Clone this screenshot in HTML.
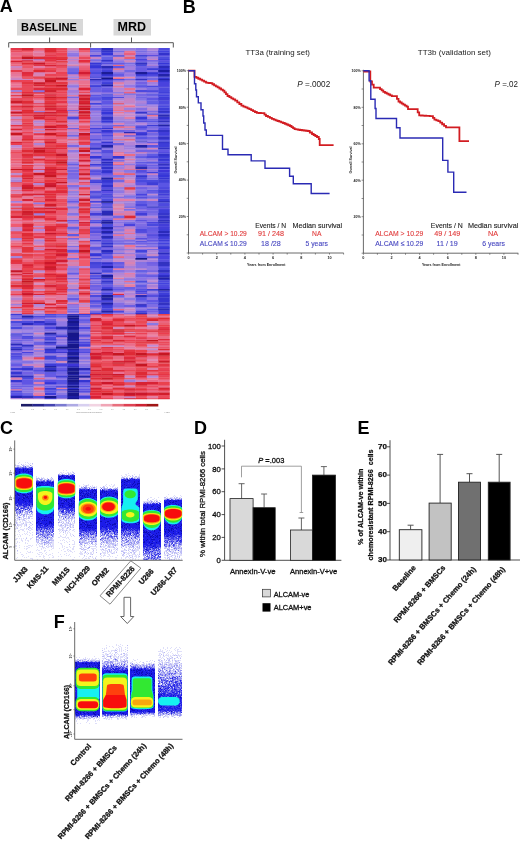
<!DOCTYPE html>
<html><head><meta charset="utf-8"><style>
html,body{margin:0;padding:0;background:#fff;width:520px;height:843px;overflow:hidden}
svg{display:block;font-family:"Liberation Sans", sans-serif;will-change:transform}
</style></head><body>
<svg width="520" height="843" viewBox="0 0 520 843">
<defs><filter id="gb" x="0" y="0" width="100%" height="100%"><feGaussianBlur stdDeviation="0.32"/></filter></defs>
<g filter="url(#gb)"><rect width="520" height="843" fill="#fff"/>
<text x="-0.3" y="12.3" font-size="18" font-weight="bold" fill="#000" text-anchor="start" >A</text>
<text x="182.7" y="12.6" font-size="18" font-weight="bold" fill="#000" text-anchor="start" >B</text>
<text x="0" y="434.2" font-size="18" font-weight="bold" fill="#000" text-anchor="start" >C</text>
<text x="194.1" y="434" font-size="18" font-weight="bold" fill="#000" text-anchor="start" >D</text>
<text x="357.5" y="434.3" font-size="18" font-weight="bold" fill="#000" text-anchor="start" >E</text>
<text x="53.7" y="628" font-size="18" font-weight="bold" fill="#000" text-anchor="start" >F</text>
<rect x="17" y="19" width="66" height="16.5" fill="#d8d8d8" stroke="none" stroke-width="1" />
<text x="21" y="31" font-size="11" font-weight="bold" fill="#000" text-anchor="start" textLength="56" lengthAdjust="spacingAndGlyphs" >BASELINE</text>
<rect x="113.5" y="19" width="37.5" height="16.5" fill="#d8d8d8" stroke="none" stroke-width="1" />
<text x="117.5" y="31.3" font-size="12.5" font-weight="bold" fill="#000" text-anchor="start" textLength="28.5" lengthAdjust="spacingAndGlyphs" >MRD</text>
<path d="M8.7 47.5V42.7H90.6V47.5M49.6 42.7V37.5M90.6 42.7H173.3V47.5M131.5 42.7V37.5" fill="none" stroke="#555" stroke-width="1"/>
<defs><filter id="hb" x="-2%" y="-1%" width="104%" height="102%"><feGaussianBlur stdDeviation="0.35"/></filter></defs><g filter="url(#hb)">
<path fill="#e43648" d="M10.6 48h11.7v2.8h-11.7zM10.6 262h11.7v2.3h-11.7zM21.9 114.5h11.7v2.3h-11.7zM21.9 122.5h11.7v2.3h-11.7zM21.9 135h11.7v1.8h-11.7zM21.9 136.5h11.7v2.8h-11.7zM21.9 156h11.7v2.8h-11.7zM21.9 170h11.7v2.3h-11.7zM21.9 173h11.7v2.3h-11.7zM21.9 183h11.7v2.3h-11.7zM21.9 242.5h11.7v2.3h-11.7zM33.3 64.5h11.7v1.8h-11.7zM33.3 133h11.7v2.3h-11.7zM33.3 236h11.7v2.3h-11.7zM44.6 70h11.7v2.3h-11.7zM44.6 94.5h11.7v2.3h-11.7zM44.6 149.5h11.7v2.8h-11.7zM44.6 245.5h11.7v1.8h-11.7zM56 86h11.7v1.8h-11.7zM56 100.5h11.7v2.8h-11.7zM56 107.5h11.7v2.8h-11.7zM56 177.5h11.7v2.3h-11.7zM56 284.5h11.7v2.8h-11.7zM56 302.5h11.7v1.8h-11.7zM78.7 48h11.7v2.8h-11.7zM78.7 182h11.7v1.3h-11.7zM78.7 215.5h11.7v2.8h-11.7zM78.7 223.5h11.7v2.8h-11.7zM78.7 256h11.7v2.3h-11.7zM90 314h11.7v1.8h-11.7zM90 325h11.7v1.8h-11.7zM90 337h11.7v2.3h-11.7zM90 375.5h11.7v2.3h-11.7zM101.3 375.5h11.7v2.3h-11.7zM101.3 389h11.7v1.8h-11.7zM135.4 314h11.7v1.8h-11.7zM135.4 340h11.7v1.8h-11.7zM135.4 370h11.7v1.8h-11.7zM146.7 374h11.7v1.8h-11.7zM158.1 326.5h11.7v2.8h-11.7zM158.1 352h11.7v1.3h-11.7z"/>
<path fill="#ea4e60" d="M10.6 50.5h11.7v2.3h-11.7zM10.6 114.5h11.7v2.3h-11.7zM10.6 132h11.7v1.3h-11.7zM10.6 193.5h11.7v2.3h-11.7zM10.6 213h11.7v2.8h-11.7zM10.6 231h11.7v2.3h-11.7zM10.6 233h11.7v1.3h-11.7zM21.9 98h11.7v2.8h-11.7zM21.9 104.5h11.7v1.3h-11.7zM21.9 126h11.7v2.3h-11.7zM21.9 195.5h11.7v1.3h-11.7zM21.9 256h11.7v2.3h-11.7zM21.9 295h11.7v2.8h-11.7zM33.3 68h11.7v2.3h-11.7zM33.3 77.5h11.7v1.8h-11.7zM33.3 94.5h11.7v2.3h-11.7zM33.3 264h11.7v2.3h-11.7zM33.3 275h11.7v2.8h-11.7zM33.3 300h11.7v2.8h-11.7zM44.6 52.5h11.7v2.8h-11.7zM44.6 156h11.7v2.8h-11.7zM44.6 213h11.7v2.8h-11.7zM44.6 236h11.7v2.3h-11.7zM44.6 270h11.7v2.8h-11.7zM56 66h11.7v2.3h-11.7zM56 76.5h11.7v1.3h-11.7zM56 93.5h11.7v1.3h-11.7zM56 94.5h11.7v2.3h-11.7zM56 116.5h11.7v2.8h-11.7zM56 119h11.7v1.8h-11.7zM56 152h11.7v1.8h-11.7zM56 179.5h11.7v2.8h-11.7zM56 198.5h11.7v2.8h-11.7zM56 202.5h11.7v1.8h-11.7zM56 305h11.7v2.3h-11.7zM56 308.5h11.7v2.3h-11.7zM78.7 76.5h11.7v1.3h-11.7zM78.7 268h11.7v2.3h-11.7zM90 326.5h11.7v2.8h-11.7zM90 332.5h11.7v2.3h-11.7zM90 335.5h11.7v1.8h-11.7zM90 352h11.7v1.3h-11.7zM90 395h11.7v1.3h-11.7zM101.3 329h11.7v1.8h-11.7zM101.3 350h11.7v2.3h-11.7zM101.3 360.5h11.7v2.3h-11.7zM112.7 314h11.7v1.8h-11.7zM112.7 321h11.7v2.3h-11.7zM112.7 348.5h11.7v1.8h-11.7zM124 244.5h11.7v1.3h-11.7zM124 323h11.7v2.3h-11.7zM124 332.5h11.7v2.3h-11.7zM124 341.5h11.7v2.3h-11.7zM124 363.5h11.7v2.8h-11.7zM124 374h11.7v1.8h-11.7zM124 384h11.7v1.8h-11.7zM124 390.5h11.7v2.3h-11.7zM135.4 352h11.7v1.3h-11.7zM146.7 331.5h11.7v1.3h-11.7zM146.7 384h11.7v1.8h-11.7zM158.1 319h11.7v2.3h-11.7zM158.1 343.5h11.7v1.8h-11.7zM158.1 366h11.7v1.8h-11.7z"/>
<path fill="#ea6684" d="M10.6 52.5h11.7v2.8h-11.7zM10.6 247h11.7v2.3h-11.7zM10.6 277.5h11.7v1.8h-11.7zM21.9 202.5h11.7v1.8h-11.7zM21.9 220h11.7v1.8h-11.7zM33.3 61h11.7v1.8h-11.7zM33.3 119h11.7v1.8h-11.7zM33.3 175h11.7v2.8h-11.7zM33.3 191h11.7v2.8h-11.7zM33.3 292.5h11.7v1.8h-11.7zM33.3 377.5h11.7v2.3h-11.7zM44.6 66h11.7v2.3h-11.7zM44.6 130h11.7v2.3h-11.7zM56 122.5h11.7v2.3h-11.7zM56 128h11.7v1.3h-11.7zM56 183h11.7v2.3h-11.7zM56 195.5h11.7v1.3h-11.7zM78.7 163.5h11.7v1.8h-11.7zM78.7 166.5h11.7v2.8h-11.7zM78.7 183h11.7v2.3h-11.7zM78.7 226h11.7v1.3h-11.7zM78.7 236h11.7v2.3h-11.7zM78.7 280.5h11.7v2.3h-11.7zM112.7 93.5h11.7v1.3h-11.7zM112.7 256h11.7v2.3h-11.7zM112.7 308.5h11.7v2.3h-11.7zM112.7 355.5h11.7v1.8h-11.7zM112.7 398h11.7v1.3h-11.7zM124 339h11.7v1.3h-11.7z"/>
<path fill="#ea6c8a" d="M10.6 55h11.7v1.8h-11.7zM10.6 76.5h11.7v1.3h-11.7zM10.6 113.5h11.7v1.3h-11.7zM10.6 165h11.7v1.8h-11.7zM10.6 189.5h11.7v1.8h-11.7zM21.9 191h11.7v2.8h-11.7zM33.3 98h11.7v2.8h-11.7zM33.3 110h11.7v1.3h-11.7zM33.3 135h11.7v1.8h-11.7zM33.3 172h11.7v1.3h-11.7zM33.3 204h11.7v2.8h-11.7zM33.3 218h11.7v2.3h-11.7zM33.3 223.5h11.7v2.8h-11.7zM33.3 227h11.7v2.3h-11.7zM33.3 287h11.7v2.3h-11.7zM33.3 395h11.7v1.3h-11.7zM44.6 111h11.7v1.3h-11.7zM44.6 283.5h11.7v1.3h-11.7zM44.6 297.5h11.7v2.8h-11.7zM56 262h11.7v2.3h-11.7zM78.7 55h11.7v1.8h-11.7zM78.7 90h11.7v2.3h-11.7zM78.7 124.5h11.7v1.8h-11.7zM78.7 128h11.7v1.3h-11.7zM78.7 234h11.7v2.3h-11.7zM78.7 242.5h11.7v2.3h-11.7zM78.7 283.5h11.7v1.3h-11.7zM78.7 295h11.7v2.8h-11.7zM90 331.5h11.7v1.3h-11.7zM90 346.5h11.7v2.3h-11.7zM112.7 77.5h11.7v1.8h-11.7zM112.7 110h11.7v1.3h-11.7zM112.7 163.5h11.7v1.8h-11.7zM112.7 352h11.7v1.3h-11.7zM124 110h11.7v1.3h-11.7zM124 169h11.7v1.3h-11.7zM124 280.5h11.7v2.3h-11.7zM124 343.5h11.7v1.8h-11.7zM135.4 339h11.7v1.3h-11.7zM135.4 362.5h11.7v1.3h-11.7zM146.7 80h11.7v2.3h-11.7zM146.7 334.5h11.7v1.3h-11.7zM146.7 339h11.7v1.3h-11.7zM146.7 379.5h11.7v2.8h-11.7zM146.7 390.5h11.7v2.3h-11.7zM158.1 385.5h11.7v2.3h-11.7z"/>
<path fill="#ea5466" d="M10.6 56.5h11.7v2.8h-11.7zM10.6 107.5h11.7v2.8h-11.7zM10.6 128h11.7v1.3h-11.7zM10.6 196.5h11.7v2.3h-11.7zM10.6 252.5h11.7v1.8h-11.7zM21.9 55h11.7v1.8h-11.7zM21.9 61h11.7v1.8h-11.7zM21.9 66h11.7v2.3h-11.7zM21.9 77.5h11.7v1.8h-11.7zM21.9 152h11.7v1.8h-11.7zM21.9 297.5h11.7v2.8h-11.7zM21.9 304h11.7v1.3h-11.7zM21.9 307h11.7v1.8h-11.7zM33.3 189.5h11.7v1.8h-11.7zM33.3 245.5h11.7v1.8h-11.7zM33.3 274h11.7v1.3h-11.7zM44.6 61h11.7v1.8h-11.7zM44.6 76.5h11.7v1.3h-11.7zM44.6 92h11.7v1.8h-11.7zM44.6 189.5h11.7v1.8h-11.7zM44.6 223.5h11.7v2.8h-11.7zM44.6 241h11.7v1.8h-11.7zM44.6 287h11.7v2.3h-11.7zM44.6 302.5h11.7v1.8h-11.7zM56 90h11.7v2.3h-11.7zM56 204h11.7v2.8h-11.7zM78.7 126h11.7v2.3h-11.7zM78.7 158.5h11.7v1.8h-11.7zM78.7 290.5h11.7v2.3h-11.7zM90 367.5h11.7v2.8h-11.7zM101.3 315.5h11.7v2.3h-11.7zM101.3 355.5h11.7v1.8h-11.7zM112.7 103h11.7v1.8h-11.7zM112.7 335.5h11.7v1.8h-11.7zM112.7 395h11.7v1.3h-11.7zM124 319h11.7v2.3h-11.7zM124 366h11.7v1.8h-11.7zM135.4 319h11.7v2.3h-11.7zM135.4 323h11.7v2.3h-11.7zM135.4 396h11.7v2.3h-11.7zM146.7 395h11.7v1.3h-11.7zM146.7 398h11.7v1.3h-11.7z"/>
<path fill="#ea7296" d="M10.6 59h11.7v1.3h-11.7zM10.6 84.5h11.7v1.8h-11.7zM10.6 202.5h11.7v1.8h-11.7zM10.6 275h11.7v2.8h-11.7zM10.6 310.5h11.7v2.3h-11.7zM21.9 274h11.7v1.3h-11.7zM33.3 93.5h11.7v1.3h-11.7zM33.3 136.5h11.7v2.8h-11.7zM33.3 244.5h11.7v1.3h-11.7zM33.3 252.5h11.7v1.8h-11.7zM33.3 389h11.7v1.8h-11.7zM44.6 305h11.7v2.3h-11.7zM56 60h11.7v1.3h-11.7zM56 270h11.7v2.8h-11.7zM67.3 233h11.7v1.3h-11.7zM78.7 62.5h11.7v2.3h-11.7zM78.7 161.5h11.7v2.3h-11.7zM78.7 175h11.7v2.8h-11.7zM112.7 371.5h11.7v2.8h-11.7zM112.7 385.5h11.7v2.3h-11.7zM124 105.5h11.7v2.3h-11.7zM124 245.5h11.7v1.8h-11.7zM146.7 357h11.7v2.8h-11.7z"/>
<path fill="#f05a6c" d="M10.6 60h11.7v1.3h-11.7zM10.6 158.5h11.7v1.8h-11.7zM10.6 175h11.7v2.8h-11.7zM10.6 236h11.7v2.3h-11.7zM21.9 50.5h11.7v2.3h-11.7zM21.9 64.5h11.7v1.8h-11.7zM21.9 231h11.7v2.3h-11.7zM33.3 113.5h11.7v1.3h-11.7zM33.3 266h11.7v2.3h-11.7zM33.3 284.5h11.7v2.8h-11.7zM44.6 132h11.7v1.3h-11.7zM44.6 209h11.7v1.8h-11.7zM44.6 312.5h11.7v1.8h-11.7zM56 247h11.7v2.3h-11.7zM56 272.5h11.7v1.8h-11.7zM67.3 139h11.7v1.8h-11.7zM78.7 50.5h11.7v2.3h-11.7zM78.7 104.5h11.7v1.3h-11.7zM78.7 259.5h11.7v2.8h-11.7zM78.7 262h11.7v2.3h-11.7zM78.7 264h11.7v2.3h-11.7zM78.7 275h11.7v2.8h-11.7zM90 329h11.7v1.8h-11.7zM90 360.5h11.7v2.3h-11.7zM101.3 319h11.7v2.3h-11.7zM101.3 366h11.7v1.8h-11.7zM101.3 385.5h11.7v2.3h-11.7zM101.3 395h11.7v1.3h-11.7zM112.7 339h11.7v1.3h-11.7zM112.7 346.5h11.7v2.3h-11.7zM124 377.5h11.7v2.3h-11.7zM135.4 360.5h11.7v2.3h-11.7zM146.7 329h11.7v1.8h-11.7zM146.7 362.5h11.7v1.3h-11.7zM146.7 363.5h11.7v2.8h-11.7zM158.1 395h11.7v1.3h-11.7z"/>
<path fill="#d82436" d="M10.6 61h11.7v1.8h-11.7zM10.6 141.5h11.7v1.8h-11.7zM10.6 195.5h11.7v1.3h-11.7zM10.6 215.5h11.7v2.8h-11.7zM21.9 60h11.7v1.3h-11.7zM21.9 177.5h11.7v2.3h-11.7zM21.9 193.5h11.7v2.3h-11.7zM21.9 198.5h11.7v2.8h-11.7zM21.9 226h11.7v1.3h-11.7zM21.9 229h11.7v2.3h-11.7zM21.9 264h11.7v2.3h-11.7zM21.9 272.5h11.7v1.8h-11.7zM21.9 284.5h11.7v2.8h-11.7zM33.3 84.5h11.7v1.8h-11.7zM33.3 193.5h11.7v2.3h-11.7zM33.3 294h11.7v1.3h-11.7zM44.6 64.5h11.7v1.8h-11.7zM44.6 93.5h11.7v1.3h-11.7zM44.6 104.5h11.7v1.3h-11.7zM44.6 107.5h11.7v2.8h-11.7zM44.6 114.5h11.7v2.3h-11.7zM44.6 119h11.7v1.8h-11.7zM44.6 173h11.7v2.3h-11.7zM44.6 198.5h11.7v2.8h-11.7zM44.6 210.5h11.7v2.8h-11.7zM44.6 229h11.7v2.3h-11.7zM44.6 284.5h11.7v2.8h-11.7zM44.6 304h11.7v1.3h-11.7zM56 110h11.7v1.3h-11.7zM56 250h11.7v2.8h-11.7zM56 275h11.7v2.8h-11.7zM56 289h11.7v1.8h-11.7zM78.7 153.5h11.7v2.8h-11.7zM78.7 165h11.7v1.8h-11.7zM78.7 221.5h11.7v2.3h-11.7zM90 317.5h11.7v1.8h-11.7zM90 340h11.7v1.8h-11.7zM90 355.5h11.7v1.8h-11.7zM90 362.5h11.7v1.3h-11.7zM90 370h11.7v1.8h-11.7zM90 396h11.7v2.3h-11.7zM101.3 323h11.7v2.3h-11.7zM112.7 331.5h11.7v1.3h-11.7zM112.7 360.5h11.7v2.3h-11.7zM124 389h11.7v1.8h-11.7zM124 398h11.7v1.3h-11.7zM146.7 330.5h11.7v1.3h-11.7zM146.7 382h11.7v2.3h-11.7z"/>
<path fill="#ea6078" d="M10.6 62.5h11.7v2.3h-11.7zM10.6 103h11.7v1.8h-11.7zM10.6 119h11.7v1.8h-11.7zM10.6 149.5h11.7v2.8h-11.7zM10.6 153.5h11.7v2.8h-11.7zM10.6 156h11.7v2.8h-11.7zM10.6 161.5h11.7v2.3h-11.7zM10.6 166.5h11.7v2.8h-11.7zM10.6 220h11.7v1.8h-11.7zM10.6 234h11.7v2.3h-11.7zM10.6 280.5h11.7v2.3h-11.7zM10.6 287h11.7v2.3h-11.7zM21.9 133h11.7v2.3h-11.7zM21.9 221.5h11.7v2.3h-11.7zM21.9 258h11.7v1.8h-11.7zM33.3 179.5h11.7v2.8h-11.7zM33.3 256h11.7v2.3h-11.7zM44.6 163.5h11.7v1.8h-11.7zM44.6 187h11.7v2.8h-11.7zM44.6 289h11.7v1.8h-11.7zM56 62.5h11.7v2.3h-11.7zM56 68h11.7v2.3h-11.7zM56 175h11.7v2.8h-11.7zM56 206.5h11.7v1.3h-11.7zM56 218h11.7v2.3h-11.7zM56 239.5h11.7v1.8h-11.7zM56 241h11.7v1.8h-11.7zM56 292.5h11.7v1.8h-11.7zM56 310.5h11.7v2.3h-11.7zM56 312.5h11.7v1.8h-11.7zM78.7 66h11.7v2.3h-11.7zM78.7 213h11.7v2.8h-11.7zM78.7 227h11.7v2.3h-11.7zM78.7 270h11.7v2.8h-11.7zM78.7 272.5h11.7v1.8h-11.7zM78.7 312.5h11.7v1.8h-11.7zM90 323h11.7v2.3h-11.7zM90 334.5h11.7v1.3h-11.7zM90 339h11.7v1.3h-11.7zM90 379.5h11.7v2.8h-11.7zM90 385.5h11.7v2.3h-11.7zM101.3 339h11.7v1.3h-11.7zM112.7 337h11.7v2.3h-11.7zM112.7 341.5h11.7v2.3h-11.7zM112.7 359.5h11.7v1.3h-11.7zM112.7 390.5h11.7v2.3h-11.7zM124 348.5h11.7v1.8h-11.7zM124 367.5h11.7v2.8h-11.7zM124 371.5h11.7v2.8h-11.7zM135.4 357h11.7v2.8h-11.7z"/>
<path fill="#ea667e" d="M10.6 64.5h11.7v1.8h-11.7zM10.6 160h11.7v1.8h-11.7zM10.6 185h11.7v2.3h-11.7zM10.6 242.5h11.7v2.3h-11.7zM10.6 290.5h11.7v2.3h-11.7zM10.6 292.5h11.7v1.8h-11.7zM21.9 52.5h11.7v2.8h-11.7zM21.9 70h11.7v2.3h-11.7zM21.9 130h11.7v2.3h-11.7zM21.9 182h11.7v1.3h-11.7zM21.9 259.5h11.7v2.8h-11.7zM33.3 165h11.7v1.8h-11.7zM33.3 185h11.7v2.3h-11.7zM33.3 198.5h11.7v2.8h-11.7zM33.3 221.5h11.7v2.3h-11.7zM33.3 272.5h11.7v1.8h-11.7zM44.6 221.5h11.7v2.3h-11.7zM44.6 308.5h11.7v2.3h-11.7zM56 70h11.7v2.3h-11.7zM56 215.5h11.7v2.8h-11.7zM78.7 84.5h11.7v1.8h-11.7zM78.7 130h11.7v2.3h-11.7zM78.7 297.5h11.7v2.8h-11.7zM101.3 379.5h11.7v2.8h-11.7zM112.7 64.5h11.7v1.8h-11.7zM112.7 177.5h11.7v2.3h-11.7zM112.7 357h11.7v2.8h-11.7zM112.7 366h11.7v1.8h-11.7zM112.7 367.5h11.7v2.8h-11.7zM124 315.5h11.7v2.3h-11.7zM124 326.5h11.7v2.8h-11.7zM146.7 355.5h11.7v1.8h-11.7zM146.7 371.5h11.7v2.8h-11.7zM158.1 321h11.7v2.3h-11.7zM158.1 345h11.7v1.8h-11.7zM158.1 390.5h11.7v2.3h-11.7z"/>
<path fill="#cc84c0" d="M10.6 66h11.7v2.3h-11.7zM10.6 77.5h11.7v1.8h-11.7zM10.6 120.5h11.7v2.3h-11.7zM10.6 187h11.7v2.8h-11.7zM10.6 209h11.7v1.8h-11.7zM10.6 279h11.7v1.8h-11.7zM21.9 79h11.7v1.3h-11.7zM33.3 122.5h11.7v2.3h-11.7zM33.3 195.5h11.7v1.3h-11.7zM33.3 312.5h11.7v1.8h-11.7zM33.3 339h11.7v1.3h-11.7zM67.3 77.5h11.7v1.8h-11.7zM67.3 82h11.7v2.8h-11.7zM67.3 107.5h11.7v2.8h-11.7zM67.3 189.5h11.7v1.8h-11.7zM67.3 195.5h11.7v1.3h-11.7zM67.3 223.5h11.7v2.8h-11.7zM112.7 100.5h11.7v2.8h-11.7zM112.7 135h11.7v1.8h-11.7zM112.7 195.5h11.7v1.3h-11.7zM124 129h11.7v1.3h-11.7zM124 165h11.7v1.8h-11.7zM124 166.5h11.7v2.8h-11.7zM124 207.5h11.7v1.8h-11.7zM124 231h11.7v2.3h-11.7zM124 254h11.7v2.3h-11.7zM124 259.5h11.7v2.8h-11.7zM124 274h11.7v1.3h-11.7zM124 331.5h11.7v1.3h-11.7zM124 385.5h11.7v2.3h-11.7zM124 396h11.7v2.3h-11.7zM135.4 379.5h11.7v2.8h-11.7zM146.7 59h11.7v1.3h-11.7zM146.7 173h11.7v2.3h-11.7z"/>
<path fill="#de7ea8" d="M10.6 68h11.7v2.3h-11.7zM10.6 147.5h11.7v2.3h-11.7zM10.6 249h11.7v1.3h-11.7zM10.6 283.5h11.7v1.3h-11.7zM10.6 300h11.7v2.8h-11.7zM33.3 50.5h11.7v2.3h-11.7zM33.3 156h11.7v2.8h-11.7zM67.3 80h11.7v2.3h-11.7zM67.3 94.5h11.7v2.3h-11.7zM67.3 283.5h11.7v1.3h-11.7zM78.7 132h11.7v1.3h-11.7zM112.7 105.5h11.7v2.3h-11.7zM112.7 107.5h11.7v2.8h-11.7zM112.7 334.5h11.7v1.3h-11.7zM124 113.5h11.7v1.3h-11.7zM124 116.5h11.7v2.8h-11.7zM124 126h11.7v2.3h-11.7zM124 210.5h11.7v2.8h-11.7zM124 346.5h11.7v2.3h-11.7zM146.7 367.5h11.7v2.8h-11.7z"/>
<path fill="#e43c4e" d="M10.6 70h11.7v2.3h-11.7zM10.6 94.5h11.7v2.3h-11.7zM21.9 103h11.7v1.8h-11.7zM21.9 141.5h11.7v1.8h-11.7zM21.9 270h11.7v2.8h-11.7zM33.3 103h11.7v1.8h-11.7zM44.6 55h11.7v1.8h-11.7zM44.6 82h11.7v2.8h-11.7zM44.6 145h11.7v2.8h-11.7zM44.6 234h11.7v2.3h-11.7zM44.6 258h11.7v1.8h-11.7zM56 64.5h11.7v1.8h-11.7zM56 105.5h11.7v2.3h-11.7zM56 132h11.7v1.3h-11.7zM56 294h11.7v1.3h-11.7zM78.7 96.5h11.7v1.8h-11.7zM90 348.5h11.7v1.8h-11.7zM101.3 357h11.7v2.8h-11.7zM124 387.5h11.7v1.8h-11.7zM135.4 337h11.7v2.3h-11.7zM158.1 355.5h11.7v1.8h-11.7zM158.1 370h11.7v1.8h-11.7z"/>
<path fill="#ea7290" d="M10.6 72h11.7v2.3h-11.7zM10.6 82h11.7v2.8h-11.7zM10.6 126h11.7v2.3h-11.7zM10.6 135h11.7v1.8h-11.7zM10.6 198.5h11.7v2.8h-11.7zM10.6 241h11.7v1.8h-11.7zM10.6 264h11.7v2.3h-11.7zM21.9 252.5h11.7v1.8h-11.7zM33.3 141.5h11.7v1.8h-11.7zM44.6 72h11.7v2.3h-11.7zM44.6 128h11.7v1.3h-11.7zM56 130h11.7v2.3h-11.7zM56 141.5h11.7v1.8h-11.7zM67.3 252.5h11.7v1.8h-11.7zM78.7 64.5h11.7v1.8h-11.7zM78.7 80h11.7v2.3h-11.7zM78.7 82h11.7v2.8h-11.7zM78.7 86h11.7v1.8h-11.7zM78.7 119h11.7v1.8h-11.7zM78.7 189.5h11.7v1.8h-11.7zM78.7 196.5h11.7v2.3h-11.7zM78.7 220h11.7v1.8h-11.7zM78.7 308.5h11.7v2.3h-11.7zM101.3 317.5h11.7v1.8h-11.7zM112.7 86h11.7v1.8h-11.7zM112.7 152h11.7v1.8h-11.7zM112.7 173h11.7v2.3h-11.7zM112.7 315.5h11.7v2.3h-11.7zM124 50.5h11.7v2.3h-11.7zM124 87.5h11.7v2.8h-11.7zM124 111h11.7v1.3h-11.7zM124 233h11.7v1.3h-11.7zM124 321h11.7v2.3h-11.7zM124 345h11.7v1.8h-11.7zM135.4 346.5h11.7v2.3h-11.7zM146.7 114.5h11.7v2.3h-11.7zM146.7 332.5h11.7v2.3h-11.7zM146.7 346.5h11.7v2.3h-11.7zM146.7 350h11.7v2.3h-11.7zM158.1 315.5h11.7v2.3h-11.7zM158.1 379.5h11.7v2.8h-11.7z"/>
<path fill="#e4789c" d="M10.6 74h11.7v2.8h-11.7zM10.6 139h11.7v1.8h-11.7zM10.6 163.5h11.7v1.8h-11.7zM21.9 196.5h11.7v2.3h-11.7zM21.9 201h11.7v1.8h-11.7zM33.3 52.5h11.7v2.8h-11.7zM33.3 79h11.7v1.3h-11.7zM33.3 104.5h11.7v1.3h-11.7zM33.3 128h11.7v1.3h-11.7zM33.3 130h11.7v2.3h-11.7zM33.3 145h11.7v2.8h-11.7zM33.3 238h11.7v1.8h-11.7zM44.6 295h11.7v2.8h-11.7zM56 295h11.7v2.8h-11.7zM56 297.5h11.7v2.8h-11.7zM67.3 259.5h11.7v2.8h-11.7zM78.7 110h11.7v1.3h-11.7zM78.7 122.5h11.7v2.3h-11.7zM90 315.5h11.7v2.3h-11.7zM112.7 161.5h11.7v2.3h-11.7zM112.7 213h11.7v2.8h-11.7zM112.7 218h11.7v2.3h-11.7zM112.7 234h11.7v2.3h-11.7zM112.7 283.5h11.7v1.3h-11.7zM124 182h11.7v1.3h-11.7zM124 238h11.7v1.8h-11.7zM124 283.5h11.7v1.3h-11.7zM124 334.5h11.7v1.3h-11.7zM135.4 169h11.7v1.3h-11.7zM135.4 348.5h11.7v1.8h-11.7z"/>
<path fill="#c684c6" d="M10.6 79h11.7v1.3h-11.7zM21.9 363.5h11.7v2.8h-11.7zM33.3 124.5h11.7v1.8h-11.7zM33.3 206.5h11.7v1.3h-11.7zM33.3 241h11.7v1.8h-11.7zM33.3 242.5h11.7v2.3h-11.7zM33.3 283.5h11.7v1.3h-11.7zM33.3 295h11.7v2.8h-11.7zM33.3 363.5h11.7v2.8h-11.7zM67.3 74h11.7v2.8h-11.7zM67.3 104.5h11.7v1.3h-11.7zM67.3 105.5h11.7v2.3h-11.7zM67.3 114.5h11.7v2.3h-11.7zM67.3 254h11.7v2.3h-11.7zM67.3 287h11.7v2.3h-11.7zM78.7 346.5h11.7v2.3h-11.7zM90 56.5h11.7v2.8h-11.7zM90 283.5h11.7v1.3h-11.7zM112.7 114.5h11.7v2.3h-11.7zM112.7 141.5h11.7v1.8h-11.7zM112.7 210.5h11.7v2.8h-11.7zM124 90h11.7v2.3h-11.7zM124 98h11.7v2.8h-11.7zM124 100.5h11.7v2.8h-11.7zM124 161.5h11.7v2.3h-11.7zM124 191h11.7v2.8h-11.7zM124 264h11.7v2.3h-11.7zM124 268h11.7v2.3h-11.7zM124 375.5h11.7v2.3h-11.7zM146.7 198.5h11.7v2.8h-11.7z"/>
<path fill="#ea4254" d="M10.6 80h11.7v2.3h-11.7zM10.6 111h11.7v1.3h-11.7zM10.6 182h11.7v1.3h-11.7zM10.6 258h11.7v1.8h-11.7zM21.9 80h11.7v2.3h-11.7zM21.9 84.5h11.7v1.8h-11.7zM21.9 132h11.7v1.3h-11.7zM33.3 96.5h11.7v1.8h-11.7zM33.3 105.5h11.7v2.3h-11.7zM33.3 139h11.7v1.8h-11.7zM33.3 182h11.7v1.3h-11.7zM33.3 250h11.7v2.8h-11.7zM33.3 259.5h11.7v2.8h-11.7zM33.3 308.5h11.7v2.3h-11.7zM44.6 74h11.7v2.8h-11.7zM44.6 86h11.7v1.8h-11.7zM44.6 120.5h11.7v2.3h-11.7zM44.6 182h11.7v1.3h-11.7zM44.6 215.5h11.7v2.8h-11.7zM44.6 231h11.7v2.3h-11.7zM44.6 250h11.7v2.8h-11.7zM44.6 272.5h11.7v1.8h-11.7zM56 48h11.7v2.8h-11.7zM56 52.5h11.7v2.8h-11.7zM56 72h11.7v2.3h-11.7zM56 92h11.7v1.8h-11.7zM56 129h11.7v1.3h-11.7zM56 133h11.7v2.3h-11.7zM56 143h11.7v2.3h-11.7zM56 166.5h11.7v2.8h-11.7zM56 242.5h11.7v2.3h-11.7zM56 268h11.7v2.3h-11.7zM78.7 70h11.7v2.3h-11.7zM78.7 113.5h11.7v1.3h-11.7zM78.7 139h11.7v1.8h-11.7zM78.7 143h11.7v2.3h-11.7zM78.7 231h11.7v2.3h-11.7zM78.7 247h11.7v2.3h-11.7zM78.7 249h11.7v1.3h-11.7zM78.7 252.5h11.7v1.8h-11.7zM101.3 348.5h11.7v1.8h-11.7zM112.7 317.5h11.7v1.8h-11.7zM112.7 389h11.7v1.8h-11.7zM124 340h11.7v1.8h-11.7zM124 355.5h11.7v1.8h-11.7zM135.4 332.5h11.7v2.3h-11.7zM135.4 387.5h11.7v1.8h-11.7zM158.1 367.5h11.7v2.8h-11.7zM158.1 375.5h11.7v2.3h-11.7zM158.1 384h11.7v1.8h-11.7z"/>
<path fill="#e47ea2" d="M10.6 86h11.7v1.8h-11.7zM10.6 96.5h11.7v1.8h-11.7zM10.6 130h11.7v2.3h-11.7zM10.6 389h11.7v1.8h-11.7zM21.9 163.5h11.7v1.8h-11.7zM33.3 55h11.7v1.8h-11.7zM33.3 140.5h11.7v1.3h-11.7zM44.6 300h11.7v2.8h-11.7zM56 387.5h11.7v1.8h-11.7zM67.3 236h11.7v2.3h-11.7zM78.7 52.5h11.7v2.8h-11.7zM78.7 289h11.7v1.8h-11.7zM78.7 310.5h11.7v2.3h-11.7zM101.3 334.5h11.7v1.3h-11.7zM112.7 76.5h11.7v1.3h-11.7zM112.7 82h11.7v2.8h-11.7zM112.7 133h11.7v2.3h-11.7zM112.7 207.5h11.7v1.8h-11.7zM112.7 277.5h11.7v1.8h-11.7zM112.7 396h11.7v2.3h-11.7zM124 158.5h11.7v1.8h-11.7zM124 179.5h11.7v2.8h-11.7zM124 218h11.7v2.3h-11.7zM124 284.5h11.7v2.8h-11.7zM124 314h11.7v1.8h-11.7zM146.7 314h11.7v1.8h-11.7zM146.7 396h11.7v2.3h-11.7zM158.1 350h11.7v2.3h-11.7z"/>
<path fill="#ea485a" d="M10.6 87.5h11.7v2.8h-11.7zM10.6 98h11.7v2.8h-11.7zM10.6 152h11.7v1.8h-11.7zM10.6 254h11.7v2.3h-11.7zM21.9 86h11.7v1.8h-11.7zM21.9 87.5h11.7v2.8h-11.7zM21.9 107.5h11.7v2.8h-11.7zM21.9 128h11.7v1.3h-11.7zM21.9 140.5h11.7v1.3h-11.7zM21.9 147.5h11.7v2.3h-11.7zM21.9 172h11.7v1.3h-11.7zM21.9 262h11.7v2.3h-11.7zM21.9 310.5h11.7v2.3h-11.7zM33.3 201h11.7v1.8h-11.7zM33.3 209h11.7v1.8h-11.7zM33.3 254h11.7v2.3h-11.7zM33.3 280.5h11.7v2.3h-11.7zM33.3 290.5h11.7v2.3h-11.7zM33.3 357h11.7v2.8h-11.7zM44.6 62.5h11.7v2.3h-11.7zM44.6 158.5h11.7v1.8h-11.7zM44.6 165h11.7v1.8h-11.7zM44.6 202.5h11.7v1.8h-11.7zM44.6 242.5h11.7v2.3h-11.7zM44.6 254h11.7v2.3h-11.7zM56 50.5h11.7v2.3h-11.7zM56 55h11.7v1.8h-11.7zM56 74h11.7v2.8h-11.7zM56 98h11.7v2.8h-11.7zM56 201h11.7v1.8h-11.7zM56 227h11.7v2.3h-11.7zM56 231h11.7v2.3h-11.7zM56 234h11.7v2.3h-11.7zM56 256h11.7v2.3h-11.7zM78.7 56.5h11.7v2.8h-11.7zM78.7 74h11.7v2.8h-11.7zM78.7 92h11.7v1.8h-11.7zM78.7 156h11.7v2.8h-11.7zM78.7 284.5h11.7v2.8h-11.7zM90 359.5h11.7v1.3h-11.7zM101.3 363.5h11.7v2.8h-11.7zM112.7 323h11.7v2.3h-11.7zM124 317.5h11.7v1.8h-11.7zM124 370h11.7v1.8h-11.7zM124 382h11.7v2.3h-11.7zM135.4 343.5h11.7v1.8h-11.7zM135.4 366h11.7v1.8h-11.7zM135.4 385.5h11.7v2.3h-11.7zM158.1 341.5h11.7v2.3h-11.7zM158.1 377.5h11.7v2.3h-11.7zM158.1 396h11.7v2.3h-11.7z"/>
<path fill="#a27ed8" d="M10.6 90h11.7v2.3h-11.7zM56 355.5h11.7v1.8h-11.7zM101.3 272.5h11.7v1.8h-11.7zM124 304h11.7v1.3h-11.7zM146.7 152h11.7v1.8h-11.7z"/>
<path fill="#ea5a72" d="M10.6 92h11.7v1.8h-11.7zM10.6 204h11.7v2.8h-11.7zM33.3 48h11.7v2.8h-11.7zM33.3 161.5h11.7v2.3h-11.7zM33.3 177.5h11.7v2.3h-11.7zM33.3 234h11.7v2.3h-11.7zM44.6 247h11.7v2.3h-11.7zM56 136.5h11.7v2.8h-11.7zM56 140.5h11.7v1.3h-11.7zM56 172h11.7v1.3h-11.7zM56 229h11.7v2.3h-11.7zM78.7 68h11.7v2.3h-11.7zM78.7 140.5h11.7v1.3h-11.7zM78.7 170h11.7v2.3h-11.7zM78.7 277.5h11.7v1.8h-11.7zM90 350h11.7v2.3h-11.7zM112.7 350h11.7v2.3h-11.7zM112.7 379.5h11.7v2.8h-11.7zM135.4 331.5h11.7v1.3h-11.7zM135.4 334.5h11.7v1.3h-11.7zM135.4 390.5h11.7v2.3h-11.7zM146.7 337h11.7v2.3h-11.7zM158.1 362.5h11.7v1.3h-11.7z"/>
<path fill="#d284ba" d="M10.6 93.5h11.7v1.3h-11.7zM10.6 239.5h11.7v1.8h-11.7zM10.6 295h11.7v2.8h-11.7zM10.6 305h11.7v2.3h-11.7zM21.9 59h11.7v1.3h-11.7zM21.9 359.5h11.7v1.3h-11.7zM33.3 72h11.7v2.3h-11.7zM33.3 163.5h11.7v1.8h-11.7zM33.3 332.5h11.7v2.3h-11.7zM33.3 359.5h11.7v1.3h-11.7zM44.6 206.5h11.7v1.3h-11.7zM56 221.5h11.7v2.3h-11.7zM67.3 56.5h11.7v2.8h-11.7zM67.3 122.5h11.7v2.3h-11.7zM67.3 215.5h11.7v2.8h-11.7zM78.7 179.5h11.7v2.8h-11.7zM78.7 359.5h11.7v1.3h-11.7zM112.7 183h11.7v2.3h-11.7zM124 61h11.7v1.8h-11.7zM124 189.5h11.7v1.8h-11.7zM124 247h11.7v2.3h-11.7zM124 275h11.7v2.8h-11.7zM124 308.5h11.7v2.3h-11.7zM146.7 147.5h11.7v2.3h-11.7zM146.7 315.5h11.7v2.3h-11.7z"/>
<path fill="#cc1e2a" d="M10.6 100.5h11.7v2.8h-11.7zM10.6 274h11.7v1.3h-11.7zM21.9 187h11.7v2.8h-11.7zM21.9 210.5h11.7v2.8h-11.7zM33.3 82h11.7v2.8h-11.7zM44.6 96.5h11.7v1.8h-11.7zM44.6 129h11.7v1.3h-11.7zM44.6 266h11.7v2.3h-11.7zM56 169h11.7v1.3h-11.7zM78.7 98h11.7v2.8h-11.7zM78.7 103h11.7v1.8h-11.7zM78.7 173h11.7v2.3h-11.7zM78.7 198.5h11.7v2.8h-11.7zM101.3 377.5h11.7v2.3h-11.7zM158.1 360.5h11.7v2.3h-11.7z"/>
<path fill="#e47896" d="M10.6 104.5h11.7v1.3h-11.7zM112.7 68h11.7v2.3h-11.7z"/>
<path fill="#e43042" d="M10.6 105.5h11.7v2.3h-11.7zM10.6 124.5h11.7v1.8h-11.7zM21.9 74h11.7v2.8h-11.7zM21.9 227h11.7v2.3h-11.7zM21.9 266h11.7v2.3h-11.7zM33.3 153.5h11.7v2.8h-11.7zM33.3 169h11.7v1.3h-11.7zM44.6 60h11.7v1.3h-11.7zM44.6 195.5h11.7v1.3h-11.7zM44.6 196.5h11.7v2.3h-11.7zM44.6 238h11.7v1.8h-11.7zM56 163.5h11.7v1.8h-11.7zM56 279h11.7v1.8h-11.7zM56 290.5h11.7v2.3h-11.7zM101.3 325h11.7v1.8h-11.7zM101.3 331.5h11.7v1.3h-11.7zM101.3 346.5h11.7v2.3h-11.7zM135.4 355.5h11.7v1.8h-11.7zM146.7 370h11.7v1.8h-11.7zM158.1 374h11.7v1.8h-11.7zM158.1 389h11.7v1.8h-11.7zM158.1 398h11.7v1.3h-11.7z"/>
<path fill="#d87eae" d="M10.6 110h11.7v1.3h-11.7zM10.6 250h11.7v2.8h-11.7zM21.9 357h11.7v2.8h-11.7zM33.3 247h11.7v2.3h-11.7zM56 236h11.7v2.3h-11.7zM67.3 264h11.7v2.3h-11.7zM112.7 169h11.7v1.3h-11.7zM124 213h11.7v2.8h-11.7z"/>
<path fill="#c6182a" d="M10.6 112h11.7v1.8h-11.7zM10.6 270h11.7v2.8h-11.7zM44.6 185h11.7v2.3h-11.7zM44.6 233h11.7v1.3h-11.7zM56 153.5h11.7v2.8h-11.7zM124 392.5h11.7v2.8h-11.7z"/>
<path fill="#c68acc" d="M10.6 116.5h11.7v2.8h-11.7zM10.6 122.5h11.7v2.3h-11.7zM10.6 319h11.7v2.3h-11.7zM67.3 126h11.7v2.3h-11.7zM67.3 130h11.7v2.3h-11.7zM78.7 305h11.7v2.3h-11.7zM112.7 259.5h11.7v2.8h-11.7zM112.7 345h11.7v1.8h-11.7zM124 55h11.7v1.8h-11.7zM124 250h11.7v2.8h-11.7zM124 295h11.7v2.8h-11.7z"/>
<path fill="#d82430" d="M10.6 129h11.7v1.3h-11.7zM21.9 48h11.7v2.8h-11.7zM21.9 93.5h11.7v1.3h-11.7zM21.9 105.5h11.7v2.3h-11.7zM21.9 223.5h11.7v2.8h-11.7zM33.3 112h11.7v1.8h-11.7zM33.3 116.5h11.7v2.8h-11.7zM33.3 152h11.7v1.8h-11.7zM44.6 77.5h11.7v1.8h-11.7zM44.6 79h11.7v1.3h-11.7zM44.6 105.5h11.7v2.3h-11.7zM44.6 274h11.7v1.3h-11.7zM56 124.5h11.7v1.8h-11.7zM56 160h11.7v1.8h-11.7zM56 220h11.7v1.8h-11.7zM56 244.5h11.7v1.3h-11.7zM56 249h11.7v1.3h-11.7zM56 307h11.7v1.8h-11.7zM78.7 100.5h11.7v2.8h-11.7zM78.7 111h11.7v1.3h-11.7zM78.7 114.5h11.7v2.3h-11.7zM78.7 193.5h11.7v2.3h-11.7zM78.7 292.5h11.7v1.8h-11.7zM101.3 337h11.7v2.3h-11.7zM112.7 329h11.7v1.8h-11.7zM112.7 340h11.7v1.8h-11.7zM112.7 384h11.7v1.8h-11.7zM124 395h11.7v1.3h-11.7zM135.4 382h11.7v2.3h-11.7zM135.4 384h11.7v1.8h-11.7zM146.7 319h11.7v2.3h-11.7zM146.7 392.5h11.7v2.8h-11.7zM158.1 331.5h11.7v1.3h-11.7zM158.1 387.5h11.7v1.8h-11.7z"/>
<path fill="#c61824" d="M10.6 133h11.7v2.3h-11.7zM10.6 169h11.7v1.3h-11.7zM21.9 56.5h11.7v2.8h-11.7zM21.9 94.5h11.7v2.3h-11.7zM21.9 280.5h11.7v2.3h-11.7zM21.9 294h11.7v1.3h-11.7zM33.3 149.5h11.7v2.8h-11.7zM33.3 173h11.7v2.3h-11.7zM33.3 302.5h11.7v1.8h-11.7zM44.6 80h11.7v2.3h-11.7zM44.6 133h11.7v2.3h-11.7zM44.6 175h11.7v2.8h-11.7zM56 84.5h11.7v1.8h-11.7zM56 161.5h11.7v2.3h-11.7zM56 182h11.7v1.3h-11.7zM78.7 107.5h11.7v2.8h-11.7zM78.7 133h11.7v2.3h-11.7zM78.7 149.5h11.7v2.8h-11.7zM78.7 250h11.7v2.8h-11.7zM101.3 392.5h11.7v2.8h-11.7zM112.7 330.5h11.7v1.3h-11.7zM112.7 353h11.7v2.8h-11.7zM124 325h11.7v1.8h-11.7zM135.4 353h11.7v2.8h-11.7zM135.4 363.5h11.7v2.8h-11.7zM146.7 340h11.7v1.8h-11.7zM158.1 353h11.7v2.8h-11.7z"/>
<path fill="#e47ea8" d="M10.6 136.5h11.7v2.8h-11.7zM10.6 221.5h11.7v2.3h-11.7zM10.6 268h11.7v2.3h-11.7zM33.3 60h11.7v1.3h-11.7zM33.3 66h11.7v2.3h-11.7zM33.3 307h11.7v1.8h-11.7zM56 304h11.7v1.3h-11.7zM67.3 129h11.7v1.3h-11.7zM67.3 256h11.7v2.3h-11.7zM90 345h11.7v1.8h-11.7zM112.7 153.5h11.7v2.8h-11.7zM112.7 268h11.7v2.3h-11.7zM124 104.5h11.7v1.3h-11.7zM124 198.5h11.7v2.8h-11.7zM124 229h11.7v2.3h-11.7zM124 272.5h11.7v1.8h-11.7zM146.7 335.5h11.7v1.8h-11.7zM146.7 343.5h11.7v1.8h-11.7z"/>
<path fill="#ea6c84" d="M10.6 140.5h11.7v1.3h-11.7zM10.6 272.5h11.7v1.8h-11.7zM21.9 68h11.7v2.3h-11.7zM21.9 245.5h11.7v1.8h-11.7zM33.3 107.5h11.7v2.8h-11.7zM56 80h11.7v2.3h-11.7zM56 139h11.7v1.8h-11.7zM56 196.5h11.7v2.3h-11.7zM78.7 59h11.7v1.3h-11.7zM78.7 191h11.7v2.8h-11.7zM78.7 201h11.7v1.8h-11.7zM101.3 387.5h11.7v1.8h-11.7zM112.7 126h11.7v2.3h-11.7zM112.7 139h11.7v1.8h-11.7zM124 153.5h11.7v2.8h-11.7zM146.7 387.5h11.7v1.8h-11.7zM158.1 335.5h11.7v1.8h-11.7zM158.1 337h11.7v2.3h-11.7z"/>
<path fill="#ea3c4e" d="M10.6 143h11.7v2.3h-11.7zM10.6 245.5h11.7v1.8h-11.7zM10.6 294h11.7v1.3h-11.7zM10.6 307h11.7v1.8h-11.7zM21.9 76.5h11.7v1.3h-11.7zM21.9 113.5h11.7v1.3h-11.7zM21.9 166.5h11.7v2.8h-11.7zM21.9 204h11.7v2.8h-11.7zM21.9 218h11.7v2.3h-11.7zM44.6 116.5h11.7v2.8h-11.7zM44.6 135h11.7v1.8h-11.7zM44.6 201h11.7v1.8h-11.7zM44.6 277.5h11.7v1.8h-11.7zM56 104.5h11.7v1.3h-11.7zM56 185h11.7v2.3h-11.7zM78.7 120.5h11.7v2.3h-11.7zM78.7 129h11.7v1.3h-11.7zM78.7 187h11.7v2.8h-11.7zM135.4 317.5h11.7v1.8h-11.7zM135.4 329h11.7v1.8h-11.7zM158.1 332.5h11.7v2.3h-11.7z"/>
<path fill="#c08ad2" d="M10.6 145h11.7v2.8h-11.7zM21.9 398h11.7v1.3h-11.7zM33.3 170h11.7v2.3h-11.7zM33.3 398h11.7v1.3h-11.7zM67.3 87.5h11.7v2.8h-11.7zM67.3 103h11.7v1.8h-11.7zM67.3 153.5h11.7v2.8h-11.7zM67.3 160h11.7v1.8h-11.7zM67.3 239.5h11.7v1.8h-11.7zM67.3 312.5h11.7v1.8h-11.7zM78.7 266h11.7v2.3h-11.7zM90 294h11.7v1.3h-11.7zM101.3 345h11.7v1.8h-11.7zM112.7 111h11.7v1.3h-11.7zM112.7 129h11.7v1.3h-11.7zM112.7 182h11.7v1.3h-11.7zM124 114.5h11.7v2.3h-11.7zM124 149.5h11.7v2.8h-11.7zM124 160h11.7v1.8h-11.7zM124 183h11.7v2.3h-11.7zM124 234h11.7v2.3h-11.7zM124 307h11.7v1.8h-11.7zM135.4 247h11.7v2.3h-11.7zM146.7 247h11.7v2.3h-11.7zM146.7 280.5h11.7v2.3h-11.7zM146.7 287h11.7v2.3h-11.7zM146.7 345h11.7v1.8h-11.7z"/>
<path fill="#ea6072" d="M10.6 170h11.7v2.3h-11.7zM10.6 172h11.7v1.3h-11.7zM10.6 183h11.7v2.3h-11.7zM10.6 226h11.7v1.3h-11.7zM21.9 116.5h11.7v2.8h-11.7zM33.3 86h11.7v1.8h-11.7zM33.3 126h11.7v2.3h-11.7zM33.3 258h11.7v1.8h-11.7zM44.6 220h11.7v1.8h-11.7zM44.6 280.5h11.7v2.3h-11.7zM56 170h11.7v2.3h-11.7zM78.7 172h11.7v1.3h-11.7zM90 343.5h11.7v1.8h-11.7zM101.3 343.5h11.7v1.8h-11.7zM101.3 359.5h11.7v1.3h-11.7zM124 56.5h11.7v2.8h-11.7zM124 139h11.7v1.8h-11.7zM124 173h11.7v2.3h-11.7zM158.1 323h11.7v2.3h-11.7z"/>
<path fill="#c08acc" d="M10.6 173h11.7v2.3h-11.7zM10.6 312.5h11.7v1.8h-11.7zM33.3 345h11.7v1.8h-11.7zM67.3 136.5h11.7v2.8h-11.7zM67.3 156h11.7v2.8h-11.7zM67.3 204h11.7v2.8h-11.7zM67.3 241h11.7v1.8h-11.7zM78.7 79h11.7v1.3h-11.7zM78.7 238h11.7v1.8h-11.7zM90 177.5h11.7v2.3h-11.7zM90 308.5h11.7v2.3h-11.7zM112.7 128h11.7v1.3h-11.7zM112.7 275h11.7v2.8h-11.7zM124 80h11.7v2.3h-11.7zM124 136.5h11.7v2.8h-11.7zM124 140.5h11.7v1.3h-11.7zM124 177.5h11.7v2.3h-11.7zM146.7 348.5h11.7v1.8h-11.7z"/>
<path fill="#ba8ad2" d="M10.6 177.5h11.7v2.3h-11.7zM10.6 229h11.7v2.3h-11.7zM21.9 331.5h11.7v1.3h-11.7zM33.3 132h11.7v1.3h-11.7zM33.3 226h11.7v1.3h-11.7zM33.3 249h11.7v1.3h-11.7zM33.3 270h11.7v2.8h-11.7zM33.3 305h11.7v2.3h-11.7zM33.3 310.5h11.7v2.3h-11.7zM33.3 352h11.7v1.3h-11.7zM33.3 385.5h11.7v2.3h-11.7zM67.3 61h11.7v1.8h-11.7zM67.3 62.5h11.7v2.3h-11.7zM67.3 113.5h11.7v1.3h-11.7zM67.3 140.5h11.7v1.3h-11.7zM67.3 143h11.7v2.3h-11.7zM67.3 209h11.7v1.8h-11.7zM67.3 210.5h11.7v2.8h-11.7zM67.3 218h11.7v2.3h-11.7zM67.3 231h11.7v2.3h-11.7zM67.3 242.5h11.7v2.3h-11.7zM78.7 145h11.7v2.8h-11.7zM78.7 302.5h11.7v1.8h-11.7zM78.7 362.5h11.7v1.3h-11.7zM90 202.5h11.7v1.8h-11.7zM90 290.5h11.7v2.3h-11.7zM112.7 84.5h11.7v1.8h-11.7zM112.7 90h11.7v2.3h-11.7zM112.7 136.5h11.7v2.8h-11.7zM112.7 145h11.7v2.8h-11.7zM112.7 147.5h11.7v2.3h-11.7zM112.7 149.5h11.7v2.8h-11.7zM112.7 202.5h11.7v1.8h-11.7zM112.7 231h11.7v2.3h-11.7zM112.7 244.5h11.7v1.3h-11.7zM112.7 280.5h11.7v2.3h-11.7zM112.7 297.5h11.7v2.8h-11.7zM124 77.5h11.7v1.8h-11.7zM124 82h11.7v2.8h-11.7zM124 103h11.7v1.8h-11.7zM124 226h11.7v1.3h-11.7zM124 236h11.7v2.3h-11.7zM124 258h11.7v1.8h-11.7zM124 290.5h11.7v2.3h-11.7zM124 300h11.7v2.8h-11.7zM135.4 105.5h11.7v2.3h-11.7zM135.4 268h11.7v2.3h-11.7zM146.7 107.5h11.7v2.8h-11.7zM146.7 169h11.7v1.3h-11.7zM146.7 193.5h11.7v2.3h-11.7zM146.7 258h11.7v1.8h-11.7zM146.7 283.5h11.7v1.3h-11.7z"/>
<path fill="#a884d8" d="M10.6 179.5h11.7v2.8h-11.7zM10.6 206.5h11.7v1.3h-11.7zM10.6 256h11.7v2.3h-11.7zM21.9 325h11.7v1.8h-11.7zM33.3 59h11.7v1.3h-11.7zM33.3 239.5h11.7v1.8h-11.7zM33.3 304h11.7v1.3h-11.7zM33.3 329h11.7v1.8h-11.7zM33.3 331.5h11.7v1.3h-11.7zM33.3 340h11.7v1.8h-11.7zM33.3 353h11.7v2.8h-11.7zM33.3 362.5h11.7v1.3h-11.7zM56 330.5h11.7v1.3h-11.7zM56 390.5h11.7v2.3h-11.7zM56 398h11.7v1.3h-11.7zM67.3 132h11.7v1.3h-11.7zM78.7 323h11.7v2.3h-11.7zM78.7 337h11.7v2.3h-11.7zM78.7 392.5h11.7v2.8h-11.7zM90 198.5h11.7v2.8h-11.7zM90 207.5h11.7v1.8h-11.7zM90 218h11.7v2.3h-11.7zM90 274h11.7v1.3h-11.7zM112.7 59h11.7v1.3h-11.7zM112.7 104.5h11.7v1.3h-11.7zM112.7 116.5h11.7v2.8h-11.7zM112.7 119h11.7v1.8h-11.7zM112.7 132h11.7v1.3h-11.7zM112.7 201h11.7v1.8h-11.7zM112.7 250h11.7v2.8h-11.7zM112.7 279h11.7v1.8h-11.7zM112.7 300h11.7v2.8h-11.7zM124 119h11.7v1.8h-11.7zM124 128h11.7v1.3h-11.7zM124 201h11.7v1.8h-11.7zM124 302.5h11.7v1.8h-11.7zM135.4 92h11.7v1.8h-11.7zM135.4 198.5h11.7v2.8h-11.7zM135.4 215.5h11.7v2.8h-11.7zM146.7 105.5h11.7v2.3h-11.7zM146.7 110h11.7v1.3h-11.7zM146.7 112h11.7v1.8h-11.7zM146.7 160h11.7v1.8h-11.7zM146.7 252.5h11.7v1.8h-11.7zM146.7 307h11.7v1.8h-11.7z"/>
<path fill="#d884b4" d="M10.6 191h11.7v2.8h-11.7zM10.6 302.5h11.7v1.8h-11.7zM33.3 74h11.7v2.8h-11.7zM33.3 100.5h11.7v2.8h-11.7zM33.3 348.5h11.7v1.8h-11.7zM33.3 366h11.7v1.8h-11.7zM33.3 374h11.7v1.8h-11.7zM67.3 48h11.7v2.8h-11.7zM67.3 111h11.7v1.3h-11.7zM67.3 141.5h11.7v1.8h-11.7zM67.3 183h11.7v2.3h-11.7zM78.7 206.5h11.7v1.3h-11.7zM78.7 239.5h11.7v1.8h-11.7zM78.7 304h11.7v1.3h-11.7zM112.7 56.5h11.7v2.8h-11.7zM112.7 185h11.7v2.3h-11.7zM112.7 209h11.7v1.8h-11.7zM112.7 326.5h11.7v2.8h-11.7zM124 262h11.7v2.3h-11.7zM135.4 152h11.7v1.8h-11.7zM135.4 294h11.7v1.3h-11.7zM146.7 321h11.7v2.3h-11.7zM146.7 326.5h11.7v2.8h-11.7z"/>
<path fill="#a27ede" d="M10.6 201h11.7v1.8h-11.7zM10.6 339h11.7v1.3h-11.7zM21.9 350h11.7v2.3h-11.7zM33.3 111h11.7v1.3h-11.7zM33.3 346.5h11.7v2.3h-11.7zM33.3 355.5h11.7v1.8h-11.7zM33.3 375.5h11.7v2.3h-11.7zM56 317.5h11.7v1.8h-11.7zM67.3 90h11.7v2.3h-11.7zM67.3 100.5h11.7v2.8h-11.7zM67.3 112h11.7v1.8h-11.7zM67.3 169h11.7v1.3h-11.7zM67.3 187h11.7v2.8h-11.7zM67.3 196.5h11.7v2.3h-11.7zM67.3 266h11.7v2.3h-11.7zM90 104.5h11.7v1.3h-11.7zM90 133h11.7v2.3h-11.7zM90 149.5h11.7v2.8h-11.7zM90 153.5h11.7v2.8h-11.7zM90 185h11.7v2.3h-11.7zM90 189.5h11.7v1.8h-11.7zM90 244.5h11.7v1.3h-11.7zM90 279h11.7v1.8h-11.7zM112.7 60h11.7v1.3h-11.7zM112.7 80h11.7v2.3h-11.7zM112.7 166.5h11.7v2.8h-11.7zM112.7 223.5h11.7v2.8h-11.7zM112.7 227h11.7v2.3h-11.7zM112.7 236h11.7v2.3h-11.7zM112.7 312.5h11.7v1.8h-11.7zM124 66h11.7v2.3h-11.7zM124 68h11.7v2.3h-11.7zM124 72h11.7v2.3h-11.7zM124 147.5h11.7v2.3h-11.7zM124 152h11.7v1.8h-11.7zM124 252.5h11.7v1.8h-11.7zM124 270h11.7v2.8h-11.7zM135.4 103h11.7v1.8h-11.7zM135.4 113.5h11.7v1.3h-11.7zM135.4 234h11.7v2.3h-11.7zM146.7 82h11.7v2.8h-11.7zM146.7 116.5h11.7v2.8h-11.7zM146.7 132h11.7v1.3h-11.7zM146.7 259.5h11.7v2.8h-11.7z"/>
<path fill="#ea4854" d="M10.6 207.5h11.7v1.8h-11.7zM21.9 90h11.7v2.3h-11.7zM21.9 119h11.7v1.8h-11.7zM21.9 120.5h11.7v2.3h-11.7zM44.6 68h11.7v2.3h-11.7zM44.6 110h11.7v1.3h-11.7zM44.6 143h11.7v2.3h-11.7zM44.6 177.5h11.7v2.3h-11.7zM44.6 294h11.7v1.3h-11.7zM78.7 241h11.7v1.8h-11.7zM90 341.5h11.7v2.3h-11.7zM135.4 321h11.7v2.3h-11.7zM135.4 345h11.7v1.8h-11.7zM135.4 367.5h11.7v2.8h-11.7z"/>
<path fill="#e43c48" d="M10.6 210.5h11.7v2.8h-11.7zM21.9 96.5h11.7v1.8h-11.7zM21.9 124.5h11.7v1.8h-11.7zM21.9 158.5h11.7v1.8h-11.7zM21.9 160h11.7v1.8h-11.7zM21.9 236h11.7v2.3h-11.7zM21.9 254h11.7v2.3h-11.7zM44.6 59h11.7v1.3h-11.7zM44.6 310.5h11.7v2.3h-11.7zM56 61h11.7v1.8h-11.7zM56 156h11.7v2.8h-11.7zM56 264h11.7v2.3h-11.7zM78.7 136.5h11.7v2.8h-11.7zM78.7 207.5h11.7v1.8h-11.7zM78.7 229h11.7v2.3h-11.7zM78.7 233h11.7v1.3h-11.7zM78.7 279h11.7v1.8h-11.7zM78.7 294h11.7v1.3h-11.7zM78.7 300h11.7v2.8h-11.7zM90 371.5h11.7v2.8h-11.7zM90 398h11.7v1.3h-11.7zM101.3 371.5h11.7v2.8h-11.7zM101.3 398h11.7v1.3h-11.7zM112.7 377.5h11.7v2.3h-11.7zM124 187h11.7v2.8h-11.7zM135.4 341.5h11.7v2.3h-11.7zM135.4 395h11.7v1.3h-11.7zM146.7 317.5h11.7v1.8h-11.7zM146.7 341.5h11.7v2.3h-11.7zM146.7 366h11.7v1.8h-11.7zM158.1 334.5h11.7v1.3h-11.7z"/>
<path fill="#ea7896" d="M10.6 218h11.7v2.3h-11.7zM10.6 266h11.7v2.3h-11.7zM33.3 80h11.7v2.3h-11.7zM67.3 282.5h11.7v1.3h-11.7zM78.7 274h11.7v1.3h-11.7zM78.7 307h11.7v1.8h-11.7zM112.7 112h11.7v1.8h-11.7zM124 76.5h11.7v1.3h-11.7zM135.4 326.5h11.7v2.8h-11.7zM146.7 360.5h11.7v2.3h-11.7zM146.7 377.5h11.7v2.3h-11.7z"/>
<path fill="#f05a72" d="M10.6 223.5h11.7v2.8h-11.7zM21.9 289h11.7v1.8h-11.7zM33.3 387.5h11.7v1.8h-11.7zM78.7 77.5h11.7v1.8h-11.7zM90 321h11.7v2.3h-11.7zM101.3 384h11.7v1.8h-11.7zM101.3 396h11.7v2.3h-11.7zM124 337h11.7v2.3h-11.7zM135.4 335.5h11.7v1.8h-11.7zM135.4 377.5h11.7v2.3h-11.7z"/>
<path fill="#cc84c6" d="M10.6 227h11.7v2.3h-11.7zM112.7 113.5h11.7v1.3h-11.7zM146.7 143h11.7v2.3h-11.7z"/>
<path fill="#9c7ede" d="M10.6 238h11.7v1.8h-11.7zM10.6 304h11.7v1.3h-11.7zM10.6 330.5h11.7v1.3h-11.7zM33.3 213h11.7v2.8h-11.7zM33.3 319h11.7v2.3h-11.7zM33.3 326.5h11.7v2.8h-11.7zM33.3 334.5h11.7v1.3h-11.7zM33.3 360.5h11.7v2.3h-11.7zM44.6 317.5h11.7v1.8h-11.7zM67.3 84.5h11.7v1.8h-11.7zM67.3 93.5h11.7v1.3h-11.7zM67.3 172h11.7v1.3h-11.7zM67.3 179.5h11.7v2.8h-11.7zM67.3 193.5h11.7v2.3h-11.7zM67.3 207.5h11.7v1.8h-11.7zM67.3 229h11.7v2.3h-11.7zM67.3 249h11.7v1.3h-11.7zM67.3 270h11.7v2.8h-11.7zM67.3 294h11.7v1.3h-11.7zM67.3 300h11.7v2.8h-11.7zM78.7 332.5h11.7v2.3h-11.7zM90 92h11.7v1.8h-11.7zM90 100.5h11.7v2.8h-11.7zM90 113.5h11.7v1.3h-11.7zM90 119h11.7v1.8h-11.7zM90 122.5h11.7v2.3h-11.7zM90 175h11.7v2.8h-11.7zM90 233h11.7v1.3h-11.7zM90 304h11.7v1.3h-11.7zM101.3 129h11.7v1.3h-11.7zM112.7 187h11.7v2.8h-11.7zM112.7 247h11.7v2.3h-11.7zM112.7 282.5h11.7v1.3h-11.7zM124 59h11.7v1.3h-11.7zM124 107.5h11.7v2.8h-11.7zM124 120.5h11.7v2.3h-11.7zM124 122.5h11.7v2.3h-11.7zM124 145h11.7v2.8h-11.7zM124 172h11.7v1.3h-11.7zM124 202.5h11.7v1.8h-11.7zM124 204h11.7v2.8h-11.7zM124 277.5h11.7v1.8h-11.7zM124 379.5h11.7v2.8h-11.7zM135.4 87.5h11.7v2.8h-11.7zM135.4 110h11.7v1.3h-11.7zM135.4 147.5h11.7v2.3h-11.7zM135.4 185h11.7v2.3h-11.7zM135.4 239.5h11.7v1.8h-11.7zM146.7 76.5h11.7v1.3h-11.7zM146.7 185h11.7v2.3h-11.7zM146.7 290.5h11.7v2.3h-11.7z"/>
<path fill="#ea5a6c" d="M10.6 244.5h11.7v1.3h-11.7zM33.3 160h11.7v1.8h-11.7zM56 103h11.7v1.8h-11.7zM101.3 340h11.7v1.8h-11.7z"/>
<path fill="#e4303c" d="M10.6 259.5h11.7v2.8h-11.7zM10.6 282.5h11.7v1.3h-11.7zM21.9 111h11.7v1.3h-11.7zM21.9 165h11.7v1.8h-11.7zM21.9 207.5h11.7v1.8h-11.7zM21.9 209h11.7v1.8h-11.7zM21.9 247h11.7v2.3h-11.7zM21.9 249h11.7v1.3h-11.7zM21.9 250h11.7v2.8h-11.7zM21.9 277.5h11.7v1.8h-11.7zM33.3 92h11.7v1.8h-11.7zM33.3 233h11.7v1.3h-11.7zM44.6 98h11.7v2.8h-11.7zM44.6 153.5h11.7v2.8h-11.7zM44.6 161.5h11.7v2.3h-11.7zM44.6 179.5h11.7v2.8h-11.7zM44.6 256h11.7v2.3h-11.7zM44.6 259.5h11.7v2.8h-11.7zM44.6 275h11.7v2.8h-11.7zM44.6 279h11.7v1.8h-11.7zM44.6 290.5h11.7v2.3h-11.7zM56 56.5h11.7v2.8h-11.7zM56 145h11.7v2.8h-11.7zM56 189.5h11.7v1.8h-11.7zM56 209h11.7v1.8h-11.7zM56 274h11.7v1.3h-11.7zM78.7 61h11.7v1.8h-11.7zM78.7 210.5h11.7v2.8h-11.7zM78.7 282.5h11.7v1.3h-11.7zM90 363.5h11.7v2.8h-11.7zM90 389h11.7v1.8h-11.7zM101.3 362.5h11.7v1.3h-11.7zM101.3 390.5h11.7v2.3h-11.7zM112.7 325h11.7v1.8h-11.7zM112.7 382h11.7v2.3h-11.7zM112.7 392.5h11.7v2.8h-11.7zM124 359.5h11.7v1.3h-11.7zM135.4 330.5h11.7v1.3h-11.7zM135.4 359.5h11.7v1.3h-11.7zM135.4 389h11.7v1.8h-11.7zM135.4 398h11.7v1.3h-11.7z"/>
<path fill="#de2a36" d="M10.6 284.5h11.7v2.8h-11.7zM21.9 62.5h11.7v2.3h-11.7zM21.9 100.5h11.7v2.8h-11.7zM21.9 110h11.7v1.3h-11.7zM21.9 112h11.7v1.8h-11.7zM21.9 139h11.7v1.8h-11.7zM21.9 149.5h11.7v2.8h-11.7zM21.9 153.5h11.7v2.8h-11.7zM21.9 161.5h11.7v2.3h-11.7zM21.9 175h11.7v2.8h-11.7zM21.9 206.5h11.7v1.3h-11.7zM21.9 233h11.7v1.3h-11.7zM21.9 234h11.7v2.3h-11.7zM21.9 238h11.7v1.8h-11.7zM21.9 283.5h11.7v1.3h-11.7zM21.9 287h11.7v2.3h-11.7zM33.3 56.5h11.7v2.8h-11.7zM33.3 70h11.7v2.3h-11.7zM33.3 76.5h11.7v1.3h-11.7zM33.3 158.5h11.7v1.8h-11.7zM33.3 187h11.7v2.8h-11.7zM33.3 207.5h11.7v1.8h-11.7zM33.3 210.5h11.7v2.8h-11.7zM33.3 215.5h11.7v2.8h-11.7zM44.6 48h11.7v2.8h-11.7zM44.6 50.5h11.7v2.3h-11.7zM44.6 84.5h11.7v1.8h-11.7zM44.6 87.5h11.7v2.8h-11.7zM44.6 103h11.7v1.8h-11.7zM44.6 113.5h11.7v1.3h-11.7zM44.6 140.5h11.7v1.3h-11.7zM44.6 147.5h11.7v2.3h-11.7zM44.6 152h11.7v1.8h-11.7zM44.6 166.5h11.7v2.8h-11.7zM44.6 193.5h11.7v2.3h-11.7zM44.6 227h11.7v2.3h-11.7zM44.6 239.5h11.7v1.8h-11.7zM44.6 244.5h11.7v1.3h-11.7zM44.6 292.5h11.7v1.8h-11.7zM44.6 307h11.7v1.8h-11.7zM56 59h11.7v1.3h-11.7zM56 79h11.7v1.3h-11.7zM56 87.5h11.7v2.8h-11.7zM56 96.5h11.7v1.8h-11.7zM56 112h11.7v1.8h-11.7zM56 114.5h11.7v2.3h-11.7zM56 120.5h11.7v2.3h-11.7zM56 135h11.7v1.8h-11.7zM56 245.5h11.7v1.8h-11.7zM56 252.5h11.7v1.8h-11.7zM56 283.5h11.7v1.3h-11.7zM56 300h11.7v2.8h-11.7zM78.7 177.5h11.7v2.3h-11.7zM78.7 202.5h11.7v1.8h-11.7zM78.7 209h11.7v1.8h-11.7zM78.7 244.5h11.7v1.3h-11.7zM78.7 245.5h11.7v1.8h-11.7zM78.7 287h11.7v2.3h-11.7zM90 366h11.7v1.8h-11.7zM90 377.5h11.7v2.3h-11.7zM90 384h11.7v1.8h-11.7zM90 390.5h11.7v2.3h-11.7zM101.3 326.5h11.7v2.8h-11.7zM101.3 330.5h11.7v1.3h-11.7zM101.3 367.5h11.7v2.8h-11.7zM101.3 370h11.7v1.8h-11.7zM112.7 319h11.7v2.3h-11.7zM112.7 375.5h11.7v2.3h-11.7zM112.7 387.5h11.7v1.8h-11.7zM124 215.5h11.7v2.8h-11.7zM124 330.5h11.7v1.3h-11.7zM124 352h11.7v1.3h-11.7zM124 353h11.7v2.8h-11.7zM135.4 371.5h11.7v2.8h-11.7zM135.4 374h11.7v1.8h-11.7zM146.7 353h11.7v2.8h-11.7zM158.1 317.5h11.7v1.8h-11.7zM158.1 330.5h11.7v1.3h-11.7zM158.1 348.5h11.7v1.8h-11.7z"/>
<path fill="#b484d2" d="M10.6 289h11.7v1.8h-11.7zM10.6 297.5h11.7v2.8h-11.7zM33.3 183h11.7v2.3h-11.7zM33.3 277.5h11.7v1.8h-11.7zM67.3 133h11.7v2.3h-11.7zM67.3 158.5h11.7v1.8h-11.7zM67.3 182h11.7v1.3h-11.7zM67.3 280.5h11.7v2.3h-11.7zM90 209h11.7v1.8h-11.7zM112.7 158.5h11.7v1.8h-11.7zM112.7 258h11.7v1.8h-11.7zM112.7 272.5h11.7v1.8h-11.7zM124 156h11.7v2.8h-11.7zM124 227h11.7v2.3h-11.7z"/>
<path fill="#b48ad2" d="M10.6 308.5h11.7v2.3h-11.7zM33.3 390.5h11.7v2.3h-11.7zM67.3 284.5h11.7v2.8h-11.7zM90 166.5h11.7v2.8h-11.7z"/>
<path fill="#3c3cd8" d="M10.6 314h11.7v1.8h-11.7zM10.6 346.5h11.7v2.3h-11.7zM10.6 367.5h11.7v2.8h-11.7zM44.6 350h11.7v2.3h-11.7zM44.6 363.5h11.7v2.8h-11.7zM44.6 387.5h11.7v1.8h-11.7zM44.6 392.5h11.7v2.8h-11.7zM78.7 314h11.7v1.8h-11.7zM78.7 345h11.7v1.8h-11.7zM90 64.5h11.7v1.8h-11.7zM90 86h11.7v1.8h-11.7zM90 163.5h11.7v1.8h-11.7zM90 182h11.7v1.3h-11.7zM90 239.5h11.7v1.8h-11.7zM101.3 70h11.7v2.3h-11.7zM101.3 82h11.7v2.8h-11.7zM101.3 119h11.7v1.8h-11.7zM101.3 182h11.7v1.3h-11.7zM101.3 233h11.7v1.3h-11.7zM101.3 238h11.7v1.8h-11.7zM101.3 252.5h11.7v1.8h-11.7zM101.3 287h11.7v2.3h-11.7zM101.3 305h11.7v2.3h-11.7zM101.3 307h11.7v1.8h-11.7zM135.4 74h11.7v2.8h-11.7zM135.4 305h11.7v2.3h-11.7zM146.7 68h11.7v2.3h-11.7zM146.7 124.5h11.7v1.8h-11.7zM146.7 183h11.7v2.3h-11.7zM146.7 289h11.7v1.8h-11.7zM158.1 59h11.7v1.3h-11.7zM158.1 80h11.7v2.3h-11.7zM158.1 92h11.7v1.8h-11.7zM158.1 96.5h11.7v1.8h-11.7zM158.1 107.5h11.7v2.8h-11.7zM158.1 112h11.7v1.8h-11.7zM158.1 133h11.7v2.3h-11.7zM158.1 143h11.7v2.3h-11.7zM158.1 145h11.7v2.8h-11.7zM158.1 156h11.7v2.8h-11.7zM158.1 160h11.7v1.8h-11.7zM158.1 173h11.7v2.3h-11.7zM158.1 198.5h11.7v2.8h-11.7zM158.1 209h11.7v1.8h-11.7zM158.1 210.5h11.7v2.8h-11.7zM158.1 229h11.7v2.3h-11.7zM158.1 236h11.7v2.3h-11.7zM158.1 239.5h11.7v1.8h-11.7zM158.1 292.5h11.7v1.8h-11.7zM158.1 294h11.7v1.3h-11.7zM158.1 310.5h11.7v2.3h-11.7zM158.1 312.5h11.7v1.8h-11.7z"/>
<path fill="#786ce4" d="M10.6 315.5h11.7v2.3h-11.7zM21.9 370h11.7v1.8h-11.7zM21.9 374h11.7v1.8h-11.7zM44.6 346.5h11.7v2.3h-11.7zM90 124.5h11.7v1.8h-11.7zM90 129h11.7v1.3h-11.7zM90 160h11.7v1.8h-11.7zM112.7 50.5h11.7v2.3h-11.7zM112.7 72h11.7v2.3h-11.7zM112.7 241h11.7v1.8h-11.7zM112.7 305h11.7v2.3h-11.7zM124 62.5h11.7v2.3h-11.7zM124 221.5h11.7v2.3h-11.7zM135.4 50.5h11.7v2.3h-11.7zM135.4 191h11.7v2.8h-11.7zM146.7 126h11.7v2.3h-11.7zM146.7 204h11.7v2.8h-11.7z"/>
<path fill="#605ae4" d="M10.6 317.5h11.7v1.8h-11.7zM21.9 395h11.7v1.3h-11.7zM44.6 371.5h11.7v2.8h-11.7zM56 362.5h11.7v1.3h-11.7zM56 395h11.7v1.3h-11.7zM67.3 72h11.7v2.3h-11.7zM67.3 234h11.7v2.3h-11.7zM78.7 319h11.7v2.3h-11.7zM90 48h11.7v2.8h-11.7zM90 80h11.7v2.3h-11.7zM90 96.5h11.7v1.8h-11.7zM90 305h11.7v2.3h-11.7zM101.3 59h11.7v1.3h-11.7zM101.3 114.5h11.7v2.3h-11.7zM101.3 204h11.7v2.8h-11.7zM101.3 234h11.7v2.3h-11.7zM101.3 274h11.7v1.3h-11.7zM112.7 266h11.7v2.3h-11.7zM135.4 76.5h11.7v1.3h-11.7zM135.4 119h11.7v1.8h-11.7zM135.4 156h11.7v2.8h-11.7zM135.4 161.5h11.7v2.3h-11.7zM135.4 201h11.7v1.8h-11.7zM135.4 202.5h11.7v1.8h-11.7zM135.4 256h11.7v2.3h-11.7zM135.4 284.5h11.7v2.8h-11.7zM146.7 103h11.7v1.8h-11.7zM146.7 153.5h11.7v2.8h-11.7zM146.7 165h11.7v1.8h-11.7zM146.7 195.5h11.7v1.3h-11.7zM146.7 227h11.7v2.3h-11.7zM146.7 256h11.7v2.3h-11.7zM146.7 308.5h11.7v2.3h-11.7zM158.1 126h11.7v2.3h-11.7z"/>
<path fill="#4848de" d="M10.6 321h11.7v2.3h-11.7zM10.6 326.5h11.7v2.8h-11.7zM10.6 359.5h11.7v1.3h-11.7zM21.9 335.5h11.7v1.8h-11.7zM44.6 314h11.7v1.8h-11.7zM78.7 352h11.7v1.3h-11.7zM90 72h11.7v2.3h-11.7zM90 84.5h11.7v1.8h-11.7zM90 139h11.7v1.8h-11.7zM90 206.5h11.7v1.3h-11.7zM90 221.5h11.7v2.3h-11.7zM90 252.5h11.7v1.8h-11.7zM101.3 98h11.7v2.8h-11.7zM101.3 183h11.7v2.3h-11.7zM101.3 223.5h11.7v2.8h-11.7zM101.3 226h11.7v1.3h-11.7zM101.3 270h11.7v2.8h-11.7zM135.4 64.5h11.7v1.8h-11.7zM135.4 179.5h11.7v2.8h-11.7zM135.4 289h11.7v1.8h-11.7zM146.7 179.5h11.7v2.8h-11.7zM146.7 223.5h11.7v2.8h-11.7zM158.1 64.5h11.7v1.8h-11.7zM158.1 90h11.7v2.3h-11.7zM158.1 105.5h11.7v2.3h-11.7zM158.1 139h11.7v1.8h-11.7zM158.1 268h11.7v2.3h-11.7z"/>
<path fill="#7266e4" d="M10.6 323h11.7v2.3h-11.7zM10.6 325h11.7v1.8h-11.7zM10.6 332.5h11.7v2.3h-11.7zM21.9 340h11.7v1.8h-11.7zM21.9 343.5h11.7v1.8h-11.7zM21.9 384h11.7v1.8h-11.7zM21.9 392.5h11.7v2.8h-11.7zM33.3 384h11.7v1.8h-11.7zM44.6 335.5h11.7v1.8h-11.7zM44.6 385.5h11.7v2.3h-11.7zM56 329h11.7v1.8h-11.7zM56 331.5h11.7v1.3h-11.7zM56 371.5h11.7v2.8h-11.7zM67.3 68h11.7v2.3h-11.7zM67.3 70h11.7v2.3h-11.7zM67.3 135h11.7v1.8h-11.7zM67.3 170h11.7v2.3h-11.7zM78.7 321h11.7v2.3h-11.7zM78.7 370h11.7v1.8h-11.7zM90 50.5h11.7v2.3h-11.7zM90 60h11.7v1.3h-11.7zM90 130h11.7v2.3h-11.7zM90 172h11.7v1.3h-11.7zM90 193.5h11.7v2.3h-11.7zM90 241h11.7v1.8h-11.7zM101.3 104.5h11.7v1.3h-11.7zM101.3 124.5h11.7v1.8h-11.7zM101.3 136.5h11.7v2.8h-11.7zM101.3 153.5h11.7v2.8h-11.7zM101.3 209h11.7v1.8h-11.7zM101.3 258h11.7v1.8h-11.7zM101.3 290.5h11.7v2.3h-11.7zM112.7 124.5h11.7v1.8h-11.7zM112.7 179.5h11.7v2.8h-11.7zM112.7 242.5h11.7v2.3h-11.7zM124 70h11.7v2.3h-11.7zM124 242.5h11.7v2.3h-11.7zM135.4 56.5h11.7v2.8h-11.7zM135.4 61h11.7v1.8h-11.7zM135.4 96.5h11.7v1.8h-11.7zM135.4 227h11.7v2.3h-11.7zM135.4 300h11.7v2.8h-11.7zM146.7 77.5h11.7v1.8h-11.7zM146.7 79h11.7v1.3h-11.7zM146.7 119h11.7v1.8h-11.7zM146.7 133h11.7v2.3h-11.7zM146.7 196.5h11.7v2.3h-11.7zM146.7 201h11.7v1.8h-11.7zM146.7 202.5h11.7v1.8h-11.7zM146.7 210.5h11.7v2.8h-11.7z"/>
<path fill="#967ede" d="M10.6 329h11.7v1.8h-11.7zM33.3 325h11.7v1.8h-11.7zM33.3 335.5h11.7v1.8h-11.7zM44.6 353h11.7v2.8h-11.7zM67.3 66h11.7v2.3h-11.7zM67.3 191h11.7v2.8h-11.7zM78.7 331.5h11.7v1.3h-11.7zM78.7 340h11.7v1.8h-11.7zM78.7 355.5h11.7v1.8h-11.7zM90 52.5h11.7v2.8h-11.7zM90 61h11.7v1.8h-11.7zM90 116.5h11.7v2.8h-11.7zM90 161.5h11.7v2.3h-11.7zM90 215.5h11.7v2.8h-11.7zM90 245.5h11.7v1.8h-11.7zM90 250h11.7v2.8h-11.7zM90 256h11.7v2.3h-11.7zM112.7 48h11.7v2.8h-11.7zM112.7 189.5h11.7v1.8h-11.7zM112.7 284.5h11.7v2.8h-11.7zM124 48h11.7v2.8h-11.7zM124 124.5h11.7v1.8h-11.7zM124 249h11.7v1.3h-11.7zM124 282.5h11.7v1.3h-11.7zM135.4 158.5h11.7v1.8h-11.7z"/>
<path fill="#a87ed8" d="M10.6 331.5h11.7v1.3h-11.7zM67.3 92h11.7v1.8h-11.7zM67.3 165h11.7v1.8h-11.7zM67.3 202.5h11.7v1.8h-11.7zM67.3 226h11.7v1.3h-11.7zM90 111h11.7v1.3h-11.7zM90 187h11.7v2.8h-11.7zM124 266h11.7v2.3h-11.7zM146.7 64.5h11.7v1.8h-11.7zM146.7 284.5h11.7v2.8h-11.7z"/>
<path fill="#3030cc" d="M10.6 334.5h11.7v1.3h-11.7zM33.3 321h11.7v2.3h-11.7zM56 352h11.7v1.3h-11.7zM67.3 387.5h11.7v1.8h-11.7zM101.3 50.5h11.7v2.3h-11.7zM101.3 93.5h11.7v1.3h-11.7zM101.3 166.5h11.7v2.8h-11.7zM101.3 170h11.7v2.3h-11.7zM101.3 185h11.7v2.3h-11.7zM101.3 262h11.7v2.3h-11.7zM158.1 52.5h11.7v2.8h-11.7zM158.1 116.5h11.7v2.8h-11.7zM158.1 153.5h11.7v2.8h-11.7zM158.1 166.5h11.7v2.8h-11.7zM158.1 279h11.7v1.8h-11.7zM158.1 295h11.7v2.8h-11.7zM158.1 307h11.7v1.8h-11.7z"/>
<path fill="#6c60e4" d="M10.6 335.5h11.7v1.8h-11.7zM10.6 340h11.7v1.8h-11.7zM10.6 345h11.7v1.8h-11.7zM10.6 374h11.7v1.8h-11.7zM10.6 385.5h11.7v2.3h-11.7zM21.9 332.5h11.7v2.3h-11.7zM21.9 346.5h11.7v2.3h-11.7zM21.9 385.5h11.7v2.3h-11.7zM33.3 341.5h11.7v2.3h-11.7zM33.3 343.5h11.7v1.8h-11.7zM44.6 319h11.7v2.3h-11.7zM56 366h11.7v1.8h-11.7zM56 389h11.7v1.8h-11.7zM67.3 128h11.7v1.3h-11.7zM78.7 382h11.7v2.3h-11.7zM90 82h11.7v2.8h-11.7zM90 87.5h11.7v2.8h-11.7zM90 90h11.7v2.3h-11.7zM90 107.5h11.7v2.8h-11.7zM90 140.5h11.7v1.3h-11.7zM90 145h11.7v2.8h-11.7zM90 152h11.7v1.8h-11.7zM90 284.5h11.7v2.8h-11.7zM90 289h11.7v1.8h-11.7zM90 302.5h11.7v1.8h-11.7zM101.3 86h11.7v1.8h-11.7zM101.3 126h11.7v2.3h-11.7zM101.3 133h11.7v2.3h-11.7zM101.3 156h11.7v2.8h-11.7zM101.3 249h11.7v1.3h-11.7zM101.3 254h11.7v2.3h-11.7zM112.7 143h11.7v2.3h-11.7zM124 287h11.7v2.3h-11.7zM124 305h11.7v2.3h-11.7zM135.4 66h11.7v2.3h-11.7zM135.4 77.5h11.7v1.8h-11.7zM135.4 128h11.7v1.3h-11.7zM135.4 129h11.7v1.3h-11.7zM135.4 135h11.7v1.8h-11.7zM135.4 163.5h11.7v1.8h-11.7zM135.4 207.5h11.7v1.8h-11.7zM135.4 254h11.7v2.3h-11.7zM135.4 274h11.7v1.3h-11.7zM135.4 275h11.7v2.8h-11.7zM146.7 94.5h11.7v2.3h-11.7zM146.7 136.5h11.7v2.8h-11.7zM146.7 207.5h11.7v1.8h-11.7zM146.7 231h11.7v2.3h-11.7zM146.7 242.5h11.7v2.3h-11.7zM146.7 294h11.7v1.3h-11.7z"/>
<path fill="#7866e4" d="M10.6 337h11.7v2.3h-11.7zM10.6 341.5h11.7v2.3h-11.7zM10.6 350h11.7v2.3h-11.7zM10.6 384h11.7v1.8h-11.7zM10.6 387.5h11.7v1.8h-11.7zM33.3 317.5h11.7v1.8h-11.7zM33.3 337h11.7v2.3h-11.7zM33.3 371.5h11.7v2.8h-11.7zM33.3 379.5h11.7v2.8h-11.7zM44.6 325h11.7v1.8h-11.7zM67.3 96.5h11.7v1.8h-11.7zM67.3 110h11.7v1.3h-11.7zM67.3 145h11.7v2.8h-11.7zM67.3 173h11.7v2.3h-11.7zM67.3 238h11.7v1.8h-11.7zM67.3 304h11.7v1.3h-11.7zM67.3 310.5h11.7v2.3h-11.7zM78.7 395h11.7v1.3h-11.7zM78.7 398h11.7v1.3h-11.7zM90 120.5h11.7v2.3h-11.7zM90 234h11.7v2.3h-11.7zM90 268h11.7v2.3h-11.7zM90 287h11.7v2.3h-11.7zM90 292.5h11.7v1.8h-11.7zM90 310.5h11.7v2.3h-11.7zM101.3 175h11.7v2.8h-11.7zM101.3 218h11.7v2.3h-11.7zM101.3 247h11.7v2.3h-11.7zM112.7 215.5h11.7v2.8h-11.7zM112.7 226h11.7v1.3h-11.7zM112.7 264h11.7v2.3h-11.7zM112.7 287h11.7v2.3h-11.7zM124 79h11.7v1.3h-11.7zM124 130h11.7v2.3h-11.7zM124 289h11.7v1.8h-11.7zM135.4 93.5h11.7v1.3h-11.7zM135.4 94.5h11.7v2.3h-11.7zM135.4 111h11.7v1.3h-11.7zM135.4 226h11.7v1.3h-11.7zM135.4 245.5h11.7v1.8h-11.7zM135.4 283.5h11.7v1.3h-11.7zM135.4 287h11.7v2.3h-11.7zM135.4 307h11.7v1.8h-11.7zM146.7 60h11.7v1.3h-11.7zM146.7 166.5h11.7v2.8h-11.7zM146.7 238h11.7v1.8h-11.7zM146.7 244.5h11.7v1.3h-11.7zM146.7 249h11.7v1.3h-11.7zM146.7 264h11.7v2.3h-11.7zM146.7 270h11.7v2.8h-11.7z"/>
<path fill="#2a2aba" d="M10.6 343.5h11.7v1.8h-11.7zM10.6 348.5h11.7v1.8h-11.7zM10.6 375.5h11.7v2.3h-11.7zM67.3 355.5h11.7v1.8h-11.7zM67.3 359.5h11.7v1.3h-11.7zM78.7 367.5h11.7v2.8h-11.7zM101.3 161.5h11.7v2.3h-11.7zM101.3 210.5h11.7v2.8h-11.7zM101.3 220h11.7v1.8h-11.7zM135.4 295h11.7v2.8h-11.7zM135.4 304h11.7v1.3h-11.7zM158.1 66h11.7v2.3h-11.7zM158.1 231h11.7v2.3h-11.7zM158.1 308.5h11.7v2.3h-11.7z"/>
<path fill="#9078e4" d="M10.6 352h11.7v1.3h-11.7zM10.6 360.5h11.7v2.3h-11.7zM21.9 314h11.7v1.8h-11.7zM21.9 319h11.7v2.3h-11.7zM21.9 330.5h11.7v1.3h-11.7zM21.9 387.5h11.7v1.8h-11.7zM33.3 202.5h11.7v1.8h-11.7zM33.3 350h11.7v2.3h-11.7zM44.6 345h11.7v1.8h-11.7zM56 321h11.7v2.3h-11.7zM56 323h11.7v2.3h-11.7zM56 325h11.7v1.8h-11.7zM56 332.5h11.7v2.3h-11.7zM56 340h11.7v1.8h-11.7zM56 353h11.7v2.8h-11.7zM67.3 52.5h11.7v2.8h-11.7zM67.3 76.5h11.7v1.3h-11.7zM67.3 79h11.7v1.3h-11.7zM67.3 86h11.7v1.8h-11.7zM67.3 149.5h11.7v2.8h-11.7zM67.3 198.5h11.7v2.8h-11.7zM67.3 305h11.7v2.3h-11.7zM78.7 363.5h11.7v2.8h-11.7zM78.7 374h11.7v1.8h-11.7zM90 112h11.7v1.8h-11.7zM90 126h11.7v2.3h-11.7zM90 141.5h11.7v1.8h-11.7zM90 158.5h11.7v1.8h-11.7zM101.3 215.5h11.7v2.8h-11.7zM101.3 259.5h11.7v2.8h-11.7zM112.7 61h11.7v1.8h-11.7zM112.7 92h11.7v1.8h-11.7zM112.7 140.5h11.7v1.3h-11.7zM112.7 191h11.7v2.8h-11.7zM112.7 233h11.7v1.3h-11.7zM124 64.5h11.7v1.8h-11.7zM124 163.5h11.7v1.8h-11.7zM124 220h11.7v1.8h-11.7zM124 241h11.7v1.8h-11.7zM124 279h11.7v1.8h-11.7zM135.4 80h11.7v2.3h-11.7zM135.4 130h11.7v2.3h-11.7zM135.4 252.5h11.7v1.8h-11.7zM135.4 272.5h11.7v1.8h-11.7zM135.4 279h11.7v1.8h-11.7zM146.7 50.5h11.7v2.3h-11.7zM146.7 62.5h11.7v2.3h-11.7zM146.7 84.5h11.7v1.8h-11.7zM146.7 129h11.7v1.3h-11.7zM146.7 163.5h11.7v1.8h-11.7zM146.7 175h11.7v2.8h-11.7zM146.7 266h11.7v2.3h-11.7zM146.7 268h11.7v2.3h-11.7z"/>
<path fill="#544ede" d="M10.6 353h11.7v2.8h-11.7zM21.9 317.5h11.7v1.8h-11.7zM21.9 337h11.7v2.3h-11.7zM44.6 315.5h11.7v2.3h-11.7zM44.6 321h11.7v2.3h-11.7zM44.6 343.5h11.7v1.8h-11.7zM44.6 362.5h11.7v1.3h-11.7zM56 345h11.7v1.8h-11.7zM56 385.5h11.7v2.3h-11.7zM78.7 390.5h11.7v2.3h-11.7zM90 170h11.7v2.3h-11.7zM90 191h11.7v2.8h-11.7zM90 227h11.7v2.3h-11.7zM90 231h11.7v2.3h-11.7zM101.3 62.5h11.7v2.3h-11.7zM101.3 68h11.7v2.3h-11.7zM101.3 107.5h11.7v2.8h-11.7zM101.3 149.5h11.7v2.8h-11.7zM101.3 152h11.7v1.8h-11.7zM101.3 187h11.7v2.8h-11.7zM101.3 239.5h11.7v1.8h-11.7zM101.3 241h11.7v1.8h-11.7zM112.7 55h11.7v1.8h-11.7zM112.7 79h11.7v1.3h-11.7zM112.7 96.5h11.7v1.8h-11.7zM135.4 120.5h11.7v2.3h-11.7zM135.4 170h11.7v2.3h-11.7zM135.4 196.5h11.7v2.3h-11.7zM135.4 231h11.7v2.3h-11.7zM146.7 234h11.7v2.3h-11.7zM146.7 295h11.7v2.8h-11.7zM158.1 55h11.7v1.8h-11.7zM158.1 61h11.7v1.8h-11.7zM158.1 86h11.7v1.8h-11.7zM158.1 129h11.7v1.3h-11.7zM158.1 196.5h11.7v2.3h-11.7zM158.1 226h11.7v1.3h-11.7zM158.1 244.5h11.7v1.3h-11.7zM158.1 250h11.7v2.8h-11.7zM158.1 254h11.7v2.3h-11.7zM158.1 259.5h11.7v2.8h-11.7z"/>
<path fill="#4e48de" d="M10.6 355.5h11.7v1.8h-11.7zM10.6 390.5h11.7v2.3h-11.7zM21.9 321h11.7v2.3h-11.7zM21.9 377.5h11.7v2.3h-11.7zM33.3 315.5h11.7v2.3h-11.7zM33.3 370h11.7v1.8h-11.7zM33.3 396h11.7v2.3h-11.7zM44.6 337h11.7v2.3h-11.7zM44.6 389h11.7v1.8h-11.7zM56 370h11.7v1.8h-11.7zM67.3 116.5h11.7v2.8h-11.7zM78.7 326.5h11.7v2.8h-11.7zM78.7 341.5h11.7v2.3h-11.7zM90 132h11.7v1.3h-11.7zM90 179.5h11.7v2.8h-11.7zM90 196.5h11.7v2.3h-11.7zM90 258h11.7v1.8h-11.7zM90 264h11.7v2.3h-11.7zM90 266h11.7v2.3h-11.7zM90 277.5h11.7v1.8h-11.7zM90 282.5h11.7v1.3h-11.7zM90 295h11.7v2.8h-11.7zM90 300h11.7v2.8h-11.7zM101.3 135h11.7v1.8h-11.7zM101.3 193.5h11.7v2.3h-11.7zM101.3 202.5h11.7v1.8h-11.7zM101.3 283.5h11.7v1.3h-11.7zM101.3 300h11.7v2.8h-11.7zM101.3 308.5h11.7v2.3h-11.7zM112.7 310.5h11.7v2.3h-11.7zM135.4 90h11.7v2.3h-11.7zM135.4 126h11.7v2.3h-11.7zM135.4 177.5h11.7v2.3h-11.7zM135.4 204h11.7v2.8h-11.7zM135.4 220h11.7v1.8h-11.7zM135.4 229h11.7v2.3h-11.7zM146.7 74h11.7v2.8h-11.7zM146.7 86h11.7v1.8h-11.7zM146.7 90h11.7v2.3h-11.7zM146.7 93.5h11.7v1.3h-11.7zM146.7 113.5h11.7v1.3h-11.7zM146.7 130h11.7v2.3h-11.7zM146.7 156h11.7v2.8h-11.7zM158.1 48h11.7v2.8h-11.7zM158.1 76.5h11.7v1.3h-11.7zM158.1 87.5h11.7v2.8h-11.7zM158.1 100.5h11.7v2.8h-11.7zM158.1 103h11.7v1.8h-11.7zM158.1 110h11.7v1.3h-11.7zM158.1 128h11.7v1.3h-11.7zM158.1 135h11.7v1.8h-11.7zM158.1 140.5h11.7v1.3h-11.7zM158.1 152h11.7v1.8h-11.7zM158.1 165h11.7v1.8h-11.7zM158.1 182h11.7v1.3h-11.7zM158.1 187h11.7v2.8h-11.7zM158.1 195.5h11.7v1.3h-11.7zM158.1 204h11.7v2.8h-11.7zM158.1 218h11.7v2.3h-11.7zM158.1 233h11.7v1.3h-11.7zM158.1 280.5h11.7v2.3h-11.7zM158.1 284.5h11.7v2.8h-11.7z"/>
<path fill="#5a54e4" d="M10.6 357h11.7v2.8h-11.7zM10.6 362.5h11.7v1.3h-11.7zM10.6 392.5h11.7v2.8h-11.7zM44.6 390.5h11.7v2.3h-11.7zM56 357h11.7v2.8h-11.7zM56 379.5h11.7v2.8h-11.7zM56 382h11.7v2.3h-11.7zM67.3 250h11.7v2.8h-11.7zM78.7 315.5h11.7v2.3h-11.7zM78.7 348.5h11.7v1.8h-11.7zM78.7 371.5h11.7v2.8h-11.7zM78.7 385.5h11.7v2.3h-11.7zM90 70h11.7v2.3h-11.7zM90 94.5h11.7v2.3h-11.7zM90 98h11.7v2.8h-11.7zM90 220h11.7v1.8h-11.7zM90 247h11.7v2.3h-11.7zM90 275h11.7v2.8h-11.7zM101.3 61h11.7v1.8h-11.7zM101.3 80h11.7v2.3h-11.7zM101.3 103h11.7v1.8h-11.7zM101.3 169h11.7v1.3h-11.7zM101.3 196.5h11.7v2.3h-11.7zM101.3 256h11.7v2.3h-11.7zM101.3 294h11.7v1.3h-11.7zM101.3 312.5h11.7v1.8h-11.7zM135.4 136.5h11.7v2.8h-11.7zM135.4 182h11.7v1.3h-11.7zM135.4 241h11.7v1.8h-11.7zM135.4 297.5h11.7v2.8h-11.7zM146.7 120.5h11.7v2.3h-11.7zM146.7 145h11.7v2.8h-11.7zM146.7 161.5h11.7v2.3h-11.7zM146.7 189.5h11.7v1.8h-11.7zM158.1 113.5h11.7v1.3h-11.7zM158.1 183h11.7v2.3h-11.7zM158.1 185h11.7v2.3h-11.7zM158.1 241h11.7v1.8h-11.7zM158.1 266h11.7v2.3h-11.7z"/>
<path fill="#665ae4" d="M10.6 363.5h11.7v2.8h-11.7zM21.9 366h11.7v1.8h-11.7zM44.6 374h11.7v1.8h-11.7zM44.6 375.5h11.7v2.3h-11.7zM56 314h11.7v1.8h-11.7zM56 367.5h11.7v2.8h-11.7zM67.3 201h11.7v1.8h-11.7zM67.3 220h11.7v1.8h-11.7zM67.3 272.5h11.7v1.8h-11.7zM67.3 297.5h11.7v2.8h-11.7zM78.7 335.5h11.7v1.8h-11.7zM78.7 339h11.7v1.3h-11.7zM78.7 350h11.7v2.3h-11.7zM90 68h11.7v2.3h-11.7zM90 74h11.7v2.8h-11.7zM90 229h11.7v2.3h-11.7zM90 249h11.7v1.3h-11.7zM101.3 87.5h11.7v2.8h-11.7zM101.3 139h11.7v1.8h-11.7zM101.3 173h11.7v2.3h-11.7zM101.3 244.5h11.7v1.3h-11.7zM101.3 284.5h11.7v2.8h-11.7zM112.7 62.5h11.7v2.3h-11.7zM112.7 74h11.7v2.8h-11.7zM112.7 262h11.7v2.3h-11.7zM124 135h11.7v1.8h-11.7zM135.4 68h11.7v2.3h-11.7zM135.4 70h11.7v2.3h-11.7zM135.4 195.5h11.7v1.3h-11.7zM135.4 210.5h11.7v2.8h-11.7zM146.7 141.5h11.7v1.8h-11.7zM146.7 191h11.7v2.8h-11.7zM146.7 229h11.7v2.3h-11.7zM146.7 236h11.7v2.3h-11.7zM146.7 275h11.7v2.8h-11.7zM146.7 282.5h11.7v1.3h-11.7zM158.1 169h11.7v1.3h-11.7z"/>
<path fill="#846ce4" d="M10.6 366h11.7v1.8h-11.7zM33.3 330.5h11.7v1.3h-11.7zM90 93.5h11.7v1.3h-11.7zM90 238h11.7v1.8h-11.7zM90 297.5h11.7v2.8h-11.7zM112.7 196.5h11.7v2.3h-11.7zM112.7 302.5h11.7v1.8h-11.7zM112.7 304h11.7v1.3h-11.7zM135.4 107.5h11.7v2.8h-11.7zM135.4 221.5h11.7v2.3h-11.7z"/>
<path fill="#8a72e4" d="M10.6 370h11.7v1.8h-11.7zM10.6 382h11.7v2.3h-11.7zM21.9 334.5h11.7v1.3h-11.7zM33.3 90h11.7v2.3h-11.7zM44.6 395h11.7v1.3h-11.7zM67.3 55h11.7v1.8h-11.7zM67.3 119h11.7v1.8h-11.7zM67.3 221.5h11.7v2.3h-11.7zM78.7 317.5h11.7v1.8h-11.7zM78.7 325h11.7v1.8h-11.7zM78.7 353h11.7v2.8h-11.7zM90 105.5h11.7v2.3h-11.7zM90 204h11.7v2.8h-11.7zM90 236h11.7v2.3h-11.7zM90 242.5h11.7v2.3h-11.7zM101.3 92h11.7v1.8h-11.7zM101.3 140.5h11.7v1.3h-11.7zM112.7 221.5h11.7v2.3h-11.7zM112.7 270h11.7v2.8h-11.7zM112.7 290.5h11.7v2.3h-11.7zM124 196.5h11.7v2.3h-11.7zM135.4 52.5h11.7v2.8h-11.7zM135.4 153.5h11.7v2.8h-11.7zM135.4 209h11.7v1.8h-11.7zM135.4 218h11.7v2.3h-11.7zM135.4 264h11.7v2.3h-11.7zM135.4 266h11.7v2.3h-11.7zM135.4 277.5h11.7v1.8h-11.7zM135.4 308.5h11.7v2.3h-11.7zM146.7 140.5h11.7v1.3h-11.7zM146.7 158.5h11.7v1.8h-11.7zM146.7 170h11.7v2.3h-11.7zM146.7 218h11.7v2.3h-11.7zM146.7 292.5h11.7v1.8h-11.7zM146.7 297.5h11.7v2.8h-11.7zM146.7 312.5h11.7v1.8h-11.7z"/>
<path fill="#3636d2" d="M10.6 371.5h11.7v2.8h-11.7zM10.6 379.5h11.7v2.8h-11.7zM21.9 367.5h11.7v2.8h-11.7zM78.7 379.5h11.7v2.8h-11.7zM101.3 74h11.7v2.8h-11.7zM101.3 79h11.7v1.3h-11.7zM101.3 128h11.7v1.3h-11.7zM101.3 130h11.7v2.3h-11.7zM101.3 141.5h11.7v1.8h-11.7zM101.3 163.5h11.7v1.8h-11.7zM101.3 172h11.7v1.3h-11.7zM101.3 179.5h11.7v2.8h-11.7zM101.3 195.5h11.7v1.3h-11.7zM101.3 242.5h11.7v2.3h-11.7zM112.7 156h11.7v2.8h-11.7zM135.4 133h11.7v2.3h-11.7zM135.4 175h11.7v2.8h-11.7zM146.7 72h11.7v2.3h-11.7zM158.1 68h11.7v2.3h-11.7zM158.1 77.5h11.7v1.8h-11.7zM158.1 158.5h11.7v1.8h-11.7zM158.1 177.5h11.7v2.3h-11.7zM158.1 300h11.7v2.8h-11.7z"/>
<path fill="#de7eae" d="M10.6 377.5h11.7v2.3h-11.7zM33.3 166.5h11.7v2.8h-11.7zM33.3 231h11.7v2.3h-11.7zM33.3 282.5h11.7v1.3h-11.7zM33.3 297.5h11.7v2.8h-11.7zM33.3 382h11.7v2.3h-11.7zM33.3 392.5h11.7v2.8h-11.7zM67.3 60h11.7v1.3h-11.7zM67.3 302.5h11.7v1.8h-11.7zM78.7 93.5h11.7v1.3h-11.7zM78.7 152h11.7v1.8h-11.7zM112.7 122.5h11.7v2.3h-11.7zM112.7 198.5h11.7v2.8h-11.7zM112.7 292.5h11.7v1.8h-11.7zM124 133h11.7v2.3h-11.7zM146.7 325h11.7v1.8h-11.7zM146.7 352h11.7v1.3h-11.7zM146.7 359.5h11.7v1.3h-11.7z"/>
<path fill="#4842de" d="M10.6 395h11.7v1.3h-11.7zM21.9 352h11.7v1.3h-11.7zM33.3 323h11.7v2.3h-11.7zM44.6 326.5h11.7v2.8h-11.7zM44.6 398h11.7v1.3h-11.7zM56 348.5h11.7v1.8h-11.7zM56 363.5h11.7v2.8h-11.7zM78.7 343.5h11.7v1.8h-11.7zM90 55h11.7v1.8h-11.7zM90 201h11.7v1.8h-11.7zM101.3 76.5h11.7v1.3h-11.7zM101.3 132h11.7v1.3h-11.7zM101.3 160h11.7v1.8h-11.7zM101.3 229h11.7v2.3h-11.7zM101.3 264h11.7v2.3h-11.7zM101.3 292.5h11.7v1.8h-11.7zM124 223.5h11.7v2.8h-11.7zM135.4 59h11.7v1.3h-11.7zM135.4 132h11.7v1.3h-11.7zM135.4 193.5h11.7v2.3h-11.7zM135.4 290.5h11.7v2.3h-11.7zM135.4 310.5h11.7v2.3h-11.7zM146.7 55h11.7v1.8h-11.7zM146.7 221.5h11.7v2.3h-11.7zM158.1 72h11.7v2.3h-11.7zM158.1 82h11.7v2.8h-11.7zM158.1 84.5h11.7v1.8h-11.7zM158.1 93.5h11.7v1.3h-11.7zM158.1 104.5h11.7v1.3h-11.7zM158.1 119h11.7v1.8h-11.7zM158.1 132h11.7v1.3h-11.7zM158.1 161.5h11.7v2.3h-11.7zM158.1 256h11.7v2.3h-11.7zM158.1 258h11.7v1.8h-11.7zM158.1 272.5h11.7v1.8h-11.7zM158.1 287h11.7v2.3h-11.7z"/>
<path fill="#2424ae" d="M10.6 396h11.7v2.3h-11.7zM21.9 315.5h11.7v2.3h-11.7zM67.3 319h11.7v2.3h-11.7zM67.3 374h11.7v1.8h-11.7zM101.3 266h11.7v2.3h-11.7zM101.3 289h11.7v1.8h-11.7zM135.4 140.5h11.7v1.3h-11.7zM158.1 79h11.7v1.3h-11.7z"/>
<path fill="#ae84d8" d="M10.6 398h11.7v1.3h-11.7zM21.9 355.5h11.7v1.8h-11.7zM33.3 120.5h11.7v2.3h-11.7zM33.3 143h11.7v2.3h-11.7zM44.6 331.5h11.7v1.3h-11.7zM56 319h11.7v2.3h-11.7zM56 337h11.7v2.3h-11.7zM67.3 50.5h11.7v2.3h-11.7zM67.3 124.5h11.7v1.8h-11.7zM67.3 152h11.7v1.8h-11.7zM67.3 290.5h11.7v2.3h-11.7zM78.7 185h11.7v2.3h-11.7zM78.7 377.5h11.7v2.3h-11.7zM112.7 52.5h11.7v2.8h-11.7zM112.7 70h11.7v2.3h-11.7zM112.7 98h11.7v2.8h-11.7zM112.7 170h11.7v2.3h-11.7zM112.7 193.5h11.7v2.3h-11.7zM112.7 245.5h11.7v1.8h-11.7zM124 94.5h11.7v2.3h-11.7zM124 96.5h11.7v1.8h-11.7zM124 175h11.7v2.8h-11.7zM124 185h11.7v2.3h-11.7zM124 292.5h11.7v1.8h-11.7zM124 310.5h11.7v2.3h-11.7zM135.4 100.5h11.7v2.8h-11.7zM135.4 143h11.7v2.3h-11.7zM135.4 244.5h11.7v1.3h-11.7zM135.4 259.5h11.7v2.8h-11.7zM146.7 48h11.7v2.8h-11.7zM146.7 56.5h11.7v2.8h-11.7zM146.7 215.5h11.7v2.8h-11.7zM146.7 250h11.7v2.8h-11.7zM146.7 279h11.7v1.8h-11.7z"/>
<path fill="#de2a3c" d="M21.9 72h11.7v2.3h-11.7zM21.9 215.5h11.7v2.8h-11.7zM33.3 87.5h11.7v2.8h-11.7zM44.6 170h11.7v2.3h-11.7zM44.6 226h11.7v1.3h-11.7zM56 191h11.7v2.8h-11.7zM56 226h11.7v1.3h-11.7zM56 233h11.7v1.3h-11.7zM56 277.5h11.7v1.8h-11.7zM78.7 135h11.7v1.8h-11.7zM101.3 335.5h11.7v1.8h-11.7zM101.3 353h11.7v2.8h-11.7zM112.7 294h11.7v1.3h-11.7zM112.7 370h11.7v1.8h-11.7zM124 335.5h11.7v1.8h-11.7zM124 357h11.7v2.8h-11.7zM124 362.5h11.7v1.3h-11.7zM135.4 375.5h11.7v2.3h-11.7zM158.1 329h11.7v1.8h-11.7zM158.1 339h11.7v1.3h-11.7z"/>
<path fill="#e43642" d="M21.9 82h11.7v2.8h-11.7zM21.9 239.5h11.7v1.8h-11.7zM21.9 275h11.7v2.8h-11.7zM21.9 312.5h11.7v1.8h-11.7zM33.3 262h11.7v2.3h-11.7zM44.6 100.5h11.7v2.8h-11.7zM44.6 252.5h11.7v1.8h-11.7zM44.6 282.5h11.7v1.3h-11.7zM56 82h11.7v2.8h-11.7zM56 113.5h11.7v1.3h-11.7zM56 173h11.7v2.3h-11.7zM56 187h11.7v2.8h-11.7zM56 223.5h11.7v2.8h-11.7zM56 280.5h11.7v2.3h-11.7zM56 287h11.7v2.3h-11.7zM78.7 141.5h11.7v1.8h-11.7zM78.7 147.5h11.7v2.3h-11.7zM78.7 169h11.7v1.3h-11.7zM78.7 204h11.7v2.8h-11.7zM90 382h11.7v2.3h-11.7zM101.3 332.5h11.7v2.3h-11.7zM101.3 341.5h11.7v2.3h-11.7zM112.7 363.5h11.7v2.8h-11.7zM124 350h11.7v2.3h-11.7zM158.1 363.5h11.7v2.8h-11.7z"/>
<path fill="#e42a3c" d="M21.9 92h11.7v1.8h-11.7zM21.9 189.5h11.7v1.8h-11.7zM21.9 290.5h11.7v2.3h-11.7zM21.9 305h11.7v2.3h-11.7zM44.6 56.5h11.7v2.8h-11.7zM44.6 139h11.7v1.8h-11.7zM44.6 160h11.7v1.8h-11.7zM44.6 191h11.7v2.8h-11.7zM44.6 218h11.7v2.3h-11.7zM44.6 264h11.7v2.3h-11.7zM56 111h11.7v1.3h-11.7zM56 126h11.7v2.3h-11.7zM56 147.5h11.7v2.3h-11.7zM56 207.5h11.7v1.8h-11.7zM78.7 60h11.7v1.3h-11.7zM78.7 116.5h11.7v2.8h-11.7zM90 392.5h11.7v2.8h-11.7zM101.3 314h11.7v1.8h-11.7zM101.3 321h11.7v2.3h-11.7zM112.7 332.5h11.7v2.3h-11.7zM135.4 325h11.7v1.8h-11.7zM158.1 359.5h11.7v1.3h-11.7z"/>
<path fill="#ea546c" d="M21.9 129h11.7v1.3h-11.7zM21.9 143h11.7v2.3h-11.7zM33.3 196.5h11.7v2.3h-11.7zM44.6 122.5h11.7v2.3h-11.7zM56 149.5h11.7v2.8h-11.7zM56 210.5h11.7v2.8h-11.7zM56 213h11.7v2.8h-11.7zM56 258h11.7v1.8h-11.7zM56 266h11.7v2.3h-11.7zM78.7 218h11.7v2.3h-11.7zM78.7 254h11.7v2.3h-11.7zM78.7 258h11.7v1.8h-11.7zM112.7 343.5h11.7v1.8h-11.7zM158.1 340h11.7v1.8h-11.7zM158.1 346.5h11.7v2.3h-11.7z"/>
<path fill="#ea4e66" d="M21.9 145h11.7v2.8h-11.7zM21.9 241h11.7v1.8h-11.7zM56 193.5h11.7v2.3h-11.7zM56 238h11.7v1.8h-11.7zM56 282.5h11.7v1.3h-11.7zM146.7 385.5h11.7v2.3h-11.7zM146.7 389h11.7v1.8h-11.7z"/>
<path fill="#d21e2a" d="M21.9 169h11.7v1.3h-11.7zM21.9 282.5h11.7v1.3h-11.7zM44.6 204h11.7v2.8h-11.7zM44.6 249h11.7v1.3h-11.7zM158.1 392.5h11.7v2.8h-11.7z"/>
<path fill="#ea424e" d="M21.9 179.5h11.7v2.8h-11.7zM21.9 244.5h11.7v1.3h-11.7zM21.9 268h11.7v2.3h-11.7zM21.9 300h11.7v2.8h-11.7zM21.9 308.5h11.7v2.3h-11.7zM33.3 268h11.7v2.3h-11.7zM44.6 124.5h11.7v1.8h-11.7zM56 158.5h11.7v1.8h-11.7zM56 165h11.7v1.8h-11.7zM124 329h11.7v1.8h-11.7zM135.4 315.5h11.7v2.3h-11.7zM135.4 350h11.7v2.3h-11.7zM158.1 314h11.7v1.8h-11.7zM158.1 325h11.7v1.8h-11.7zM158.1 357h11.7v2.8h-11.7zM158.1 371.5h11.7v2.8h-11.7zM158.1 382h11.7v2.3h-11.7z"/>
<path fill="#d21e30" d="M21.9 185h11.7v2.3h-11.7zM21.9 292.5h11.7v1.8h-11.7zM21.9 302.5h11.7v1.8h-11.7zM33.3 114.5h11.7v2.3h-11.7zM33.3 147.5h11.7v2.3h-11.7zM44.6 112h11.7v1.8h-11.7zM44.6 141.5h11.7v1.8h-11.7zM44.6 169h11.7v1.3h-11.7zM44.6 172h11.7v1.3h-11.7zM44.6 183h11.7v2.3h-11.7zM44.6 207.5h11.7v1.8h-11.7zM44.6 268h11.7v2.3h-11.7zM56 254h11.7v2.3h-11.7zM56 259.5h11.7v2.8h-11.7zM78.7 72h11.7v2.3h-11.7zM78.7 94.5h11.7v2.3h-11.7zM78.7 105.5h11.7v2.3h-11.7zM78.7 160h11.7v1.8h-11.7zM90 330.5h11.7v1.3h-11.7zM90 353h11.7v2.8h-11.7zM90 357h11.7v2.8h-11.7zM90 374h11.7v1.8h-11.7zM90 387.5h11.7v1.8h-11.7zM101.3 352h11.7v1.3h-11.7zM124 360.5h11.7v2.3h-11.7z"/>
<path fill="#d22430" d="M21.9 213h11.7v2.8h-11.7zM21.9 279h11.7v1.8h-11.7zM44.6 90h11.7v2.3h-11.7zM90 319h11.7v2.3h-11.7zM101.3 374h11.7v1.8h-11.7z"/>
<path fill="#2a2ac0" d="M21.9 323h11.7v2.3h-11.7zM67.3 350h11.7v2.3h-11.7zM101.3 48h11.7v2.8h-11.7zM101.3 158.5h11.7v1.8h-11.7zM101.3 250h11.7v2.8h-11.7zM158.1 234h11.7v2.3h-11.7zM158.1 252.5h11.7v1.8h-11.7zM158.1 275h11.7v2.8h-11.7z"/>
<path fill="#7e6ce4" d="M21.9 326.5h11.7v2.8h-11.7zM21.9 353h11.7v2.8h-11.7zM44.6 329h11.7v1.8h-11.7zM44.6 330.5h11.7v1.3h-11.7zM44.6 359.5h11.7v1.3h-11.7zM44.6 384h11.7v1.8h-11.7zM56 374h11.7v1.8h-11.7zM56 384h11.7v1.8h-11.7zM67.3 175h11.7v2.8h-11.7zM67.3 177.5h11.7v2.3h-11.7zM67.3 185h11.7v2.3h-11.7zM67.3 245.5h11.7v1.8h-11.7zM67.3 258h11.7v1.8h-11.7zM67.3 277.5h11.7v1.8h-11.7zM67.3 289h11.7v1.8h-11.7zM67.3 308.5h11.7v2.3h-11.7zM78.7 329h11.7v1.8h-11.7zM78.7 330.5h11.7v1.3h-11.7zM78.7 357h11.7v2.8h-11.7zM90 135h11.7v1.8h-11.7zM90 136.5h11.7v2.8h-11.7zM90 270h11.7v2.8h-11.7zM90 307h11.7v1.8h-11.7zM101.3 55h11.7v1.8h-11.7zM101.3 207.5h11.7v1.8h-11.7zM112.7 160h11.7v1.8h-11.7zM112.7 252.5h11.7v1.8h-11.7zM124 209h11.7v1.8h-11.7zM124 239.5h11.7v1.8h-11.7zM135.4 104.5h11.7v1.3h-11.7zM135.4 124.5h11.7v1.8h-11.7zM135.4 139h11.7v1.8h-11.7zM135.4 223.5h11.7v2.8h-11.7zM146.7 66h11.7v2.3h-11.7zM146.7 70h11.7v2.3h-11.7zM146.7 87.5h11.7v2.8h-11.7zM146.7 92h11.7v1.8h-11.7zM146.7 96.5h11.7v1.8h-11.7zM146.7 111h11.7v1.3h-11.7zM146.7 139h11.7v1.8h-11.7zM146.7 177.5h11.7v2.3h-11.7zM146.7 213h11.7v2.8h-11.7zM146.7 220h11.7v1.8h-11.7zM146.7 226h11.7v1.3h-11.7zM146.7 241h11.7v1.8h-11.7zM146.7 245.5h11.7v1.8h-11.7zM146.7 274h11.7v1.3h-11.7zM146.7 305h11.7v2.3h-11.7z"/>
<path fill="#9678e4" d="M21.9 329h11.7v1.8h-11.7zM21.9 341.5h11.7v2.3h-11.7zM56 341.5h11.7v2.3h-11.7zM67.3 161.5h11.7v2.3h-11.7zM90 114.5h11.7v2.3h-11.7zM112.7 94.5h11.7v2.3h-11.7zM112.7 165h11.7v1.8h-11.7zM112.7 220h11.7v1.8h-11.7zM112.7 238h11.7v1.8h-11.7zM112.7 307h11.7v1.8h-11.7zM124 74h11.7v2.8h-11.7zM124 84.5h11.7v1.8h-11.7zM124 86h11.7v1.8h-11.7zM146.7 52.5h11.7v2.8h-11.7zM146.7 104.5h11.7v1.3h-11.7zM146.7 277.5h11.7v1.8h-11.7z"/>
<path fill="#8472e4" d="M21.9 339h11.7v1.3h-11.7zM21.9 360.5h11.7v2.3h-11.7zM21.9 362.5h11.7v1.3h-11.7zM21.9 389h11.7v1.8h-11.7zM44.6 360.5h11.7v2.3h-11.7zM56 377.5h11.7v2.3h-11.7zM67.3 166.5h11.7v2.8h-11.7zM67.3 213h11.7v2.8h-11.7zM67.3 274h11.7v1.3h-11.7zM78.7 366h11.7v1.8h-11.7zM78.7 387.5h11.7v1.8h-11.7zM90 77.5h11.7v1.8h-11.7zM90 110h11.7v1.3h-11.7zM90 169h11.7v1.3h-11.7zM90 210.5h11.7v2.8h-11.7zM90 259.5h11.7v2.8h-11.7zM90 280.5h11.7v2.3h-11.7zM101.3 64.5h11.7v1.8h-11.7zM101.3 122.5h11.7v2.3h-11.7zM101.3 147.5h11.7v2.3h-11.7zM112.7 175h11.7v2.8h-11.7zM112.7 239.5h11.7v1.8h-11.7zM112.7 249h11.7v1.3h-11.7zM124 312.5h11.7v1.8h-11.7zM135.4 48h11.7v2.8h-11.7zM135.4 98h11.7v2.8h-11.7zM135.4 141.5h11.7v1.8h-11.7zM135.4 173h11.7v2.3h-11.7zM135.4 189.5h11.7v1.8h-11.7zM135.4 233h11.7v1.3h-11.7zM135.4 249h11.7v1.3h-11.7zM135.4 262h11.7v2.3h-11.7zM135.4 282.5h11.7v1.3h-11.7zM135.4 302.5h11.7v1.8h-11.7zM146.7 61h11.7v1.8h-11.7zM146.7 122.5h11.7v2.3h-11.7zM146.7 128h11.7v1.3h-11.7zM146.7 135h11.7v1.8h-11.7zM146.7 187h11.7v2.8h-11.7zM146.7 304h11.7v1.3h-11.7z"/>
<path fill="#3030c6" d="M21.9 345h11.7v1.8h-11.7zM21.9 375.5h11.7v2.3h-11.7zM44.6 341.5h11.7v2.3h-11.7zM44.6 348.5h11.7v1.8h-11.7zM44.6 367.5h11.7v2.8h-11.7zM90 147.5h11.7v2.3h-11.7zM90 272.5h11.7v1.8h-11.7zM101.3 116.5h11.7v2.8h-11.7zM101.3 189.5h11.7v1.8h-11.7zM101.3 206.5h11.7v1.3h-11.7zM101.3 245.5h11.7v1.8h-11.7zM101.3 277.5h11.7v1.8h-11.7zM101.3 304h11.7v1.3h-11.7zM135.4 62.5h11.7v2.3h-11.7zM135.4 79h11.7v1.3h-11.7zM135.4 312.5h11.7v1.8h-11.7zM146.7 206.5h11.7v1.3h-11.7zM158.1 111h11.7v1.3h-11.7zM158.1 130h11.7v2.3h-11.7zM158.1 136.5h11.7v2.8h-11.7zM158.1 147.5h11.7v2.3h-11.7zM158.1 215.5h11.7v2.8h-11.7zM158.1 221.5h11.7v2.3h-11.7zM158.1 264h11.7v2.3h-11.7zM158.1 304h11.7v1.3h-11.7z"/>
<path fill="#6054e4" d="M21.9 348.5h11.7v1.8h-11.7zM21.9 379.5h11.7v2.8h-11.7zM21.9 382h11.7v2.3h-11.7zM56 350h11.7v2.3h-11.7zM78.7 389h11.7v1.8h-11.7zM90 143h11.7v2.3h-11.7zM90 165h11.7v1.8h-11.7zM90 173h11.7v2.3h-11.7zM101.3 90h11.7v2.3h-11.7zM101.3 100.5h11.7v2.8h-11.7zM101.3 111h11.7v1.3h-11.7zM101.3 143h11.7v2.3h-11.7zM101.3 268h11.7v2.3h-11.7zM101.3 279h11.7v1.8h-11.7zM112.7 66h11.7v2.3h-11.7zM112.7 289h11.7v1.8h-11.7zM124 206.5h11.7v1.3h-11.7zM135.4 60h11.7v1.3h-11.7zM135.4 86h11.7v1.8h-11.7zM135.4 172h11.7v1.3h-11.7zM135.4 183h11.7v2.3h-11.7zM146.7 98h11.7v2.8h-11.7zM146.7 239.5h11.7v1.8h-11.7zM146.7 300h11.7v2.8h-11.7zM158.1 60h11.7v1.3h-11.7zM158.1 149.5h11.7v2.8h-11.7zM158.1 207.5h11.7v1.8h-11.7z"/>
<path fill="#7260e4" d="M21.9 371.5h11.7v2.8h-11.7zM33.3 367.5h11.7v2.8h-11.7zM78.7 384h11.7v1.8h-11.7zM101.3 105.5h11.7v2.3h-11.7zM112.7 295h11.7v2.8h-11.7zM135.4 82h11.7v2.8h-11.7zM135.4 149.5h11.7v2.8h-11.7zM135.4 187h11.7v2.8h-11.7zM135.4 242.5h11.7v2.3h-11.7zM146.7 149.5h11.7v2.8h-11.7zM146.7 209h11.7v1.8h-11.7zM146.7 233h11.7v1.3h-11.7zM146.7 262h11.7v2.3h-11.7zM146.7 310.5h11.7v2.3h-11.7z"/>
<path fill="#8a78e4" d="M21.9 390.5h11.7v2.3h-11.7zM33.3 314h11.7v1.8h-11.7zM56 339h11.7v1.3h-11.7zM56 343.5h11.7v1.8h-11.7zM56 392.5h11.7v2.8h-11.7zM67.3 268h11.7v2.3h-11.7zM67.3 295h11.7v2.8h-11.7zM67.3 307h11.7v1.8h-11.7zM78.7 360.5h11.7v2.3h-11.7zM90 59h11.7v1.3h-11.7zM90 183h11.7v2.3h-11.7zM90 226h11.7v1.3h-11.7zM112.7 120.5h11.7v2.3h-11.7zM112.7 229h11.7v2.3h-11.7zM124 170h11.7v2.3h-11.7zM124 297.5h11.7v2.8h-11.7zM135.4 114.5h11.7v2.3h-11.7zM135.4 160h11.7v1.8h-11.7zM135.4 236h11.7v2.3h-11.7zM146.7 323h11.7v2.3h-11.7z"/>
<path fill="#3030c0" d="M21.9 396h11.7v2.3h-11.7zM44.6 323h11.7v2.3h-11.7zM67.3 314h11.7v1.8h-11.7zM158.1 120.5h11.7v2.3h-11.7zM158.1 163.5h11.7v1.8h-11.7zM158.1 201h11.7v1.8h-11.7zM158.1 220h11.7v1.8h-11.7zM158.1 262h11.7v2.3h-11.7zM158.1 270h11.7v2.8h-11.7zM158.1 302.5h11.7v1.8h-11.7z"/>
<path fill="#cc182a" d="M33.3 62.5h11.7v2.3h-11.7zM33.3 279h11.7v1.8h-11.7zM44.6 126h11.7v2.3h-11.7zM44.6 262h11.7v2.3h-11.7zM56 77.5h11.7v1.8h-11.7zM78.7 112h11.7v1.8h-11.7zM101.3 382h11.7v2.3h-11.7zM112.7 362.5h11.7v1.3h-11.7zM112.7 374h11.7v1.8h-11.7zM135.4 392.5h11.7v2.8h-11.7z"/>
<path fill="#b484d8" d="M33.3 129h11.7v1.3h-11.7zM33.3 229h11.7v2.3h-11.7zM44.6 377.5h11.7v2.3h-11.7zM67.3 59h11.7v1.3h-11.7zM67.3 98h11.7v2.8h-11.7zM67.3 120.5h11.7v2.3h-11.7zM67.3 247h11.7v2.3h-11.7zM67.3 275h11.7v2.8h-11.7zM67.3 279h11.7v1.8h-11.7zM90 223.5h11.7v2.8h-11.7zM112.7 87.5h11.7v2.8h-11.7zM112.7 274h11.7v1.3h-11.7zM124 112h11.7v1.8h-11.7zM124 141.5h11.7v1.8h-11.7zM124 143h11.7v2.3h-11.7zM124 193.5h11.7v2.3h-11.7zM124 256h11.7v2.3h-11.7zM124 294h11.7v1.3h-11.7zM135.4 122.5h11.7v2.3h-11.7zM146.7 272.5h11.7v1.8h-11.7zM146.7 375.5h11.7v2.3h-11.7z"/>
<path fill="#d284b4" d="M33.3 220h11.7v1.8h-11.7zM56 360.5h11.7v2.3h-11.7zM67.3 147.5h11.7v2.3h-11.7zM67.3 262h11.7v2.3h-11.7zM67.3 292.5h11.7v1.8h-11.7zM78.7 195.5h11.7v1.3h-11.7zM112.7 172h11.7v1.3h-11.7zM112.7 206.5h11.7v1.3h-11.7z"/>
<path fill="#c68ac6" d="M33.3 289h11.7v1.8h-11.7zM67.3 244.5h11.7v1.3h-11.7zM112.7 254h11.7v2.3h-11.7zM124 60h11.7v1.3h-11.7zM146.7 254h11.7v2.3h-11.7z"/>
<path fill="#ea607e" d="M44.6 136.5h11.7v2.8h-11.7zM124 52.5h11.7v2.8h-11.7zM124 92h11.7v1.8h-11.7z"/>
<path fill="#2424a2" d="M44.6 332.5h11.7v2.3h-11.7z"/>
<path fill="#3636d8" d="M44.6 334.5h11.7v1.3h-11.7zM44.6 352h11.7v1.3h-11.7zM44.6 382h11.7v2.3h-11.7zM78.7 334.5h11.7v1.3h-11.7zM90 62.5h11.7v2.3h-11.7zM90 66h11.7v2.3h-11.7zM90 76.5h11.7v1.3h-11.7zM90 156h11.7v2.8h-11.7zM90 195.5h11.7v1.3h-11.7zM90 254h11.7v2.3h-11.7zM101.3 52.5h11.7v2.8h-11.7zM101.3 112h11.7v1.8h-11.7zM101.3 113.5h11.7v1.3h-11.7zM101.3 120.5h11.7v2.3h-11.7zM101.3 282.5h11.7v1.3h-11.7zM135.4 116.5h11.7v2.8h-11.7zM158.1 62.5h11.7v2.3h-11.7zM158.1 175h11.7v2.8h-11.7zM158.1 247h11.7v2.3h-11.7z"/>
<path fill="#4242d8" d="M44.6 339h11.7v1.3h-11.7zM44.6 355.5h11.7v1.8h-11.7zM44.6 357h11.7v2.8h-11.7zM56 334.5h11.7v1.3h-11.7zM56 359.5h11.7v1.3h-11.7zM78.7 396h11.7v2.3h-11.7zM90 262h11.7v2.3h-11.7zM101.3 110h11.7v1.3h-11.7zM101.3 165h11.7v1.8h-11.7zM135.4 55h11.7v1.8h-11.7zM146.7 182h11.7v1.3h-11.7zM158.1 179.5h11.7v2.8h-11.7zM158.1 191h11.7v2.8h-11.7zM158.1 245.5h11.7v1.8h-11.7zM158.1 290.5h11.7v2.3h-11.7z"/>
<path fill="#6660e4" d="M44.6 340h11.7v1.8h-11.7zM56 315.5h11.7v2.3h-11.7zM56 396h11.7v2.3h-11.7zM67.3 163.5h11.7v1.8h-11.7zM67.3 206.5h11.7v1.3h-11.7zM67.3 227h11.7v2.3h-11.7zM101.3 56.5h11.7v2.8h-11.7zM101.3 94.5h11.7v2.3h-11.7zM112.7 130h11.7v2.3h-11.7zM124 93.5h11.7v1.3h-11.7zM124 195.5h11.7v1.3h-11.7zM135.4 84.5h11.7v1.8h-11.7zM135.4 270h11.7v2.8h-11.7zM146.7 100.5h11.7v2.8h-11.7zM146.7 302.5h11.7v1.8h-11.7zM158.1 122.5h11.7v2.3h-11.7z"/>
<path fill="#2424a8" d="M44.6 366h11.7v1.8h-11.7zM67.3 329h11.7v1.8h-11.7zM67.3 340h11.7v1.8h-11.7zM78.7 375.5h11.7v2.3h-11.7zM101.3 84.5h11.7v1.8h-11.7zM101.3 145h11.7v2.8h-11.7zM101.3 177.5h11.7v2.3h-11.7zM101.3 227h11.7v2.3h-11.7zM101.3 231h11.7v2.3h-11.7zM101.3 297.5h11.7v2.8h-11.7zM101.3 302.5h11.7v1.8h-11.7zM101.3 310.5h11.7v2.3h-11.7zM135.4 145h11.7v2.8h-11.7zM158.1 74h11.7v2.8h-11.7zM158.1 124.5h11.7v1.8h-11.7zM158.1 277.5h11.7v1.8h-11.7zM158.1 289h11.7v1.8h-11.7z"/>
<path fill="#1e1e96" d="M44.6 370h11.7v1.8h-11.7zM67.3 331.5h11.7v1.3h-11.7zM67.3 370h11.7v1.8h-11.7zM101.3 72h11.7v2.3h-11.7zM101.3 295h11.7v2.8h-11.7zM135.4 72h11.7v2.3h-11.7z"/>
<path fill="#5a4ee4" d="M44.6 379.5h11.7v2.8h-11.7zM101.3 191h11.7v2.8h-11.7zM135.4 165h11.7v1.8h-11.7zM135.4 206.5h11.7v1.3h-11.7z"/>
<path fill="#18188a" d="M44.6 396h11.7v2.3h-11.7zM56 346.5h11.7v2.3h-11.7zM67.3 317.5h11.7v1.8h-11.7zM67.3 321h11.7v2.3h-11.7zM67.3 332.5h11.7v2.3h-11.7zM67.3 334.5h11.7v1.3h-11.7zM67.3 335.5h11.7v1.8h-11.7zM67.3 339h11.7v1.3h-11.7zM67.3 343.5h11.7v1.8h-11.7zM67.3 345h11.7v1.8h-11.7zM67.3 346.5h11.7v2.3h-11.7zM67.3 357h11.7v2.8h-11.7zM67.3 362.5h11.7v1.3h-11.7zM67.3 367.5h11.7v2.8h-11.7zM67.3 371.5h11.7v2.8h-11.7zM67.3 375.5h11.7v2.3h-11.7zM67.3 379.5h11.7v2.8h-11.7zM67.3 385.5h11.7v2.3h-11.7zM67.3 392.5h11.7v2.8h-11.7zM67.3 395h11.7v1.3h-11.7zM67.3 398h11.7v1.3h-11.7zM101.3 77.5h11.7v1.8h-11.7zM101.3 201h11.7v1.8h-11.7zM135.4 258h11.7v1.8h-11.7z"/>
<path fill="#2a2ab4" d="M56 326.5h11.7v2.8h-11.7zM67.3 366h11.7v1.8h-11.7zM67.3 384h11.7v1.8h-11.7zM90 79h11.7v1.3h-11.7zM101.3 66h11.7v2.3h-11.7zM101.3 213h11.7v2.8h-11.7zM101.3 236h11.7v2.3h-11.7zM124 132h11.7v1.3h-11.7zM135.4 166.5h11.7v2.8h-11.7zM158.1 114.5h11.7v2.3h-11.7z"/>
<path fill="#423cd8" d="M56 335.5h11.7v1.8h-11.7zM56 375.5h11.7v2.3h-11.7zM90 213h11.7v2.8h-11.7zM135.4 213h11.7v2.8h-11.7zM158.1 98h11.7v2.8h-11.7zM158.1 189.5h11.7v1.8h-11.7zM158.1 193.5h11.7v2.3h-11.7zM158.1 223.5h11.7v2.8h-11.7zM158.1 227h11.7v2.3h-11.7zM158.1 238h11.7v1.8h-11.7z"/>
<path fill="#d884ae" d="M67.3 64.5h11.7v1.8h-11.7zM112.7 204h11.7v2.8h-11.7z"/>
<path fill="#181890" d="M67.3 315.5h11.7v2.3h-11.7zM67.3 337h11.7v2.3h-11.7zM67.3 360.5h11.7v2.3h-11.7zM67.3 377.5h11.7v2.3h-11.7z"/>
<path fill="#1e1e9c" d="M67.3 323h11.7v2.3h-11.7zM67.3 352h11.7v1.3h-11.7zM67.3 353h11.7v2.8h-11.7zM67.3 382h11.7v2.3h-11.7zM67.3 390.5h11.7v2.3h-11.7zM101.3 221.5h11.7v2.3h-11.7zM101.3 275h11.7v2.8h-11.7z"/>
<path fill="#1e1ea2" d="M67.3 325h11.7v1.8h-11.7zM67.3 330.5h11.7v1.3h-11.7zM67.3 341.5h11.7v2.3h-11.7zM67.3 348.5h11.7v1.8h-11.7zM67.3 396h11.7v2.3h-11.7zM158.1 70h11.7v2.3h-11.7z"/>
<path fill="#181896" d="M67.3 326.5h11.7v2.8h-11.7zM67.3 389h11.7v1.8h-11.7z"/>
<path fill="#3c36d8" d="M67.3 363.5h11.7v2.8h-11.7zM158.1 170h11.7v2.3h-11.7z"/>
<path fill="#de2436" d="M78.7 87.5h11.7v2.8h-11.7z"/>
<path fill="#4242de" d="M90 103h11.7v1.8h-11.7zM90 128h11.7v1.3h-11.7zM90 312.5h11.7v1.8h-11.7zM101.3 96.5h11.7v1.8h-11.7zM135.4 250h11.7v2.8h-11.7zM146.7 172h11.7v1.3h-11.7zM158.1 50.5h11.7v2.3h-11.7zM158.1 94.5h11.7v2.3h-11.7zM158.1 242.5h11.7v2.3h-11.7zM158.1 274h11.7v1.3h-11.7zM158.1 282.5h11.7v1.3h-11.7zM158.1 283.5h11.7v1.3h-11.7z"/>
<path fill="#3636cc" d="M101.3 60h11.7v1.3h-11.7zM101.3 280.5h11.7v2.3h-11.7zM135.4 112h11.7v1.8h-11.7zM158.1 141.5h11.7v1.8h-11.7zM158.1 206.5h11.7v1.3h-11.7zM158.1 213h11.7v2.8h-11.7zM158.1 297.5h11.7v2.8h-11.7z"/>
<path fill="#4e4ede" d="M101.3 198.5h11.7v2.8h-11.7zM135.4 280.5h11.7v2.3h-11.7zM158.1 56.5h11.7v2.8h-11.7zM158.1 172h11.7v1.3h-11.7zM158.1 202.5h11.7v1.8h-11.7zM158.1 305h11.7v2.3h-11.7z"/>
<path fill="#5a4ede" d="M135.4 238h11.7v1.8h-11.7zM135.4 292.5h11.7v1.8h-11.7zM158.1 249h11.7v1.3h-11.7z"/>
</g>
<rect x="21" y="403.9" width="11.7" height="2.6" fill="#1e1e66" stroke="none" stroke-width="1" />
<rect x="32.4" y="403.9" width="11.7" height="2.6" fill="#26268c" stroke="none" stroke-width="1" />
<rect x="43.8" y="403.9" width="11.7" height="2.6" fill="#4444b0" stroke="none" stroke-width="1" />
<rect x="55.2" y="403.9" width="11.7" height="2.6" fill="#7a7ad0" stroke="none" stroke-width="1" />
<rect x="66.7" y="403.9" width="11.7" height="2.6" fill="#aeaae4" stroke="none" stroke-width="1" />
<rect x="78.1" y="403.9" width="11.7" height="2.6" fill="#d8d0f0" stroke="none" stroke-width="1" />
<rect x="89.5" y="403.9" width="11.7" height="2.6" fill="#f2d4e2" stroke="none" stroke-width="1" />
<rect x="100.9" y="403.9" width="11.7" height="2.6" fill="#f0a6b6" stroke="none" stroke-width="1" />
<rect x="112.3" y="403.9" width="11.7" height="2.6" fill="#e8707e" stroke="none" stroke-width="1" />
<rect x="123.8" y="403.9" width="11.7" height="2.6" fill="#de4252" stroke="none" stroke-width="1" />
<rect x="135.2" y="403.9" width="11.7" height="2.6" fill="#cc2232" stroke="none" stroke-width="1" />
<rect x="146.6" y="403.9" width="11.7" height="2.6" fill="#a01818" stroke="none" stroke-width="1" />
<text x="21" y="409.6" font-size="2.0" font-weight="normal" fill="#999" text-anchor="middle" >-3.0</text>
<text x="32.4" y="409.6" font-size="2.0" font-weight="normal" fill="#999" text-anchor="middle" >-2.5</text>
<text x="43.8" y="409.6" font-size="2.0" font-weight="normal" fill="#999" text-anchor="middle" >-2.0</text>
<text x="55.2" y="409.6" font-size="2.0" font-weight="normal" fill="#999" text-anchor="middle" >-1.5</text>
<text x="66.7" y="409.6" font-size="2.0" font-weight="normal" fill="#999" text-anchor="middle" >-1.0</text>
<text x="78.1" y="409.6" font-size="2.0" font-weight="normal" fill="#999" text-anchor="middle" >-0.5</text>
<text x="89.5" y="409.6" font-size="2.0" font-weight="normal" fill="#999" text-anchor="middle" >0.0</text>
<text x="100.9" y="409.6" font-size="2.0" font-weight="normal" fill="#999" text-anchor="middle" >0.5</text>
<text x="112.3" y="409.6" font-size="2.0" font-weight="normal" fill="#999" text-anchor="middle" >1.0</text>
<text x="123.8" y="409.6" font-size="2.0" font-weight="normal" fill="#999" text-anchor="middle" >1.5</text>
<text x="135.2" y="409.6" font-size="2.0" font-weight="normal" fill="#999" text-anchor="middle" >2.0</text>
<text x="146.6" y="409.6" font-size="2.0" font-weight="normal" fill="#999" text-anchor="middle" >2.5</text>
<text x="158" y="409.6" font-size="2.0" font-weight="normal" fill="#999" text-anchor="middle" >3.0</text>
<text x="10.6" y="413" font-size="2.5" font-weight="normal" fill="#888" text-anchor="start" >Low</text>
<text x="164.5" y="413" font-size="2.5" font-weight="normal" fill="#888" text-anchor="start" >High</text>
<text x="89" y="413" font-size="2.5" font-weight="normal" fill="#888" text-anchor="middle" >Normalized Expression</text>
<path d="M188.5 69.7V253H343.7" fill="none" stroke="#444" stroke-width="0.8"/>
<path d="M188.5 253h-1.8M188.5 234.8h-1.8M188.5 216.5h-1.8M188.5 198.3h-1.8M188.5 180.1h-1.8M188.5 161.8h-1.8M188.5 143.6h-1.8M188.5 125.4h-1.8M188.5 107.2h-1.8M188.5 88.9h-1.8M188.5 70.7h-1.8M188.5 253v1.6M202.6 253v1.6M216.7 253v1.6M230.8 253v1.6M244.9 253v1.6M259 253v1.6M273.1 253v1.6M287.2 253v1.6M301.3 253v1.6M315.4 253v1.6M329.5 253v1.6M343.6 253v1.6" stroke="#444" stroke-width="0.6" fill="none"/>
<text x="185.9" y="72" font-size="3.6" font-weight="bold" fill="#222" text-anchor="end" >100%</text>
<text x="185.9" y="108.5" font-size="3.6" font-weight="bold" fill="#222" text-anchor="end" >80%</text>
<text x="185.9" y="144.9" font-size="3.6" font-weight="bold" fill="#222" text-anchor="end" >60%</text>
<text x="185.9" y="181.4" font-size="3.6" font-weight="bold" fill="#222" text-anchor="end" >40%</text>
<text x="185.9" y="217.8" font-size="3.6" font-weight="bold" fill="#222" text-anchor="end" >20%</text>
<text x="188.5" y="258.8" font-size="3.8" font-weight="bold" fill="#222" text-anchor="middle" >0</text>
<text x="216.7" y="258.8" font-size="3.8" font-weight="bold" fill="#222" text-anchor="middle" >2</text>
<text x="244.9" y="258.8" font-size="3.8" font-weight="bold" fill="#222" text-anchor="middle" >4</text>
<text x="273.1" y="258.8" font-size="3.8" font-weight="bold" fill="#222" text-anchor="middle" >6</text>
<text x="301.3" y="258.8" font-size="3.8" font-weight="bold" fill="#222" text-anchor="middle" >8</text>
<text x="329.5" y="258.8" font-size="3.8" font-weight="bold" fill="#222" text-anchor="middle" >10</text>
<text x="247" y="265.5" font-size="3.6" font-weight="bold" fill="#222" text-anchor="start" textLength="38.5" lengthAdjust="spacingAndGlyphs" >Years from Enrollment</text>
<text transform="translate(177.2 160) rotate(-90)" font-size="3.6" font-weight="bold" fill="#222" text-anchor="middle">Overall Survival</text>
<text x="245.4" y="54.6" font-size="8" font-weight="normal" fill="#222" text-anchor="start" textLength="64.6" lengthAdjust="spacingAndGlyphs" >TT3a (training set)</text>
<text x="297.2" y="86.9" font-size="8.6" fill="#222" textLength="33" lengthAdjust="spacingAndGlyphs"><tspan font-style="italic">P</tspan> =.0002</text>
<path d="M188.50 70.70L193.30 70.70H194.50V76.80H196.42V77.77H198.33V78.73H200.25V79.70H202.17V80.67H204.08V81.63H206.00V82.60H207.53V82.80H209.07V83.00H210.60V83.20H212.36V84.26H214.11V85.31H215.87V86.37H217.63V87.43H219.39V88.49H221.14V89.54H222.90V90.60H224.43V92.40H225.97V94.20H227.50V96.00H229.43V97.15H231.35V98.30H233.27V99.45H235.20V100.60H237.27V102.30H239.33V104.00H241.40V105.70H243.43V106.57H245.47V107.43H247.50V108.30H249.36V109.22H251.22V110.14H253.08V111.06H254.94V111.98H256.80V112.90H258.83V113.00H260.87V113.10H262.90V113.20H264.45V114.60H266.00V116.00H267.95V116.92H269.90V117.85H271.85V118.78H273.80V119.70H275.64V120.36H277.48V121.02H279.32V121.68H281.16V122.34H283.00V123.00H284.75V123.75H286.50V124.50H288.25V125.25H290.00V126.00H291.53V127.07H293.07V128.13H294.60V129.20H296.40V129.47H298.20V129.73H300.00V130.00H301.90V130.25H303.80V130.50H305.70V130.75H307.60V131.00H309.80V132.50H312.00V134.00H313.67V135.00H315.33V136.00H317.00V137.00H318.80V139.00H319.70V145.10L333.60 145.10" fill="none" stroke="#d21e22" stroke-width="1.8"/>
<path d="M188.5 70.7H194.5V83.7H195.8V90H196.5V96.8H198.3V102.9H201V109.8H203V116H203.7V123H205V130H206.3V135.4H222.5V149.2H228V154.8H251.2V160.9H265V168.3H289.6V176.3H293.3V183.7H311.2V193.5H329.6" fill="none" stroke="#2a2ab4" stroke-width="1.4"/>
<text x="255.2" y="227.6" font-size="7.6" font-weight="normal" fill="#222" text-anchor="start" textLength="30.9" lengthAdjust="spacingAndGlyphs"  stroke="#222" stroke-width="0.12">Events / N</text>
<text x="292.5" y="227.6" font-size="7.6" font-weight="normal" fill="#222" text-anchor="start" textLength="49.7" lengthAdjust="spacingAndGlyphs"  stroke="#222" stroke-width="0.12">Median survival</text>
<text x="199.7" y="236.3" font-size="7.6" font-weight="normal" fill="#e03a3a" text-anchor="start" textLength="47.1" lengthAdjust="spacingAndGlyphs"  stroke="#e03a3a" stroke-width="0.12">ALCAM &gt; 10.29</text>
<text x="258" y="236.3" font-size="7.6" font-weight="normal" fill="#e03a3a" text-anchor="start" textLength="26" lengthAdjust="spacingAndGlyphs"  stroke="#e03a3a" stroke-width="0.12">91 / 248</text>
<text x="312" y="236.3" font-size="7.6" font-weight="normal" fill="#e03a3a" text-anchor="start" textLength="9.4" lengthAdjust="spacingAndGlyphs"  stroke="#e03a3a" stroke-width="0.12">NA</text>
<text x="199.7" y="245.5" font-size="7.6" font-weight="normal" fill="#4646c0" text-anchor="start" textLength="47.1" lengthAdjust="spacingAndGlyphs"  stroke="#4646c0" stroke-width="0.12">ALCAM &#8804; 10.29</text>
<text x="261" y="245.5" font-size="7.6" font-weight="normal" fill="#4646c0" text-anchor="start" textLength="19.8" lengthAdjust="spacingAndGlyphs"  stroke="#4646c0" stroke-width="0.12">18 /28</text>
<text x="305.6" y="245.5" font-size="7.6" font-weight="normal" fill="#4646c0" text-anchor="start" textLength="22.2" lengthAdjust="spacingAndGlyphs"  stroke="#4646c0" stroke-width="0.12">5 years</text>
<path d="M363.4 69.8V253.2H518.3" fill="none" stroke="#444" stroke-width="0.8"/>
<path d="M363.4 253.2h-1.8M363.4 235h-1.8M363.4 216.7h-1.8M363.4 198.5h-1.8M363.4 180.2h-1.8M363.4 162h-1.8M363.4 143.8h-1.8M363.4 125.5h-1.8M363.4 107.3h-1.8M363.4 89h-1.8M363.4 70.8h-1.8M363.4 253.2v1.6M377.4 253.2v1.6M391.5 253.2v1.6M405.5 253.2v1.6M419.6 253.2v1.6M433.6 253.2v1.6M447.7 253.2v1.6M461.8 253.2v1.6M475.8 253.2v1.6M489.8 253.2v1.6M503.9 253.2v1.6M518 253.2v1.6" stroke="#444" stroke-width="0.6" fill="none"/>
<text x="360.8" y="72.1" font-size="3.6" font-weight="bold" fill="#222" text-anchor="end" >100%</text>
<text x="360.8" y="108.6" font-size="3.6" font-weight="bold" fill="#222" text-anchor="end" >80%</text>
<text x="360.8" y="145.1" font-size="3.6" font-weight="bold" fill="#222" text-anchor="end" >60%</text>
<text x="360.8" y="181.5" font-size="3.6" font-weight="bold" fill="#222" text-anchor="end" >40%</text>
<text x="360.8" y="218" font-size="3.6" font-weight="bold" fill="#222" text-anchor="end" >20%</text>
<text x="363.4" y="259" font-size="3.8" font-weight="bold" fill="#222" text-anchor="middle" >0</text>
<text x="391.5" y="259" font-size="3.8" font-weight="bold" fill="#222" text-anchor="middle" >2</text>
<text x="419.6" y="259" font-size="3.8" font-weight="bold" fill="#222" text-anchor="middle" >4</text>
<text x="447.7" y="259" font-size="3.8" font-weight="bold" fill="#222" text-anchor="middle" >6</text>
<text x="475.8" y="259" font-size="3.8" font-weight="bold" fill="#222" text-anchor="middle" >8</text>
<text x="503.9" y="259" font-size="3.8" font-weight="bold" fill="#222" text-anchor="middle" >10</text>
<text x="421.9" y="265.7" font-size="3.6" font-weight="bold" fill="#222" text-anchor="start" textLength="38.5" lengthAdjust="spacingAndGlyphs" >Years from Enrollment</text>
<text transform="translate(352 160) rotate(-90)" font-size="3.6" font-weight="bold" fill="#222" text-anchor="middle">Overall Survival</text>
<text x="417.8" y="54.6" font-size="8" font-weight="normal" fill="#222" text-anchor="start" textLength="73.2" lengthAdjust="spacingAndGlyphs" >TT3b (validation set)</text>
<text x="494.6" y="86.9" font-size="8.6" fill="#222" textLength="23.4" lengthAdjust="spacingAndGlyphs"><tspan font-style="italic">P</tspan> =.02</text>
<path d="M363.40 71.50L368.80 71.50H370.30V81.50H372.00V84.55H373.70V87.60L378.40 87.60H380.03V89.03H381.67V90.47H383.30V91.90H385.02V92.76H386.74V93.62H388.46V94.48H390.18V95.34H391.90V96.20L395.40 96.20H396.95V98.85H398.50V101.50H400.12V102.52H401.74V103.54H403.36V104.56H404.98V105.58H406.60V106.60H408.00V109.20L416.20 109.20H417.70V112.30H419.20V115.40H420.96V115.51H422.71V115.63H424.47V115.74H426.23V115.86H427.99V115.97H429.74V116.09H431.50V116.20H432.95V117.90H434.40V119.60H436.35V120.40H438.30V121.20H440.23V122.72H442.15V124.25H444.07V125.78H446.00V127.30L457.50 127.30H459.40V132.10L459.40 141.20L469.00 141.20" fill="none" stroke="#d21e22" stroke-width="1.8"/>
<path d="M363.4 70.8H369.1V80.7H370.8V99.2H375.1V108.5H376V118.5H396.5V127.7H400V138H442.7V160.4H447.9V172.1H453.7V192.3H466.5" fill="none" stroke="#2a2ab4" stroke-width="1.4"/>
<text x="430.8" y="227.6" font-size="7.6" font-weight="normal" fill="#222" text-anchor="start" textLength="32" lengthAdjust="spacingAndGlyphs"  stroke="#222" stroke-width="0.12">Events / N</text>
<text x="467.9" y="227.6" font-size="7.6" font-weight="normal" fill="#222" text-anchor="start" textLength="50.4" lengthAdjust="spacingAndGlyphs"  stroke="#222" stroke-width="0.12">Median survival</text>
<text x="375.3" y="236.3" font-size="7.6" font-weight="normal" fill="#e03a3a" text-anchor="start" textLength="48.1" lengthAdjust="spacingAndGlyphs"  stroke="#e03a3a" stroke-width="0.12">ALCAM &gt; 10.29</text>
<text x="434.2" y="236.3" font-size="7.6" font-weight="normal" fill="#e03a3a" text-anchor="start" textLength="26.2" lengthAdjust="spacingAndGlyphs"  stroke="#e03a3a" stroke-width="0.12">49 / 149</text>
<text x="488" y="236.3" font-size="7.6" font-weight="normal" fill="#e03a3a" text-anchor="start" textLength="10.1" lengthAdjust="spacingAndGlyphs"  stroke="#e03a3a" stroke-width="0.12">NA</text>
<text x="375.3" y="245.5" font-size="7.6" font-weight="normal" fill="#4646c0" text-anchor="start" textLength="48.1" lengthAdjust="spacingAndGlyphs"  stroke="#4646c0" stroke-width="0.12">ALCAM &#8804; 10.29</text>
<text x="436.5" y="245.5" font-size="7.6" font-weight="normal" fill="#4646c0" text-anchor="start" textLength="21.3" lengthAdjust="spacingAndGlyphs"  stroke="#4646c0" stroke-width="0.12">11 / 19</text>
<text x="482.3" y="245.5" font-size="7.6" font-weight="normal" fill="#4646c0" text-anchor="start" textLength="22.6" lengthAdjust="spacingAndGlyphs"  stroke="#4646c0" stroke-width="0.12">6 years</text>
<defs><filter id="bl" x="-5%" y="-5%" width="110%" height="110%"><feGaussianBlur stdDeviation="0.6"/></filter></defs>
<g filter="url(#bl)">
<clipPath id="c1"><rect x="14.8" y="462" width="18.2" height="98"/></clipPath>
<clipPath id="c2"><rect x="36.3" y="475" width="17.9" height="85"/></clipPath>
<clipPath id="c3"><rect x="57.5" y="470" width="17.9" height="90"/></clipPath>
<clipPath id="c4"><rect x="78.8" y="484" width="18.2" height="76"/></clipPath>
<clipPath id="c5"><rect x="100.2" y="484" width="17.8" height="76"/></clipPath>
<clipPath id="c6"><rect x="121.2" y="473" width="18.5" height="87"/></clipPath>
<clipPath id="c7"><rect x="142.7" y="497" width="18.1" height="63"/></clipPath>
<clipPath id="c8"><rect x="164.1" y="494" width="18.2" height="66"/></clipPath>
<path d="M19 462h1M25 462h1M27 462h1M18 463h1M28 463h1M30 463h1M15 464h1M23 464h1M25 464h1M29 464h1M32 464h1M16 465h1M19 465h1M24 465h1M26 465h3M31 465h1M16 466h1M19 466h1M21 466h1M26 466h1M29 466h1M31 466h1M27 467h1M32 508h1M28 509h1M23 511h1M28 512h1M30 512h1M15 513h1M22 513h1M24 513h1M29 513h1M32 513h1M15 514h1M18 514h1M25 514h1M29 514h1M31 514h1M16 515h1M19 515h1M21 515h1M29 515h2M32 515h1M16 516h2M19 516h1M22 516h1M29 516h1M32 516h1M15 517h1M17 517h1M21 517h1M26 517h1M16 518h1M18 518h2M21 518h1M23 518h1M26 518h2M31 518h2M17 519h2M20 519h3M24 519h1M26 519h1M15 520h3M19 520h1M22 520h2M25 520h1M28 520h1M15 521h2M20 521h1M22 521h1M25 521h2M29 521h1M32 521h1M15 522h1M17 522h1M19 522h2M23 522h1M25 522h5M17 523h1M21 523h2M25 523h2M30 523h2M18 524h5M24 524h2M29 524h1M18 525h4M24 525h2M30 525h2M16 526h1M18 526h1M21 526h1M24 526h1M26 526h1M16 527h2M20 527h1M29 527h2M32 527h1M15 528h2M24 528h1M26 528h2M29 528h3M15 529h1M20 529h4M26 529h1M31 529h2M18 530h2M22 530h2M29 530h2M15 531h1M18 531h1M24 531h1M27 531h1M19 532h1M27 532h1M29 532h1M32 532h1M24 533h1M26 533h1M30 533h1M17 534h1M19 534h1M22 534h1M25 534h1M27 534h1M32 534h1M15 535h1M20 535h1M29 535h1M32 535h1M18 536h1M20 536h1M26 537h1M32 537h1M16 538h2M19 538h1M21 538h1M23 538h1M30 538h2M15 539h2M21 539h1M25 539h1M30 539h1M21 540h2M25 540h1M27 540h2M17 541h1M22 541h1M28 541h1M17 542h1M19 542h1M25 542h1M16 543h1M25 543h1M27 543h1M15 545h2M19 545h1M28 545h3M32 545h1M15 546h2M24 546h1M26 546h2M31 546h1M19 547h1M28 547h2M16 548h1M24 548h1M26 548h2M26 549h1M17 551h1M27 551h1M30 551h1M20 552h1M28 552h3M32 552h1M17 553h1M26 553h1M21 554h2M23 555h1M22 556h1M28 556h1M17 557h1M24 557h1M26 557h1M16 558h1M30 558h3M21 559h1M32 559h1M36 476h1M36 477h1M38 477h1M41 477h1M43 477h1M43 478h2M50 478h2M46 479h1M49 479h2M52 479h2M39 480h1M45 480h1M52 480h1M44 532h1M41 533h1M51 533h1M37 534h1M37 535h1M41 535h1M49 535h1M40 536h1M50 536h1M41 537h1M43 537h1M52 537h2M38 538h1M40 538h3M48 538h1M43 539h1M46 539h1M48 539h1M52 539h2M37 540h1M39 540h1M46 540h1M37 541h1M40 541h1M42 541h1M49 541h1M51 541h3M36 542h1M41 542h2M49 542h1M52 542h2M37 543h1M40 543h1M45 543h1M48 543h1M50 543h4M36 544h1M38 544h1M40 544h3M45 544h2M52 544h2M36 545h1M39 545h1M42 545h1M44 545h1M47 545h2M50 545h4M39 546h3M48 546h3M52 546h2M37 547h1M42 547h3M47 547h2M51 547h1M53 547h1M41 548h1M43 548h1M45 548h1M52 548h2M37 549h1M41 549h1M51 549h1M36 550h1M38 550h2M44 550h2M49 550h1M44 551h1M39 552h3M46 552h1M37 553h1M42 553h1M45 553h1M52 553h1M38 554h2M41 554h1M46 554h1M49 554h2M43 555h1M48 555h1M52 555h1M36 556h1M39 556h2M43 556h2M53 556h1M43 557h1M49 557h1M52 557h2M44 558h1M37 559h1M42 559h1M48 559h1M63 470h1M66 470h1M72 471h1M60 472h2M63 472h1M67 472h2M70 472h1M72 472h1M59 473h1M61 473h2M65 473h2M69 473h3M73 473h1M61 474h1M66 474h1M70 474h1M70 511h1M59 514h2M69 514h1M63 515h1M69 515h1M60 516h1M67 516h1M74 516h1M60 517h1M64 517h1M66 517h2M73 517h1M58 518h4M64 518h2M69 518h1M73 518h1M59 519h3M67 519h3M72 519h1M74 519h1M59 520h1M61 520h1M64 520h1M69 520h1M61 521h3M65 521h2M68 521h1M71 521h1M73 521h1M60 522h1M67 522h1M70 522h1M72 522h1M58 523h1M63 523h5M69 523h1M72 523h3M58 524h1M60 524h1M64 524h1M66 524h2M69 524h1M72 524h2M58 525h2M62 525h1M66 525h1M68 525h2M72 525h1M59 526h4M64 526h1M69 526h1M72 526h2M61 527h5M71 527h2M59 528h1M63 528h1M66 528h1M69 528h1M59 529h5M66 529h1M69 529h1M73 529h2M59 530h2M63 530h3M67 530h1M69 530h1M72 530h2M59 531h1M61 531h1M63 531h1M68 531h1M74 531h1M60 532h1M65 532h1M67 532h1M69 532h1M59 533h1M65 533h1M67 533h1M70 533h1M63 534h1M66 534h1M70 534h1M72 534h1M60 535h1M66 535h1M70 535h1M60 536h2M65 536h1M71 536h1M74 536h1M58 537h2M62 537h4M67 537h2M66 538h1M68 538h1M63 539h1M69 539h1M60 540h1M62 540h1M64 540h1M72 540h2M66 541h1M69 541h1M74 541h1M58 542h1M64 542h1M67 542h1M74 542h1M60 543h2M74 543h1M61 544h1M72 544h3M62 545h1M62 546h1M64 546h1M69 546h1M73 546h2M62 547h1M66 547h2M70 547h1M73 547h1M59 548h1M64 548h1M72 548h2M63 549h1M67 549h2M72 549h2M61 550h1M67 550h1M69 550h2M64 551h2M68 551h1M70 551h2M74 551h1M58 552h1M72 552h1M66 553h1M60 554h1M64 554h1M69 554h1M66 555h1M68 555h1M58 556h1M61 556h1M70 556h1M74 557h1M58 559h1M60 559h1M72 559h2M83 484h1M88 484h1M79 485h1M84 485h2M87 485h2M92 485h1M79 486h1M81 486h1M92 486h1M94 486h1M96 486h1M83 487h1M87 487h1M92 487h1M95 487h2M93 488h1M82 533h1M92 535h1M79 537h1M96 537h1M88 538h1M90 538h1M82 539h1M85 539h1M87 539h1M90 539h1M80 540h2M88 540h2M92 540h3M81 541h1M85 541h2M85 542h1M89 542h1M94 542h3M82 543h1M96 543h1M79 544h1M82 544h1M84 544h1M87 544h2M90 544h1M93 544h3M79 545h2M82 545h1M86 545h1M89 545h1M80 546h1M84 546h2M89 546h8M81 547h2M84 547h3M96 547h1M79 548h1M81 548h1M91 548h5M83 549h1M86 549h1M92 549h2M96 549h1M83 550h2M87 550h1M89 550h1M96 550h1M80 551h1M82 551h1M92 551h2M80 552h2M84 552h1M87 552h1M90 552h2M93 552h1M79 553h4M84 553h1M86 553h1M90 553h2M93 553h1M80 554h3M87 554h1M90 554h2M79 556h1M84 556h1M86 556h1M89 556h1M92 556h1M96 556h1M83 557h1M88 557h1M92 557h1M95 557h1M82 558h1M85 558h2M88 558h2M93 558h1M84 559h1M96 559h1M106 484h1M111 484h1M114 484h1M105 485h1M109 485h1M113 485h2M104 486h1M106 486h1M110 486h1M112 486h2M112 487h1M115 487h1M111 488h1M113 488h1M101 534h1M113 535h1M102 536h1M104 536h1M107 536h1M101 537h1M106 537h1M109 538h2M116 538h1M104 539h1M106 539h1M112 539h1M116 539h1M111 540h1M117 540h1M100 541h1M104 541h2M112 541h1M115 541h1M102 542h1M105 542h1M108 542h1M110 542h1M113 542h1M101 543h2M104 543h1M109 543h1M114 543h2M100 544h1M105 544h1M107 544h2M110 544h2M114 544h1M116 544h2M100 545h1M103 545h1M109 545h2M112 545h2M116 545h2M101 546h5M107 546h1M110 546h3M115 546h1M100 547h2M103 547h2M107 547h2M110 547h3M116 547h1M102 548h1M114 548h2M100 549h2M105 549h1M111 549h1M113 549h2M117 549h1M101 550h1M103 550h5M115 550h1M117 550h1M102 551h1M105 551h1M110 551h2M114 551h1M116 551h1M102 552h4M107 552h2M110 552h2M113 552h2M101 553h1M103 553h3M107 553h1M111 553h1M113 553h2M104 554h1M108 554h2M101 555h1M103 555h3M109 555h1M117 555h1M100 556h1M103 556h1M107 556h2M110 556h1M112 556h1M101 557h1M115 557h2M109 558h1M100 559h2M104 559h1M115 559h2M128 473h1M125 474h2M134 474h1M139 474h1M121 475h1M126 475h1M128 475h2M139 475h1M122 476h1M124 476h2M127 476h1M132 476h2M138 476h2M121 477h1M124 477h1M127 477h1M129 477h1M131 477h1M135 477h3M122 478h1M136 478h1M130 536h2M124 537h1M128 537h1M136 537h1M130 538h1M138 538h1M124 539h1M131 539h1M134 539h2M121 540h1M131 540h1M134 540h1M137 540h1M122 541h1M129 541h1M131 541h1M136 541h1M139 541h1M132 542h1M121 543h1M125 543h1M127 543h2M130 543h1M135 543h2M139 543h1M124 544h1M132 544h1M134 544h1M137 544h3M123 545h1M126 545h5M134 545h2M138 545h2M121 546h2M125 546h2M129 546h1M135 546h2M125 547h1M130 547h1M132 547h1M134 547h1M136 547h1M138 547h1M122 548h1M124 548h1M128 548h2M137 548h2M125 549h1M128 549h2M134 549h5M121 550h5M131 550h1M135 550h4M123 551h1M129 551h1M132 551h1M135 551h2M139 551h1M125 552h2M128 552h1M133 552h1M135 552h1M139 552h1M121 553h1M123 553h1M127 553h3M131 553h1M133 553h1M139 553h1M122 554h1M126 554h1M128 554h1M132 554h4M137 554h1M123 555h2M130 555h3M135 555h2M138 555h1M123 556h1M126 556h1M129 556h1M134 556h3M138 556h1M121 557h1M125 557h2M128 557h1M131 557h2M136 557h1M138 557h1M121 558h1M125 558h1M129 558h1M132 558h2M135 558h1M123 559h1M130 559h1M132 559h1M135 559h1M138 559h1M150 497h2M158 497h1M148 498h1M154 498h1M152 499h2M156 499h1M147 500h2M151 500h1M154 500h4M159 500h1M143 501h6M150 501h1M160 501h1M143 502h1M145 502h1M152 502h1M154 502h1M156 502h1M158 503h1M150 555h1M160 555h1M143 556h1M150 556h1M146 557h1M160 558h1M149 559h1M157 559h1M168 494h1M174 495h1M180 495h1M166 496h1M173 496h1M175 496h1M181 496h1M167 497h1M170 497h3M179 497h2M164 498h2M168 498h1M172 498h2M177 498h2M180 498h1M170 499h1M174 499h1M168 541h1M177 542h1M170 543h1M172 544h1M171 545h1M177 545h1M172 546h1M177 546h1M164 547h1M173 547h1M180 547h1M166 548h1M168 548h1M170 549h1M173 549h1M175 549h1M177 549h4M165 550h1M168 550h1M171 550h4M176 550h2M179 550h2M164 551h2M168 551h1M171 551h2M175 551h1M179 551h1M166 552h1M170 552h2M173 552h1M176 552h2M166 553h2M171 553h1M175 553h1M177 553h1M179 553h2M164 554h2M167 554h2M174 554h1M178 554h1M180 554h2M164 555h3M168 555h1M171 555h1M173 555h3M177 555h1M179 555h3M167 556h1M169 556h2M164 557h2M167 557h1M169 557h1M172 557h1M174 557h2M177 557h1M165 558h1M174 558h3M178 558h1M181 558h1M170 559h1M172 559h2M176 559h1M178 559h2M181 559h1" stroke="#dedef9" stroke-width="1" fill="none" transform="translate(0 0.5)"/>
<path d="M32 463h1M21 464h1M15 465h1M17 465h2M22 465h2M17 466h2M20 466h1M24 466h1M27 466h2M32 466h1M28 467h1M16 506h1M17 507h1M19 507h1M29 507h1M32 507h1M25 508h2M21 509h1M17 510h1M24 510h2M27 510h1M30 510h1M15 511h1M18 511h1M21 511h1M28 511h2M32 511h1M21 512h1M24 512h3M31 512h1M18 513h1M20 513h2M25 513h2M19 514h1M22 514h2M26 514h3M30 514h1M32 514h1M15 515h1M24 515h1M26 515h1M18 516h1M23 516h2M26 516h1M28 516h1M30 516h2M18 517h1M20 517h1M23 517h1M28 517h2M17 518h1M24 518h2M28 518h2M15 519h1M23 519h1M24 520h1M16 522h1M30 522h1M16 523h1M23 523h1M15 524h1M17 524h1M26 524h1M32 524h1M15 525h1M17 525h1M26 525h1M29 526h1M28 527h1M17 528h1M28 529h1M26 538h1M17 550h1M51 477h1M36 478h4M41 478h2M47 478h1M52 478h1M36 479h2M39 479h1M42 479h1M44 479h2M47 479h1M51 479h1M42 480h1M51 480h1M45 529h1M41 530h1M47 530h1M51 530h1M39 531h1M49 531h1M40 532h2M48 532h1M50 532h1M39 533h1M44 533h2M38 534h1M46 534h1M50 534h1M52 534h1M39 535h1M50 535h1M53 535h1M42 536h1M45 536h1M47 536h3M53 536h1M37 537h2M44 537h1M46 537h1M48 537h1M50 537h1M36 538h1M43 538h4M50 538h3M37 539h2M40 539h2M45 539h1M47 539h1M49 539h3M36 540h1M38 540h1M41 540h1M43 540h3M48 540h1M50 540h4M36 541h1M38 541h1M41 541h1M44 541h1M47 541h2M37 542h2M43 542h1M46 542h2M50 542h2M39 543h1M41 543h2M44 543h1M46 543h2M49 543h1M48 544h1M50 544h1M42 546h1M46 546h1M51 546h1M73 472h1M68 473h1M74 473h1M59 474h2M63 474h2M69 474h1M71 474h1M58 511h1M64 511h1M59 512h2M59 513h1M67 513h1M70 514h2M74 514h1M60 515h1M62 515h1M64 515h4M74 515h1M63 516h2M68 516h1M70 516h4M61 517h1M63 517h1M71 517h1M66 518h2M70 518h3M74 518h1M62 519h3M66 519h1M71 519h1M58 520h1M60 520h1M65 520h2M68 520h1M71 520h1M74 520h1M59 521h1M69 521h1M74 521h1M59 522h1M61 522h1M63 522h1M66 522h1M68 522h1M74 522h1M62 523h1M68 523h1M70 523h1M61 524h1M65 524h1M70 524h2M60 525h2M63 525h1M65 525h1M67 525h1M70 525h1M73 525h1M65 526h1M70 526h1M67 527h2M70 527h1M73 527h1M62 528h1M67 528h1M58 529h1M70 529h1M62 530h1M66 530h1M65 531h1M63 532h1M73 535h1M69 544h1M86 485h1M83 486h1M85 486h2M90 486h1M82 487h1M88 487h2M91 487h1M81 488h1M87 488h1M90 488h3M94 488h1M96 488h1M95 532h1M89 533h1M89 534h1M84 535h1M86 535h1M89 535h2M93 535h2M79 536h1M82 536h1M87 536h1M89 536h1M91 536h2M94 536h1M82 537h1M85 537h1M87 537h1M89 537h1M92 537h1M94 537h1M89 538h1M91 538h1M93 538h4M83 539h1M86 539h1M89 539h1M95 539h2M79 540h1M82 540h3M86 540h1M91 540h1M96 540h1M80 541h1M82 541h3M88 541h2M92 541h1M94 541h1M80 542h2M83 542h2M86 542h3M91 542h1M81 543h1M84 543h1M86 543h2M89 543h1M92 543h1M95 543h1M80 544h1M92 544h1M96 544h1M95 545h1M81 546h1M88 547h1M80 548h1M83 548h1M87 548h2M81 549h2M84 549h2M93 550h1M85 551h1M85 552h1M96 552h1M88 553h1M92 554h1M84 555h1M90 556h1M95 558h1M103 486h1M100 487h1M102 487h3M107 487h1M117 487h1M103 488h1M105 488h3M109 488h1M114 488h2M117 488h1M108 529h1M103 532h1M112 532h1M101 533h1M103 533h1M106 533h1M109 533h1M105 534h1M109 534h1M111 534h1M100 535h1M109 535h1M115 535h1M117 535h1M103 536h1M105 536h1M104 537h1M107 537h1M113 537h1M106 538h1M111 538h1M115 538h1M102 539h1M105 539h1M108 539h3M114 539h1M117 539h1M100 540h2M106 540h3M110 540h1M112 540h1M114 540h3M102 541h1M107 541h5M114 541h1M116 541h1M104 542h1M109 542h1M111 542h1M115 542h1M100 543h1M106 543h3M110 543h4M117 543h1M103 544h1M109 544h1M112 544h2M115 544h1M105 545h2M108 545h1M114 545h1M108 546h2M113 546h1M109 547h1M113 547h2M105 548h2M117 548h1M102 549h2M108 549h2M116 549h1M109 550h1M111 550h1M107 551h1M109 551h1M116 552h1M100 553h1M112 553h1M100 554h1M132 475h1M130 476h1M135 476h2M122 477h2M126 477h1M134 477h1M138 477h2M121 478h1M125 478h1M135 478h1M123 533h1M132 533h1M139 533h1M137 534h1M128 535h1M132 535h1M134 535h1M122 536h2M126 536h1M133 536h1M139 536h1M122 537h1M127 537h1M130 537h1M132 537h2M121 538h1M123 538h1M125 538h1M129 538h1M132 538h3M137 538h1M139 538h1M122 539h1M127 539h1M130 539h1M133 539h1M136 539h1M124 540h1M126 540h2M129 540h1M132 540h1M138 540h1M123 541h2M130 541h1M132 541h2M135 541h1M121 542h2M124 542h1M127 542h3M133 542h1M137 542h1M139 542h1M122 543h2M132 543h2M138 543h1M122 544h1M125 544h3M129 544h1M131 544h1M135 544h2M121 545h1M125 545h1M131 545h3M128 546h1M130 546h1M137 546h1M139 546h1M121 547h1M126 547h1M129 547h1M131 547h1M133 547h1M137 547h1M139 547h1M133 548h1M135 548h1M139 548h1M124 549h1M130 549h1M132 549h1M126 550h1M128 550h1M132 550h3M121 551h2M133 551h1M123 552h2M130 552h2M134 552h1M124 553h1M134 553h1M123 554h1M139 554h1M122 555h1M129 555h1M127 556h1M132 556h1M139 556h1M130 557h1M147 499h1M150 500h1M149 501h1M152 501h1M154 501h1M157 501h1M146 502h1M148 502h3M155 502h1M157 502h1M149 503h1M151 503h1M159 548h1M155 549h1M157 549h1M160 549h1M150 550h1M144 551h1M156 551h1M156 552h1M158 552h1M150 553h1M156 553h1M145 554h1M150 554h1M152 554h2M144 555h1M154 555h1M157 555h1M144 556h1M152 556h1M157 556h1M147 557h1M150 557h1M153 557h1M156 557h1M145 558h1M159 558h1M148 559h1M150 559h1M152 559h1M154 559h1M158 559h1M164 497h2M174 497h1M176 497h2M166 498h2M169 498h1M171 498h1M174 498h3M164 499h1M173 499h1M177 537h1M169 540h1M178 541h1M164 542h1M173 542h1M164 543h2M168 543h1M167 544h2M170 544h1M175 544h2M167 545h1M175 545h1M179 545h3M164 546h1M167 546h1M170 546h2M175 546h2M179 546h2M165 547h2M168 547h2M172 547h1M174 547h1M176 547h3M181 547h1M164 548h2M167 548h1M169 548h1M173 548h1M177 548h1M179 548h2M169 549h1M171 549h2M174 549h1M181 549h1M166 550h2M181 550h1M166 551h1M169 551h1M173 551h1M180 551h2M164 552h1M167 552h1M172 552h1M174 552h2M178 552h1M180 552h2M164 553h1M168 553h1M172 553h1M174 553h1M176 553h1M181 553h1M169 554h2M177 554h1M172 555h1M171 556h1M175 556h1M177 556h1M179 556h1M168 557h1M179 557h1M167 558h1M169 558h1M169 559h1M171 559h1M174 559h1" stroke="#bcbcf5" stroke-width="1" fill="none" transform="translate(0 0.5)"/>
<path d="M30 465h1M23 466h1M15 467h2M19 467h3M24 467h1M26 467h1M32 467h1M15 506h1M21 506h2M27 506h1M29 506h1M16 507h1M20 507h1M22 507h1M31 507h1M16 508h1M29 508h2M15 509h1M18 509h1M20 509h1M24 509h1M30 509h2M18 510h2M21 510h1M23 510h1M29 510h1M31 510h1M16 511h2M25 511h3M17 512h3M22 512h1M27 512h1M32 512h1M16 513h2M27 513h1M31 513h1M17 514h1M21 514h1M24 514h1M17 515h1M20 515h1M23 515h1M19 519h1M40 479h2M36 480h1M38 480h1M40 480h2M46 480h1M49 480h1M53 480h1M45 481h1M51 481h1M40 528h1M48 528h1M50 528h1M52 528h1M42 529h2M51 529h1M38 530h2M42 530h1M44 530h2M48 530h2M36 531h3M44 531h1M47 531h1M51 531h1M37 532h3M45 532h1M40 533h1M42 533h1M46 533h5M39 534h1M43 534h3M53 534h1M40 535h1M43 535h4M48 535h1M52 535h1M36 536h3M41 536h1M43 536h1M46 536h1M36 537h1M39 537h2M42 537h1M49 537h1M51 537h1M39 538h1M36 539h1M42 539h1M42 540h1M49 540h1M46 541h1M44 542h2M48 542h1M44 544h1M58 474h1M62 474h1M68 474h1M73 474h1M60 475h1M69 475h1M69 509h1M58 510h2M61 510h1M65 510h1M60 511h1M72 511h2M58 512h1M64 512h2M67 512h1M71 512h1M73 512h2M58 513h1M60 513h5M66 513h1M68 513h1M70 513h4M58 514h1M65 514h1M67 514h2M58 515h2M68 515h1M72 515h2M59 516h1M61 516h2M65 516h2M69 516h1M59 517h1M68 517h2M72 517h1M74 517h1M68 518h1M58 519h1M58 522h1M81 487h1M85 487h2M93 487h2M79 488h2M82 488h3M86 488h1M90 489h1M79 532h1M85 532h1M87 532h1M81 533h1M83 533h1M86 533h1M91 533h1M94 533h1M79 534h1M84 534h2M94 534h2M80 535h1M82 535h1M85 535h1M91 535h1M80 536h2M83 536h1M85 536h2M90 536h1M93 536h1M96 536h1M84 537h1M86 537h1M88 537h1M90 537h1M95 537h1M84 538h4M92 538h1M79 539h3M84 539h1M91 539h4M85 540h1M95 540h1M79 541h1M90 541h2M93 541h1M96 541h1M82 542h1M92 542h1M80 543h1M85 543h1M91 543h1M81 544h1M84 545h1M89 547h1M104 488h1M110 488h1M116 488h1M103 489h1M105 489h3M112 489h1M114 489h1M116 489h1M110 530h1M104 531h1M111 531h1M100 532h1M102 532h1M108 532h1M110 532h2M113 532h1M100 533h1M107 533h1M110 533h1M112 533h2M115 533h1M117 533h1M100 534h1M103 534h1M106 534h1M108 534h1M110 534h1M112 534h1M102 535h3M114 535h1M116 535h1M106 536h1M108 536h1M113 536h1M117 536h1M102 537h2M109 537h2M114 537h1M116 537h2M103 538h2M108 538h1M113 538h2M101 539h1M103 539h1M107 539h1M113 539h1M115 539h1M102 540h1M104 540h2M109 540h1M113 540h1M103 541h1M106 541h1M113 541h1M117 541h1M101 542h1M103 542h1M106 542h2M101 544h1M115 545h1M100 546h1M132 477h1M123 478h1M130 478h1M133 478h2M138 478h2M124 531h1M126 531h2M138 531h1M127 532h1M129 532h1M131 532h1M134 532h1M131 533h1M122 534h1M132 534h2M138 534h1M121 535h2M130 535h1M137 535h1M139 535h1M124 536h2M128 536h1M132 536h1M134 536h1M126 537h1M129 537h1M131 537h1M137 537h3M124 538h1M126 538h1M136 538h1M121 539h1M125 539h1M129 539h1M132 539h1M137 539h1M123 540h1M125 540h1M130 540h1M133 540h1M135 540h1M139 540h1M121 541h1M126 541h1M128 541h1M134 541h1M137 541h2M125 542h1M130 542h2M134 542h1M136 542h1M138 542h1M124 543h1M129 543h1M131 543h1M134 543h1M137 543h1M130 544h1M133 544h1M122 545h1M124 545h1M123 546h1M132 546h2M151 501h1M156 501h1M144 502h1M147 502h1M151 502h1M153 502h1M158 502h2M143 503h2M146 503h1M148 503h1M155 503h1M145 548h1M151 548h1M160 548h1M151 549h1M145 550h1M149 550h1M151 550h2M159 550h2M147 551h1M149 551h1M153 551h3M158 551h1M160 551h1M148 552h1M150 552h1M152 552h2M157 552h1M160 552h1M143 553h1M147 553h1M152 553h2M155 553h1M159 553h1M144 554h1M146 554h4M158 554h1M160 554h1M143 555h1M153 555h1M156 555h1M148 556h2M155 556h1M144 557h2M158 557h1M143 558h2M146 558h2M149 558h2M152 558h1M155 558h2M158 558h1M143 559h1M151 559h1M170 498h1M179 498h1M181 498h1M165 499h2M169 499h1M176 499h1M179 499h2M169 538h1M164 539h4M177 539h1M179 539h2M164 540h1M170 540h1M173 540h3M165 541h1M174 541h2M168 542h4M174 542h1M176 542h1M178 542h2M166 543h2M174 543h1M177 543h2M180 543h2M178 544h1M181 544h1M165 545h2M168 545h1M170 545h1M172 545h1M176 545h1M178 545h1M168 546h1M174 546h1M178 546h1M171 547h1M175 547h1M179 547h1M175 548h2M178 548h1M181 548h1M167 549h2M176 549h1M169 550h1M175 550h1M170 551h1M167 555h1" stroke="#9494f0" stroke-width="1" fill="none" transform="translate(0 0.5)"/>
<path d="M25 466h1M17 467h2M22 467h2M25 467h1M29 467h2M21 468h1M29 468h1M17 503h1M16 504h1M22 504h1M15 505h1M18 505h1M30 505h2M18 506h3M28 506h1M31 506h2M15 507h1M21 507h1M23 507h1M25 507h3M30 507h1M15 508h1M17 508h1M20 508h1M24 508h1M27 508h1M31 508h1M23 509h1M26 509h2M15 510h2M20 510h1M28 510h1M19 511h1M22 511h1M30 511h1M16 512h1M29 512h1M19 513h1M19 517h1M48 479h1M37 480h1M43 480h2M48 480h1M50 480h1M40 481h1M46 481h1M43 525h1M38 526h1M41 526h1M53 526h1M46 527h1M49 527h1M51 527h1M37 528h2M42 528h2M53 528h1M37 529h4M46 529h1M48 529h3M52 529h2M43 530h1M46 530h1M50 530h1M53 530h1M41 531h2M45 531h2M50 531h1M52 531h1M36 532h1M42 532h2M46 532h2M51 532h1M36 533h3M43 533h1M53 533h1M40 534h3M47 534h3M51 534h1M38 535h1M42 535h1M47 535h1M51 535h1M52 536h1M47 537h1M47 538h1M72 474h1M59 475h1M68 475h1M60 508h1M64 508h1M70 508h1M73 508h1M59 509h4M73 509h1M60 510h1M73 510h1M59 511h1M65 511h3M61 512h1M69 512h2M72 512h1M69 513h1M74 513h1M62 514h3M66 514h1M72 514h1M70 515h1M63 518h1M84 487h1M85 488h1M89 488h1M79 489h1M85 489h1M93 489h1M79 530h1M79 531h1M82 531h3M89 531h1M91 531h3M80 532h1M82 532h1M84 532h1M89 532h5M84 533h2M87 533h2M92 533h1M95 533h1M81 534h3M87 534h2M90 534h1M93 534h1M96 534h1M87 535h2M95 535h1M84 536h1M95 536h1M81 537h1M83 537h1M91 537h1M81 538h2M88 539h1M95 541h1M79 542h1M101 488h1M100 489h1M104 489h1M110 489h1M113 489h1M117 489h1M101 490h1M105 490h1M107 490h1M117 490h1M117 529h1M100 530h1M102 530h1M104 530h1M107 530h3M111 530h1M114 530h1M100 531h1M105 531h1M108 531h1M112 531h1M116 531h1M104 532h1M106 532h2M109 532h1M115 532h2M102 533h1M104 533h1M111 533h1M116 533h1M102 534h1M107 534h1M114 534h1M116 534h2M101 535h1M106 535h3M110 535h2M100 536h1M109 536h2M112 536h1M115 536h1M105 537h1M108 537h1M111 537h2M101 538h2M105 538h1M107 538h1M112 538h1M124 478h1M126 478h2M129 478h1M137 478h1M128 479h2M131 528h1M127 529h1M125 530h1M129 530h1M131 530h1M134 530h1M138 530h1M122 531h1M128 531h1M130 531h6M139 531h1M122 532h5M128 532h1M136 532h1M138 532h2M121 533h1M125 533h3M133 533h3M123 534h1M125 534h3M129 534h1M135 534h1M139 534h1M123 535h1M127 535h1M129 535h1M135 535h2M138 535h1M121 536h1M127 536h1M129 536h1M135 536h2M138 536h1M121 537h1M123 537h1M125 537h1M134 537h1M128 538h1M135 538h1M139 539h1M122 540h1M128 540h1M127 541h1M126 542h1M121 544h1M128 544h1M150 503h1M146 546h1M145 547h1M148 547h1M153 547h1M157 547h1M159 547h2M143 548h1M148 548h1M150 548h1M156 548h2M143 549h2M152 549h2M144 550h1M154 550h2M157 550h2M143 551h1M146 551h1M151 551h1M157 551h1M159 551h1M145 552h3M151 552h1M154 552h1M159 552h1M144 553h3M148 553h2M151 553h1M154 553h1M143 554h1M155 554h1M157 554h1M145 555h1M147 555h1M149 555h1M151 555h1M146 556h1M151 556h1M153 556h1M159 556h1M148 557h2M151 557h1M154 557h2M159 557h2M153 558h1M157 558h1M144 559h2M147 559h1M153 559h1M155 559h2M159 559h2M172 499h1M175 499h1M177 499h2M181 499h1M165 535h1M177 535h3M169 536h1M175 536h2M164 537h5M170 537h1M174 537h1M180 537h1M164 538h1M166 538h1M170 538h1M174 538h2M179 538h3M171 539h2M174 539h3M166 540h3M171 540h2M176 540h1M179 540h1M166 541h1M170 541h1M172 541h1M166 542h1M175 542h1M181 542h1M169 543h1M171 543h1M175 543h2M179 543h1M165 544h2M169 544h1M171 544h1M174 544h1M179 544h2M174 545h1M165 546h2M169 546h1M173 546h1M174 548h1M178 550h1" stroke="#6464ec" stroke-width="1" fill="none" transform="translate(0 0.5)"/>
<path d="M31 467h1M18 468h3M22 468h1M24 468h1M26 468h3M30 468h2M29 470h1M21 472h1M15 475h1M17 475h1M23 476h1M20 477h1M19 478h1M19 480h1M18 481h1M18 483h1M30 484h1M16 485h1M26 485h1M27 487h1M23 489h1M26 490h1M28 490h1M26 493h1M32 493h1M28 495h1M18 496h1M24 496h1M22 498h1M27 502h1M22 503h1M24 503h1M28 503h1M30 503h2M15 504h1M17 504h2M23 504h1M27 504h1M30 504h2M19 505h4M24 505h2M27 505h2M32 505h1M17 506h1M23 506h1M25 506h2M30 506h1M18 507h1M24 507h1M28 507h1M18 508h1M22 508h2M28 508h1M16 509h1M29 509h1M22 510h1M20 511h1M31 511h1M20 512h1M47 480h1M36 481h4M41 481h4M49 481h2M52 481h2M44 482h1M45 483h1M44 484h1M50 484h1M36 485h1M50 485h1M52 485h1M36 488h1M44 490h1M37 491h1M49 491h1M42 493h1M47 497h1M52 500h1M36 501h1M41 502h1M45 502h1M37 503h1M49 503h1M45 504h1M44 509h1M47 509h1M50 511h1M36 512h1M38 512h1M47 514h1M44 515h1M42 519h1M41 520h1M40 522h1M52 522h1M37 524h1M41 524h2M50 524h1M38 525h1M48 525h3M52 525h1M39 526h1M42 526h2M47 526h3M51 526h1M37 527h1M39 527h1M42 527h4M47 527h2M50 527h1M53 527h1M39 528h1M41 528h1M44 528h2M47 528h1M51 528h1M44 529h1M47 529h1M36 530h2M40 530h1M52 530h1M40 531h1M43 531h1M48 531h1M53 531h1M49 532h1M52 532h1M36 534h1M44 536h1M45 537h1M58 475h1M61 475h1M64 475h3M71 475h1M73 475h1M65 476h1M60 477h1M62 477h1M70 477h1M62 481h1M72 481h1M69 482h1M68 485h1M61 487h1M59 488h1M74 489h1M73 490h1M68 491h1M74 492h1M70 495h1M58 496h1M66 497h1M69 498h2M73 499h1M74 500h1M62 501h1M65 501h1M70 502h1M58 505h1M65 505h1M58 506h1M61 506h1M66 506h2M58 507h1M72 507h1M61 508h3M65 508h1M68 508h2M74 508h1M58 509h1M63 509h5M71 509h2M74 509h1M62 510h1M66 510h6M74 510h1M63 511h1M68 511h2M62 512h2M68 512h1M65 513h1M73 514h1M65 517h1M81 489h3M86 489h2M89 489h1M95 489h1M87 491h1M84 492h2M89 492h1M94 492h1M82 494h1M93 494h1M80 496h1M87 498h1M95 498h1M84 499h1M83 500h1M82 502h1M85 504h1M85 507h1M82 508h1M85 508h1M95 508h1M94 509h1M80 511h1M90 514h1M83 517h1M96 518h1M83 521h1M81 522h1M85 523h1M89 523h1M96 524h1M85 526h1M79 529h3M83 529h1M87 529h1M91 529h1M95 529h2M80 530h2M87 530h2M90 530h3M94 530h1M96 530h1M80 531h2M86 531h3M90 531h1M94 531h2M81 532h1M83 532h1M88 532h1M94 532h1M79 533h1M93 533h1M80 534h1M86 534h1M91 534h2M79 535h1M81 535h1M83 535h1M96 535h1M88 536h1M93 537h1M80 538h1M108 489h2M115 489h1M104 490h1M106 490h1M108 490h2M111 490h1M115 490h1M115 491h1M107 493h1M102 494h1M115 496h1M106 498h1M112 500h1M100 502h2M107 504h1M111 506h1M116 507h1M102 508h2M115 508h1M107 511h1M111 511h1M101 516h1M106 516h1M111 516h1M105 517h1M113 517h1M115 519h1M106 523h1M116 524h1M112 526h1M102 527h1M107 527h2M102 528h3M107 528h2M115 528h2M101 529h5M112 529h1M114 529h2M101 530h1M103 530h1M105 530h2M112 530h1M115 530h1M101 531h1M103 531h1M106 531h1M114 531h2M117 531h1M105 533h1M104 534h1M115 534h1M111 536h1M114 536h1M116 536h1M117 538h1M100 539h1M132 478h1M121 479h1M124 479h3M131 479h1M135 479h1M137 479h1M139 479h1M126 480h1M128 483h1M130 483h1M126 486h1M136 490h1M125 491h1M136 491h1M129 492h1M127 493h1M122 494h1M133 494h1M126 495h1M135 495h1M124 497h1M137 497h1M126 499h1M127 502h1M121 503h1M129 505h1M137 505h2M128 506h1M130 506h1M127 508h1M123 511h1M126 511h1M138 511h1M129 513h1M136 513h1M137 516h1M127 518h1M133 521h1M125 523h1M137 523h1M126 526h1M123 527h1M121 528h1M127 528h1M134 528h1M121 529h2M125 529h1M128 529h1M130 529h1M132 529h2M135 529h2M138 529h1M124 530h1M126 530h1M128 530h1M133 530h1M139 530h1M121 531h1M129 531h1M136 531h2M130 532h1M132 532h2M135 532h1M122 533h1M124 533h1M128 533h2M136 533h1M138 533h1M121 534h1M124 534h1M128 534h1M134 534h1M136 534h1M124 535h1M126 535h1M131 535h1M133 535h1M137 536h1M135 537h1M122 538h1M131 538h1M126 539h1M145 503h1M147 503h1M152 503h3M157 503h1M143 504h1M145 504h2M149 504h1M151 504h1M159 504h1M149 509h1M151 509h1M153 509h1M145 511h1M150 512h1M156 512h1M144 515h1M154 516h1M151 517h1M147 518h1M160 518h1M146 521h1M149 522h1M152 523h1M150 526h1M145 529h1M150 529h1M147 530h1M151 530h1M153 530h1M148 531h1M160 531h1M143 533h1M150 533h1M151 534h1M145 535h1M153 535h1M143 538h1M152 538h1M149 540h1M158 540h1M153 541h2M147 543h1M148 544h2M152 544h2M156 544h3M144 545h2M152 545h1M156 545h4M148 546h4M156 546h1M158 546h2M143 547h2M147 547h1M149 547h1M154 547h1M158 547h1M144 548h1M146 548h2M149 548h1M152 548h1M154 548h2M158 548h1M147 549h3M154 549h1M156 549h1M158 549h2M143 550h1M146 550h1M148 550h1M153 550h1M156 550h1M148 551h1M150 551h1M143 552h1M155 552h1M157 553h1M160 553h1M151 554h1M154 554h1M156 554h1M159 554h1M158 555h1M147 556h1M154 556h1M158 556h1M160 556h1M152 557h1M157 557h1M148 558h1M151 558h1M154 558h1M146 559h1M168 499h1M171 499h1M165 500h1M171 504h1M173 505h1M175 506h1M164 512h1M166 512h1M166 517h1M172 518h1M169 520h1M165 521h1M181 521h1M166 522h1M175 522h1M181 522h1M168 523h2M171 525h1M177 525h1M174 526h1M174 529h2M176 530h1M164 532h1M169 532h1M176 532h1M168 533h1M170 533h1M166 534h1M169 534h1M171 534h1M173 534h1M177 534h2M170 535h1M173 535h4M180 535h1M164 536h2M171 536h2M177 536h1M181 536h1M169 537h1M171 537h3M175 537h2M178 537h2M181 537h1M165 538h1M167 538h2M171 538h3M176 538h3M168 539h3M173 539h1M181 539h1M165 540h1M177 540h2M181 540h1M164 541h1M167 541h1M169 541h1M171 541h1M173 541h1M176 541h2M179 541h3M165 542h1M167 542h1M172 542h1M180 542h1M172 543h1M164 544h1M173 544h1M164 545h1M169 545h1M173 545h1" stroke="#3a3ae6" stroke-width="1" fill="none" transform="translate(0 0.5)"/>
<path d="M15 468h3M23 468h1M25 468h1M32 468h1M15 469h4M20 469h3M24 469h3M28 469h3M32 469h1M16 470h7M24 470h2M27 470h2M30 470h3M16 471h3M20 471h3M24 471h1M26 471h2M29 471h1M32 471h1M15 472h1M17 472h2M20 472h1M22 472h6M29 472h4M15 473h8M24 473h2M27 473h6M15 474h1M17 474h4M22 474h11M16 475h1M18 475h7M26 475h4M31 475h2M15 476h2M18 476h1M21 476h1M25 476h8M17 477h1M19 477h1M22 477h6M29 477h4M15 478h1M17 478h2M20 478h2M23 478h5M29 478h4M15 479h11M28 479h5M15 480h4M21 480h1M23 480h10M15 481h3M19 481h1M21 481h1M24 481h3M28 481h2M32 481h1M16 482h4M22 482h1M26 482h1M29 482h4M16 483h2M19 483h6M28 483h3M32 483h1M16 484h1M18 484h1M21 484h7M31 484h2M15 485h1M17 485h2M21 485h4M27 485h6M15 486h2M18 486h4M23 486h4M28 486h5M16 487h2M20 487h2M23 487h3M28 487h1M30 487h1M15 488h4M21 488h8M31 488h2M15 489h7M24 489h1M28 489h2M32 489h1M16 490h1M18 490h7M30 490h1M32 490h1M16 491h6M23 491h3M27 491h3M31 491h2M15 492h10M26 492h7M15 493h2M18 493h2M21 493h5M28 493h2M15 494h2M19 494h3M25 494h3M29 494h1M31 494h2M16 495h2M20 495h3M26 495h2M29 495h3M15 496h3M19 496h5M26 496h1M28 496h2M31 496h1M15 497h8M24 497h2M28 497h5M15 498h4M20 498h2M25 498h3M29 498h2M32 498h1M15 499h3M19 499h3M23 499h10M15 500h3M19 500h4M24 500h5M30 500h3M15 501h10M26 501h3M30 501h3M15 502h12M28 502h5M15 503h2M18 503h4M23 503h1M25 503h3M29 503h1M32 503h1M19 504h3M24 504h3M28 504h2M16 505h2M23 505h1M26 505h1M24 506h1M21 508h1M17 509h1M19 509h1M25 509h1M47 481h2M36 482h3M40 482h1M43 482h1M45 482h4M50 482h2M53 482h1M37 483h1M39 483h6M46 483h8M39 484h5M45 484h2M48 484h2M51 484h3M38 485h1M41 485h9M51 485h1M53 485h1M36 486h2M39 486h3M43 486h1M45 486h3M49 486h1M37 487h1M39 487h1M41 487h2M46 487h6M53 487h1M38 488h2M42 488h8M52 488h2M36 489h4M41 489h9M51 489h3M36 490h2M39 490h2M42 490h2M45 490h2M48 490h3M52 490h2M36 491h1M39 491h3M45 491h1M48 491h1M51 491h1M53 491h1M36 492h10M47 492h1M49 492h2M52 492h2M36 493h1M38 493h4M43 493h4M49 493h2M52 493h2M36 494h3M41 494h1M43 494h1M45 494h4M38 495h8M47 495h2M51 495h3M36 496h3M40 496h2M43 496h1M45 496h3M50 496h2M36 497h2M39 497h1M41 497h5M48 497h1M50 497h1M52 497h2M36 498h4M41 498h4M46 498h1M49 498h4M37 499h15M53 499h1M36 500h2M39 500h11M51 500h1M53 500h1M37 501h1M39 501h4M44 501h4M49 501h4M37 502h4M42 502h3M46 502h8M36 503h1M38 503h9M48 503h1M50 503h1M53 503h1M37 504h6M44 504h1M47 504h1M49 504h2M52 504h2M36 505h1M38 505h2M41 505h4M46 505h1M48 505h1M50 505h4M36 506h5M42 506h2M45 506h6M52 506h1M36 507h10M47 507h1M49 507h1M51 507h2M36 508h5M42 508h1M44 508h7M52 508h2M36 509h8M46 509h1M48 509h6M36 510h1M38 510h1M40 510h6M48 510h5M36 511h3M40 511h4M45 511h5M51 511h3M37 512h1M39 512h3M43 512h5M49 512h2M52 512h2M36 513h9M46 513h2M50 513h1M52 513h2M36 514h11M48 514h2M51 514h2M36 515h8M45 515h8M36 516h8M47 516h7M36 517h2M39 517h9M49 517h1M52 517h2M36 518h3M40 518h1M42 518h2M45 518h9M36 519h2M40 519h2M43 519h8M52 519h1M36 520h5M43 520h1M45 520h1M47 520h7M36 521h2M39 521h10M51 521h3M38 522h2M41 522h8M37 523h3M42 523h4M47 523h2M50 523h1M52 523h2M36 524h1M38 524h3M43 524h2M46 524h4M51 524h3M36 525h2M39 525h4M44 525h3M51 525h1M53 525h1M36 526h2M40 526h1M44 526h3M50 526h1M52 526h1M36 527h1M38 527h1M40 527h2M52 527h1M36 528h1M46 528h1M49 528h1M36 529h1M41 529h1M63 475h1M67 475h1M70 475h1M72 475h1M74 475h1M58 476h1M61 476h1M63 476h2M67 476h1M69 476h4M74 476h1M58 477h1M63 477h1M66 477h2M71 477h2M74 477h1M59 478h1M62 478h8M71 478h1M73 478h1M58 479h1M61 479h1M63 479h3M67 479h2M71 479h4M58 480h2M62 480h1M64 480h5M70 480h5M58 481h1M61 481h1M64 481h2M67 481h1M69 481h3M73 481h2M58 482h2M61 482h2M67 482h2M70 482h3M74 482h1M58 483h11M71 483h1M74 483h1M58 484h1M61 484h1M63 484h12M59 485h3M63 485h1M65 485h3M69 485h1M71 485h4M58 486h2M61 486h7M69 486h2M72 486h2M60 487h1M63 487h2M67 487h6M74 487h1M58 488h1M60 488h2M63 488h1M65 488h1M67 488h2M71 488h1M73 488h2M58 489h9M68 489h6M58 490h13M72 490h1M74 490h1M58 491h1M60 491h1M63 491h2M66 491h2M69 491h4M74 491h1M59 492h1M63 492h5M69 492h2M72 492h2M58 493h4M64 493h1M66 493h2M69 493h4M74 493h1M58 494h7M67 494h7M59 495h1M61 495h5M67 495h3M72 495h3M59 496h5M65 496h3M69 496h6M58 497h2M61 497h1M63 497h3M67 497h2M70 497h2M73 497h2M58 498h1M60 498h8M71 498h2M58 499h1M60 499h4M65 499h1M67 499h1M69 499h1M71 499h2M74 499h1M58 500h3M62 500h3M67 500h4M72 500h2M58 501h4M63 501h1M67 501h4M72 501h2M58 502h10M69 502h1M71 502h4M59 503h2M64 503h5M70 503h1M72 503h1M74 503h1M58 504h10M69 504h3M73 504h2M59 505h1M61 505h1M63 505h2M66 505h3M72 505h3M59 506h2M63 506h3M68 506h1M70 506h1M72 506h3M59 507h13M74 507h1M58 508h2M66 508h2M71 508h2M68 509h1M70 509h1M63 510h1M72 510h1M61 511h2M71 511h1M74 511h1M66 512h1M80 489h1M84 489h1M91 489h1M96 489h1M79 490h2M82 490h6M89 490h4M94 490h1M96 490h1M79 491h3M83 491h3M88 491h4M93 491h3M80 492h1M82 492h2M86 492h3M91 492h1M93 492h1M95 492h1M79 493h1M81 493h2M84 493h2M87 493h1M89 493h5M96 493h1M79 494h3M83 494h2M86 494h1M88 494h2M91 494h2M95 494h2M79 495h1M81 495h1M83 495h1M85 495h2M89 495h5M95 495h1M79 496h1M81 496h1M83 496h1M85 496h5M91 496h6M79 497h6M86 497h1M88 497h5M94 497h2M79 498h2M83 498h4M88 498h4M93 498h2M96 498h1M82 499h2M85 499h5M92 499h2M95 499h2M79 500h2M82 500h1M84 500h1M86 500h4M91 500h6M79 501h6M86 501h5M92 501h4M80 502h2M83 502h6M90 502h2M93 502h1M96 502h1M79 503h3M84 503h1M86 503h1M88 503h2M92 503h1M94 503h3M79 504h1M81 504h4M86 504h2M89 504h4M94 504h1M96 504h1M79 505h10M90 505h5M96 505h1M79 506h1M81 506h1M87 506h5M94 506h3M79 507h5M86 507h1M88 507h4M96 507h1M79 508h3M83 508h2M86 508h1M89 508h6M96 508h1M79 509h1M81 509h10M95 509h2M79 510h4M84 510h2M87 510h2M91 510h3M95 510h2M79 511h1M81 511h4M86 511h11M82 512h2M85 512h2M88 512h9M79 513h4M84 513h4M89 513h2M92 513h3M96 513h1M79 514h1M81 514h3M85 514h3M89 514h1M91 514h1M93 514h4M82 515h2M85 515h1M87 515h4M92 515h2M95 515h2M80 516h17M79 517h4M84 517h1M89 517h3M93 517h3M79 518h3M83 518h2M87 518h3M91 518h2M94 518h2M79 519h2M83 519h5M89 519h5M95 519h2M80 520h1M83 520h3M87 520h6M94 520h1M96 520h1M79 521h4M84 521h1M87 521h10M80 522h1M84 522h2M87 522h7M95 522h1M79 523h5M86 523h3M91 523h4M79 524h1M82 524h3M86 524h1M88 524h8M79 525h8M92 525h1M94 525h3M79 526h3M83 526h1M86 526h1M88 526h9M79 527h1M81 527h5M87 527h1M91 527h1M93 527h4M80 528h15M96 528h1M82 529h1M84 529h3M88 529h3M92 529h3M82 530h1M84 530h3M93 530h1M95 530h1M85 531h1M96 531h1M86 532h1M96 532h1M80 533h1M90 533h1M96 533h1M102 489h1M111 489h1M100 490h1M103 490h1M110 490h1M112 490h2M116 490h1M100 491h2M103 491h1M105 491h1M107 491h4M112 491h3M116 491h2M101 492h1M103 492h1M105 492h10M116 492h2M101 493h5M109 493h4M114 493h1M103 494h4M108 494h7M116 494h1M100 495h6M107 495h2M110 495h7M100 496h6M107 496h1M109 496h3M114 496h1M116 496h2M100 497h1M102 497h6M109 497h3M114 497h4M100 498h1M102 498h1M104 498h2M107 498h3M111 498h6M101 499h1M103 499h9M114 499h1M116 499h2M100 500h1M103 500h7M111 500h1M113 500h1M115 500h3M100 501h1M102 501h3M106 501h3M110 501h3M114 501h4M103 502h2M106 502h1M109 502h4M115 502h1M117 502h1M100 503h8M110 503h8M100 504h1M102 504h5M109 504h1M111 504h1M114 504h4M100 505h1M102 505h12M115 505h3M100 506h2M107 506h4M113 506h5M100 507h2M103 507h3M107 507h1M109 507h4M114 507h2M117 507h1M104 508h2M110 508h3M116 508h2M101 509h3M105 509h3M109 509h9M100 510h1M102 510h4M107 510h5M113 510h5M100 511h1M102 511h1M105 511h2M108 511h2M112 511h2M115 511h2M100 512h2M103 512h3M107 512h3M111 512h2M117 512h1M100 513h5M106 513h1M109 513h2M112 513h6M100 514h1M102 514h2M105 514h1M107 514h1M109 514h3M113 514h1M115 514h1M117 514h1M100 515h2M103 515h5M110 515h3M114 515h4M102 516h2M105 516h1M107 516h4M112 516h2M115 516h3M100 517h1M102 517h2M108 517h5M114 517h2M117 517h1M101 518h3M105 518h1M107 518h6M114 518h2M117 518h1M100 519h4M105 519h10M117 519h1M100 520h10M111 520h6M102 521h5M109 521h8M100 522h5M106 522h12M100 523h6M107 523h2M110 523h4M116 523h2M100 524h7M108 524h2M111 524h1M117 524h1M100 525h12M113 525h5M100 526h2M103 526h3M107 526h5M113 526h2M116 526h2M100 527h2M103 527h4M109 527h9M100 528h2M105 528h2M109 528h3M113 528h2M117 528h1M100 529h1M106 529h2M109 529h3M113 529h1M116 529h1M113 530h1M116 530h2M102 531h1M107 531h1M109 531h2M113 531h1M101 532h1M105 532h1M114 532h1M117 532h1M108 533h1M114 533h1M131 478h1M122 479h2M130 479h1M132 479h2M136 479h1M138 479h1M121 480h3M127 480h1M130 480h10M121 481h1M123 481h3M128 481h6M135 481h3M139 481h1M122 482h2M125 482h9M135 482h5M121 483h7M129 483h1M131 483h2M134 483h3M121 484h3M125 484h7M133 484h2M136 484h1M138 484h2M121 485h1M123 485h3M127 485h7M135 485h5M122 486h4M127 486h4M132 486h1M134 486h4M139 486h1M121 487h3M125 487h2M130 487h7M138 487h2M121 488h5M127 488h4M132 488h2M135 488h5M122 489h9M132 489h2M135 489h5M121 490h6M128 490h4M133 490h3M137 490h3M121 491h1M124 491h1M126 491h7M134 491h2M138 491h2M121 492h3M125 492h4M131 492h4M136 492h3M121 493h3M125 493h2M128 493h5M134 493h1M137 493h3M123 494h6M130 494h3M134 494h5M121 495h2M124 495h2M128 495h1M130 495h5M136 495h4M121 496h6M128 496h4M133 496h1M135 496h5M121 497h2M125 497h2M128 497h4M133 497h2M136 497h1M121 498h1M125 498h2M129 498h2M132 498h2M139 498h1M124 499h2M127 499h4M133 499h5M139 499h1M121 500h9M131 500h6M138 500h2M121 501h1M125 501h7M133 501h1M135 501h5M123 502h4M128 502h2M131 502h1M133 502h4M138 502h2M122 503h3M126 503h2M129 503h4M134 503h5M121 504h3M126 504h6M134 504h6M124 505h5M131 505h3M135 505h2M121 506h1M124 506h2M127 506h1M129 506h1M131 506h8M122 507h1M124 507h2M127 507h9M137 507h3M121 508h5M128 508h1M130 508h2M134 508h2M137 508h3M121 509h2M125 509h3M129 509h1M131 509h8M121 510h2M124 510h5M130 510h1M133 510h7M121 511h1M124 511h2M129 511h3M133 511h5M123 512h3M127 512h8M138 512h2M121 513h8M130 513h3M134 513h2M137 513h3M121 514h9M131 514h3M135 514h5M121 515h2M124 515h3M129 515h5M135 515h1M138 515h2M121 516h2M125 516h1M127 516h4M132 516h1M135 516h2M138 516h2M121 517h1M123 517h6M131 517h6M139 517h1M122 518h3M126 518h1M128 518h1M130 518h2M133 518h6M122 519h1M124 519h2M127 519h1M129 519h4M134 519h1M136 519h2M121 520h1M123 520h8M133 520h5M139 520h1M121 521h2M125 521h7M135 521h1M137 521h3M121 522h6M128 522h5M135 522h2M121 523h3M126 523h1M129 523h6M136 523h1M138 523h1M122 524h3M127 524h2M130 524h6M137 524h1M139 524h1M121 525h1M123 525h1M125 525h4M130 525h10M123 526h3M128 526h12M125 527h14M122 528h4M128 528h3M132 528h2M135 528h5M123 529h2M129 529h1M131 529h1M134 529h1M137 529h1M139 529h1M121 530h3M127 530h1M130 530h1M132 530h1M135 530h3M123 531h1M125 531h1M121 532h1M137 532h1M130 533h1M137 533h1M130 534h1M156 503h1M159 503h2M144 504h1M147 504h2M150 504h1M152 504h7M160 504h1M143 505h1M145 505h8M154 505h5M160 505h1M143 506h4M148 506h3M153 506h4M158 506h2M144 507h3M148 507h10M160 507h1M143 508h2M146 508h9M156 508h1M158 508h1M160 508h1M143 509h1M145 509h4M152 509h1M155 509h3M159 509h2M144 510h11M157 510h1M159 510h2M143 511h2M146 511h4M152 511h3M156 511h4M143 512h4M148 512h2M151 512h3M155 512h1M157 512h3M143 513h1M145 513h1M150 513h1M152 513h4M158 513h2M143 514h5M149 514h1M151 514h6M158 514h2M145 515h7M153 515h1M155 515h2M158 515h3M143 516h3M147 516h1M149 516h1M153 516h1M155 516h3M143 517h2M148 517h3M152 517h4M157 517h1M159 517h2M143 518h3M148 518h12M143 519h4M148 519h6M155 519h2M158 519h3M143 520h12M156 520h4M144 521h2M147 521h5M153 521h5M159 521h2M144 522h3M148 522h1M150 522h5M156 522h4M144 523h2M147 523h3M153 523h1M155 523h1M157 523h4M143 524h9M153 524h3M157 524h2M160 524h1M143 525h5M149 525h11M143 526h2M146 526h1M148 526h2M151 526h6M160 526h1M144 527h1M147 527h1M149 527h12M143 528h2M146 528h4M151 528h7M159 528h2M143 529h2M146 529h3M151 529h2M154 529h5M160 529h1M144 530h3M148 530h3M155 530h4M143 531h1M145 531h1M147 531h1M149 531h5M155 531h5M147 532h1M149 532h1M151 532h7M159 532h1M144 533h3M148 533h2M151 533h5M157 533h4M143 534h5M150 534h1M152 534h1M154 534h7M144 535h1M146 535h3M150 535h2M154 535h1M156 535h1M158 535h1M144 536h3M148 536h2M152 536h1M154 536h2M158 536h3M143 537h7M151 537h1M153 537h2M156 537h1M158 537h3M144 538h8M153 538h6M160 538h1M144 539h3M148 539h3M155 539h6M143 540h3M147 540h2M150 540h8M160 540h1M143 541h1M145 541h7M155 541h4M160 541h1M145 542h4M150 542h6M157 542h4M143 543h4M148 543h3M153 543h8M143 544h5M151 544h1M154 544h2M159 544h2M143 545h1M146 545h6M153 545h3M160 545h1M143 546h3M147 546h1M152 546h1M154 546h2M157 546h1M160 546h1M146 547h1M150 547h3M155 547h1M153 548h1M145 549h1M150 549h1M147 550h1M145 551h1M152 551h1M149 552h1M158 553h1M152 555h1M155 555h1M167 499h1M164 500h1M166 500h4M171 500h7M179 500h3M164 501h5M170 501h3M174 501h1M177 501h5M164 502h1M166 502h4M171 502h1M174 502h8M164 503h4M169 503h6M176 503h5M164 504h5M170 504h1M172 504h4M177 504h1M179 504h3M164 505h4M169 505h4M174 505h3M179 505h3M164 506h2M167 506h2M171 506h4M176 506h5M164 507h3M168 507h2M171 507h4M179 507h2M164 508h3M168 508h2M171 508h6M179 508h3M165 509h1M167 509h3M171 509h11M164 510h2M167 510h5M173 510h2M176 510h2M179 510h3M165 511h6M172 511h1M174 511h8M165 512h1M167 512h7M175 512h5M164 513h6M171 513h3M175 513h1M177 513h1M180 513h1M165 514h1M167 514h6M175 514h7M164 515h4M169 515h5M175 515h2M179 515h3M164 516h8M173 516h2M176 516h1M178 516h4M164 517h2M167 517h12M180 517h2M164 518h5M170 518h1M173 518h2M176 518h1M178 518h1M181 518h1M164 519h3M169 519h1M171 519h11M164 520h2M167 520h2M171 520h1M174 520h2M178 520h4M164 521h1M167 521h7M175 521h1M179 521h1M164 522h2M168 522h3M174 522h1M176 522h5M165 523h3M171 523h11M164 524h1M166 524h2M170 524h3M174 524h1M176 524h5M164 525h1M166 525h3M172 525h2M175 525h1M178 525h3M164 526h8M173 526h1M175 526h5M181 526h1M164 527h1M166 527h3M170 527h5M176 527h2M179 527h3M164 528h7M173 528h3M177 528h3M181 528h1M165 529h1M167 529h1M169 529h2M172 529h1M176 529h6M164 530h4M170 530h1M172 530h4M177 530h3M164 531h1M166 531h3M170 531h3M174 531h7M166 532h2M170 532h6M177 532h1M179 532h3M164 533h4M169 533h1M171 533h2M174 533h7M164 534h2M167 534h2M172 534h1M174 534h3M179 534h3M164 535h1M166 535h4M171 535h2M181 535h1M166 536h1M168 536h1M170 536h1M173 536h2M178 536h1M180 536h1M178 539h1M180 540h1" stroke="#1c1ce8" stroke-width="1" fill="none" transform="translate(0 0.5)"/>
<path d="M19 469h1M23 469h1M27 469h1M31 469h1M15 470h1M23 470h1M26 470h1M15 471h1M19 471h1M23 471h1M25 471h1M28 471h1M30 471h2M16 472h1M19 472h1M28 472h1M23 473h1M26 473h1M16 474h1M21 474h1M25 475h1M30 475h1M17 476h1M19 476h2M22 476h1M24 476h1M15 477h2M18 477h1M21 477h1M28 477h1M16 478h1M22 478h1M28 478h1M26 479h2M20 480h1M22 480h1M20 481h1M22 481h2M27 481h1M30 481h2M15 482h1M20 482h2M23 482h3M27 482h2M15 483h1M25 483h3M31 483h1M15 484h1M17 484h1M19 484h2M28 484h2M19 485h2M25 485h1M17 486h1M22 486h1M27 486h1M15 487h1M18 487h2M22 487h1M26 487h1M29 487h1M31 487h2M19 488h2M29 488h2M22 489h1M25 489h3M30 489h2M15 490h1M17 490h1M25 490h1M27 490h1M29 490h1M31 490h1M15 491h1M22 491h1M26 491h1M30 491h1M25 492h1M17 493h1M20 493h1M27 493h1M30 493h2M17 494h2M22 494h3M28 494h1M30 494h1M15 495h1M18 495h2M23 495h3M32 495h1M25 496h1M27 496h1M30 496h1M32 496h1M23 497h1M26 497h2M19 498h1M23 498h2M28 498h1M31 498h1M18 499h1M22 499h1M18 500h1M23 500h1M29 500h1M25 501h1M29 501h1M32 504h1M29 505h1M39 482h1M41 482h2M49 482h1M52 482h1M36 483h1M38 483h1M36 484h3M47 484h1M37 485h1M39 485h2M38 486h1M42 486h1M44 486h1M48 486h1M50 486h4M36 487h1M38 487h1M40 487h1M43 487h3M52 487h1M37 488h1M40 488h2M50 488h2M40 489h1M50 489h1M38 490h1M41 490h1M47 490h1M51 490h1M38 491h1M42 491h3M46 491h2M50 491h1M52 491h1M46 492h1M48 492h1M51 492h1M37 493h1M47 493h2M51 493h1M39 494h2M42 494h1M44 494h1M49 494h5M36 495h2M46 495h1M49 495h2M39 496h1M42 496h1M44 496h1M48 496h2M52 496h2M38 497h1M40 497h1M46 497h1M49 497h1M51 497h1M40 498h1M45 498h1M47 498h2M53 498h1M36 499h1M52 499h1M38 500h1M50 500h1M38 501h1M43 501h1M48 501h1M53 501h1M36 502h1M47 503h1M51 503h2M36 504h1M43 504h1M46 504h1M48 504h1M51 504h1M37 505h1M40 505h1M45 505h1M47 505h1M49 505h1M41 506h1M44 506h1M51 506h1M53 506h1M46 507h1M48 507h1M50 507h1M53 507h1M41 508h1M43 508h1M51 508h1M45 509h1M37 510h1M39 510h1M46 510h2M53 510h1M39 511h1M44 511h1M42 512h1M48 512h1M51 512h1M45 513h1M48 513h2M51 513h1M50 514h1M53 514h1M53 515h1M44 516h3M38 517h1M48 517h1M50 517h2M39 518h1M41 518h1M44 518h1M38 519h2M51 519h1M53 519h1M42 520h1M44 520h1M46 520h1M38 521h1M49 521h2M36 522h2M49 522h3M53 522h1M36 523h1M40 523h2M46 523h1M49 523h1M51 523h1M45 524h1M47 525h1M62 475h1M59 476h2M62 476h1M66 476h1M68 476h1M73 476h1M59 477h1M61 477h1M64 477h2M68 477h2M73 477h1M58 478h1M60 478h2M70 478h1M72 478h1M74 478h1M59 479h2M62 479h1M66 479h1M69 479h2M60 480h2M63 480h1M69 480h1M59 481h2M63 481h1M66 481h1M68 481h1M60 482h1M63 482h4M73 482h1M69 483h2M72 483h2M59 484h2M62 484h1M58 485h1M62 485h1M64 485h1M70 485h1M60 486h1M68 486h1M71 486h1M74 486h1M58 487h2M62 487h1M65 487h2M73 487h1M62 488h1M64 488h1M66 488h1M69 488h2M72 488h1M67 489h1M71 490h1M59 491h1M61 491h2M65 491h1M73 491h1M58 492h1M60 492h3M68 492h1M71 492h1M62 493h2M65 493h1M68 493h1M73 493h1M65 494h2M74 494h1M58 495h1M60 495h1M66 495h1M71 495h1M64 496h1M68 496h1M60 497h1M62 497h1M69 497h1M72 497h1M59 498h1M68 498h1M73 498h2M59 499h1M64 499h1M66 499h1M68 499h1M70 499h1M61 500h1M65 500h2M71 500h1M64 501h1M66 501h1M71 501h1M74 501h1M68 502h1M58 503h1M61 503h3M69 503h1M71 503h1M73 503h1M68 504h1M72 504h1M60 505h1M62 505h1M69 505h3M62 506h1M69 506h1M71 506h1M73 507h1M88 489h1M92 489h1M94 489h1M81 490h1M88 490h1M93 490h1M95 490h1M82 491h1M86 491h1M92 491h1M96 491h1M79 492h1M81 492h1M90 492h1M92 492h1M96 492h1M80 493h1M83 493h1M86 493h1M88 493h1M94 493h2M85 494h1M87 494h1M90 494h1M94 494h1M80 495h1M82 495h1M84 495h1M87 495h2M94 495h1M96 495h1M82 496h1M84 496h1M90 496h1M85 497h1M87 497h1M93 497h1M96 497h1M81 498h2M92 498h1M79 499h3M90 499h2M94 499h1M81 500h1M85 500h1M90 500h1M85 501h1M91 501h1M96 501h1M79 502h1M89 502h1M92 502h1M94 502h2M82 503h2M85 503h1M87 503h1M90 503h2M93 503h1M80 504h1M88 504h1M93 504h1M95 504h1M89 505h1M95 505h1M80 506h1M82 506h5M92 506h2M84 507h1M87 507h1M92 507h4M87 508h2M80 509h1M91 509h3M83 510h1M86 510h1M89 510h2M94 510h1M85 511h1M79 512h3M84 512h1M87 512h1M83 513h1M88 513h1M91 513h1M95 513h1M80 514h1M84 514h1M88 514h1M92 514h1M79 515h3M84 515h1M86 515h1M91 515h1M94 515h1M79 516h1M85 517h4M92 517h1M96 517h1M82 518h1M85 518h2M90 518h1M93 518h1M81 519h2M88 519h1M94 519h1M79 520h1M81 520h2M86 520h1M93 520h1M95 520h1M85 521h2M79 522h1M82 522h2M86 522h1M94 522h1M96 522h1M84 523h1M90 523h1M95 523h2M80 524h2M85 524h1M87 524h1M87 525h5M93 525h1M82 526h1M84 526h1M87 526h1M80 527h1M86 527h1M88 527h3M92 527h1M79 528h1M95 528h1M83 530h1M89 530h1M102 490h1M114 490h1M102 491h1M104 491h1M106 491h1M111 491h1M100 492h1M102 492h1M104 492h1M115 492h1M100 493h1M106 493h1M108 493h1M113 493h1M115 493h3M100 494h2M107 494h1M115 494h1M117 494h1M106 495h1M109 495h1M117 495h1M106 496h1M108 496h1M112 496h2M101 497h1M108 497h1M112 497h2M101 498h1M103 498h1M110 498h1M117 498h1M100 499h1M102 499h1M112 499h2M115 499h1M101 500h2M110 500h1M114 500h1M101 501h1M105 501h1M109 501h1M113 501h1M102 502h1M105 502h1M107 502h2M113 502h2M116 502h1M108 503h2M101 504h1M108 504h1M110 504h1M112 504h2M101 505h1M114 505h1M102 506h5M112 506h1M102 507h1M106 507h1M108 507h1M113 507h1M100 508h2M106 508h4M113 508h2M100 509h1M104 509h1M108 509h1M101 510h1M106 510h1M112 510h1M101 511h1M103 511h2M110 511h1M114 511h1M117 511h1M102 512h1M106 512h1M110 512h1M113 512h4M105 513h1M107 513h2M111 513h1M101 514h1M104 514h1M106 514h1M108 514h1M112 514h1M114 514h1M116 514h1M102 515h1M108 515h2M113 515h1M100 516h1M104 516h1M114 516h1M101 517h1M104 517h1M106 517h2M116 517h1M100 518h1M104 518h1M106 518h1M113 518h1M116 518h1M104 519h1M116 519h1M110 520h1M117 520h1M100 521h2M107 521h2M117 521h1M105 522h1M109 523h1M114 523h2M107 524h1M110 524h1M112 524h4M112 525h1M102 526h1M106 526h1M115 526h1M112 528h1M127 479h1M134 479h1M124 480h2M128 480h2M122 481h1M126 481h2M134 481h1M138 481h1M121 482h1M124 482h1M134 482h1M133 483h1M137 483h3M124 484h1M132 484h1M135 484h1M137 484h1M122 485h1M126 485h1M134 485h1M121 486h1M131 486h1M133 486h1M138 486h1M124 487h1M127 487h3M137 487h1M126 488h1M131 488h1M134 488h1M121 489h1M131 489h1M134 489h1M127 490h1M132 490h1M122 491h2M133 491h1M137 491h1M124 492h1M130 492h1M135 492h1M139 492h1M124 493h1M133 493h1M135 493h2M121 494h1M129 494h1M139 494h1M123 495h1M127 495h1M129 495h1M127 496h1M132 496h1M134 496h1M123 497h1M127 497h1M132 497h1M135 497h1M138 497h2M122 498h3M127 498h2M131 498h1M134 498h5M121 499h3M131 499h2M138 499h1M130 500h1M137 500h1M122 501h3M132 501h1M134 501h1M121 502h2M130 502h1M132 502h1M137 502h1M125 503h1M128 503h1M133 503h1M139 503h1M124 504h2M132 504h2M121 505h3M130 505h1M134 505h1M139 505h1M122 506h2M126 506h1M139 506h1M121 507h1M123 507h1M126 507h1M136 507h1M126 508h1M129 508h1M132 508h2M136 508h1M123 509h2M128 509h1M130 509h1M139 509h1M123 510h1M129 510h1M131 510h2M122 511h1M127 511h2M132 511h1M139 511h1M121 512h2M126 512h1M135 512h3M133 513h1M130 514h1M134 514h1M123 515h1M127 515h2M134 515h1M136 515h2M123 516h2M126 516h1M131 516h1M133 516h2M122 517h1M129 517h2M137 517h2M121 518h1M125 518h1M129 518h1M132 518h1M139 518h1M121 519h1M123 519h1M126 519h1M128 519h1M133 519h1M135 519h1M138 519h2M122 520h1M131 520h2M138 520h1M123 521h2M132 521h1M134 521h1M136 521h1M127 522h1M133 522h2M137 522h3M124 523h1M127 523h2M135 523h1M139 523h1M121 524h1M125 524h2M129 524h1M136 524h1M138 524h1M122 525h1M124 525h1M129 525h1M121 526h2M127 526h1M121 527h2M124 527h1M139 527h1M126 528h1M126 529h1M144 505h1M153 505h1M159 505h1M147 506h1M151 506h2M157 506h1M160 506h1M143 507h1M147 507h1M158 507h2M145 508h1M155 508h1M157 508h1M159 508h1M144 509h1M150 509h1M154 509h1M158 509h1M143 510h1M155 510h2M158 510h1M150 511h2M155 511h1M160 511h1M147 512h1M154 512h1M160 512h1M144 513h1M146 513h4M151 513h1M156 513h2M160 513h1M148 514h1M150 514h1M157 514h1M160 514h1M143 515h1M152 515h1M154 515h1M157 515h1M146 516h1M148 516h1M150 516h3M158 516h3M145 517h3M156 517h1M158 517h1M146 518h1M147 519h1M154 519h1M157 519h1M155 520h1M160 520h1M143 521h1M152 521h1M158 521h1M143 522h1M147 522h1M155 522h1M160 522h1M143 523h1M146 523h1M150 523h2M154 523h1M156 523h1M152 524h1M156 524h1M159 524h1M148 525h1M160 525h1M145 526h1M147 526h1M157 526h3M143 527h1M145 527h2M148 527h1M145 528h1M150 528h1M158 528h1M149 529h1M153 529h1M159 529h1M143 530h1M152 530h1M154 530h1M159 530h2M144 531h1M146 531h1M154 531h1M143 532h4M148 532h1M150 532h1M158 532h1M160 532h1M147 533h1M156 533h1M148 534h2M153 534h1M143 535h1M149 535h1M152 535h1M155 535h1M157 535h1M159 535h2M143 536h1M147 536h1M150 536h2M153 536h1M156 536h2M150 537h1M152 537h1M155 537h1M157 537h1M159 538h1M143 539h1M147 539h1M151 539h4M146 540h1M159 540h1M144 541h1M152 541h1M159 541h1M143 542h2M149 542h1M156 542h1M151 543h2M150 544h1M153 546h1M156 547h1M146 549h1M170 500h1M178 500h1M169 501h1M173 501h1M175 501h2M165 502h1M170 502h1M172 502h2M168 503h1M175 503h1M181 503h1M169 504h1M176 504h1M178 504h1M168 505h1M177 505h2M166 506h1M169 506h2M181 506h1M167 507h1M170 507h1M175 507h4M181 507h1M167 508h1M170 508h1M177 508h2M164 509h1M166 509h1M170 509h1M166 510h1M172 510h1M175 510h1M178 510h1M164 511h1M171 511h1M173 511h1M174 512h1M180 512h2M170 513h1M174 513h1M176 513h1M178 513h2M181 513h1M164 514h1M166 514h1M173 514h2M168 515h1M174 515h1M177 515h2M172 516h1M175 516h1M177 516h1M179 517h1M169 518h1M171 518h1M175 518h1M177 518h1M179 518h2M167 519h2M170 519h1M166 520h1M170 520h1M172 520h2M176 520h2M166 521h1M174 521h1M176 521h3M180 521h1M167 522h1M171 522h3M164 523h1M170 523h1M165 524h1M168 524h2M173 524h1M175 524h1M181 524h1M165 525h1M169 525h2M174 525h1M176 525h1M181 525h1M172 526h1M180 526h1M165 527h1M169 527h1M175 527h1M178 527h1M171 528h2M176 528h1M180 528h1M164 529h1M166 529h1M168 529h1M171 529h1M173 529h1M168 530h2M171 530h1M180 530h2M165 531h1M169 531h1M173 531h1M181 531h1M165 532h1M168 532h1M178 532h1M173 533h1M181 533h1M170 534h1M167 536h1M179 536h1" stroke="#0c0cb8" stroke-width="1" fill="none" transform="translate(0 0.5)"/>
<g clip-path="url(#c1)">
<path d="M14.80 478.00C14.80 472.00 33.00 472.00 33.00 478.00V489.00C33.00 494.60 14.80 494.60 14.80 489.00Z" fill="#18f0f0"/>
<path d="M14.80 478.50C14.80 473.43 33.00 473.43 33.00 478.50V488.50C33.00 493.17 14.80 493.17 14.80 488.50Z" fill="#30e830"/>
<path d="M14.90 480.00C14.90 475.47 32.90 475.47 32.90 480.00V486.00C32.90 491.33 14.90 491.33 14.90 486.00Z" fill="#f4f41c"/>
<path d="M15.60 481.00C15.60 476.33 32.40 476.33 32.40 481.00V485.50C32.40 490.43 15.60 490.43 15.60 485.50Z" fill="#ff8c10"/>
<path d="M16.30 481.50C16.30 477.10 31.90 477.10 31.90 481.50V485.00C31.90 489.40 16.30 489.40 16.30 485.00Z" fill="#f81010"/>
</g>
<g clip-path="url(#c2)">
<path d="M36.20 487.50C36.20 485.50 54.20 485.50 54.20 487.50V507.50C54.20 516.57 36.20 516.57 36.20 507.50Z" fill="#18f0f0"/>
<path d="M36.20 489.00C36.20 487.13 54.20 487.13 54.20 489.00V504.00C54.20 512.80 36.20 512.80 36.20 504.00Z" fill="#30e830"/>
<path d="M38.00 494.00C38.00 490.00 52.40 490.00 52.40 494.00V497.00C52.40 507.80 38.00 507.80 38.00 497.00Z" fill="#f4f41c"/>
<path d="M42.00 497.70C42.00 493.83 48.80 493.83 48.80 497.70V497.70C48.80 501.57 42.00 501.57 42.00 497.70Z" fill="#ff8c10"/>
<path d="M43.60 497.50C43.60 495.63 47.20 495.63 47.20 497.50V497.50C47.20 499.37 43.60 499.37 43.60 497.50Z" fill="#f81010"/>
</g>
<g clip-path="url(#c3)">
<path d="M57.50 483.00C57.50 477.67 75.40 477.67 75.40 483.00V494.00C75.40 499.60 57.50 499.60 57.50 494.00Z" fill="#18f0f0"/>
<path d="M57.50 484.00C57.50 478.93 75.40 478.93 75.40 484.00V493.50C75.40 498.43 57.50 498.43 57.50 493.50Z" fill="#30e830"/>
<path d="M57.60 485.50C57.60 480.83 75.30 480.83 75.30 485.50V492.00C75.30 496.53 57.60 496.53 57.60 492.00Z" fill="#f4f41c"/>
<path d="M57.90 486.00C57.90 481.73 75.00 481.73 75.00 486.00V491.50C75.00 495.37 57.90 495.37 57.90 491.50Z" fill="#ff8c10"/>
<path d="M58.30 486.50C58.30 482.37 74.50 482.37 74.50 486.50V491.00C74.50 494.33 58.30 494.33 58.30 491.00Z" fill="#f81010"/>
</g>
<g clip-path="url(#c4)">
<path d="M76.00 509.30C76.00 494.23 100.00 494.23 100.00 509.30V509.30C100.00 524.37 76.00 524.37 76.00 509.30Z" fill="#18f0f0"/>
<path d="M77.00 508.90C77.00 495.57 99.00 495.57 99.00 508.90V508.90C99.00 522.23 77.00 522.23 77.00 508.90Z" fill="#30e830"/>
<path d="M78.40 509.10C78.40 499.23 97.60 499.23 97.60 509.10V509.10C97.60 518.97 78.40 518.97 78.40 509.10Z" fill="#f4f41c"/>
<path d="M80.70 508.80C80.70 501.73 95.70 501.73 95.70 508.80V508.80C95.70 515.87 80.70 515.87 80.70 508.80Z" fill="#ff8c10"/>
<path d="M82.60 508.80C82.60 502.93 93.80 502.93 93.80 508.80V508.80C93.80 514.67 82.60 514.67 82.60 508.80Z" fill="#ff4010"/>
<path d="M85.40 508.80C85.40 506.13 91.00 506.13 91.00 508.80V508.80C91.00 511.47 85.40 511.47 85.40 508.80Z" fill="#f81010"/>
</g>
<g clip-path="url(#c5)">
<path d="M97.10 507.20C97.10 493.07 121.10 493.07 121.10 507.20V507.20C121.10 521.33 97.10 521.33 97.10 507.20Z" fill="#18f0f0"/>
<path d="M98.10 507.00C98.10 494.33 120.10 494.33 120.10 507.00V507.00C120.10 519.67 98.10 519.67 98.10 507.00Z" fill="#30e830"/>
<path d="M99.50 507.40C99.50 498.33 118.70 498.33 118.70 507.40V507.40C118.70 516.47 99.50 516.47 99.50 507.40Z" fill="#f4f41c"/>
<path d="M101.10 506.80C101.10 500.13 115.90 500.13 115.90 506.80V506.80C115.90 513.47 101.10 513.47 101.10 506.80Z" fill="#ff8c10"/>
<path d="M102.20 506.80C102.20 501.20 114.80 501.20 114.80 506.80V506.80C114.80 512.40 102.20 512.40 102.20 506.80Z" fill="#f81010"/>
</g>
<g clip-path="url(#c6)">
<path d="M123.1 492C123.1 489.5 124 488.5 126 488.5H134.8C136.8 488.5 137.8 489.5 137.8 492V499C137.8 501 136 501.5 135.5 503.5C135.3 505.5 139.7 506 139.7 509V519C139.7 522 136 523.2 130.5 523.2C125 523.2 121.2 522 121.2 519V509C121.2 506 123.1 505 123.1 502Z" fill="#18f0f0"/>
<path d="M124.60 494.20C124.60 488.87 135.80 488.87 135.80 494.20V494.20C135.80 499.53 124.60 499.53 124.60 494.20Z" fill="#30e830"/>
<path d="M121.80 512.50C121.80 508.37 139.00 508.37 139.00 512.50V517.50C139.00 523.10 121.80 523.10 121.80 517.50Z" fill="#30e830"/>
<path d="M125.90 514.80C125.90 511.20 134.50 511.20 134.50 514.80V514.80C134.50 518.40 125.90 518.40 125.90 514.80Z" fill="#f4f41c"/>
</g>
<g clip-path="url(#c7)">
<path d="M142.70 514.00C142.70 508.53 160.80 508.53 160.80 514.00V520.00C160.80 533.73 142.70 533.73 142.70 520.00Z" fill="#18f0f0"/>
<path d="M142.70 514.50C142.70 509.57 160.80 509.57 160.80 514.50V520.00C160.80 530.67 142.70 530.67 142.70 520.00Z" fill="#30e830"/>
<path d="M142.80 516.00C142.80 512.00 160.70 512.00 160.70 516.00V520.00C160.70 526.67 142.80 526.67 142.80 520.00Z" fill="#f4f41c"/>
<path d="M143.50 517.00C143.50 512.73 160.00 512.73 160.00 517.00V519.50C160.00 524.70 143.50 524.70 143.50 519.50Z" fill="#ff8c10"/>
<path d="M144.00 517.50C144.00 513.37 159.50 513.37 159.50 517.50V519.50C159.50 523.23 144.00 523.23 144.00 519.50Z" fill="#f81010"/>
</g>
<g clip-path="url(#c8)">
<path d="M164.10 509.00C164.10 503.67 182.30 503.67 182.30 509.00V515.00C182.30 527.67 164.10 527.67 164.10 515.00Z" fill="#18f0f0"/>
<path d="M164.10 509.50C164.10 504.70 182.30 504.70 182.30 509.50V515.00C182.30 525.27 164.10 525.27 164.10 515.00Z" fill="#30e830"/>
<path d="M164.20 511.00C164.20 506.60 182.20 506.60 182.20 511.00V515.00C182.20 522.33 164.20 522.33 164.20 515.00Z" fill="#f4f41c"/>
<path d="M164.50 512.00C164.50 507.20 181.90 507.20 181.90 512.00V514.50C181.90 520.90 164.50 520.90 164.50 514.50Z" fill="#ff8c10"/>
<path d="M164.80 512.50C164.80 507.83 181.60 507.83 181.60 512.50V514.50C181.60 519.57 164.80 519.57 164.80 514.50Z" fill="#f81010"/>
</g>
</g>
<path d="M14.7 440.4V560.3H182.7" fill="none" stroke="#444" stroke-width="0.8"/>
<line x1="13.4" y1="449.1" x2="14.7" y2="449.1" stroke="#444" stroke-width="0.6"/>
<line x1="13.4" y1="473.2" x2="14.7" y2="473.2" stroke="#444" stroke-width="0.6"/>
<line x1="13.4" y1="498.1" x2="14.7" y2="498.1" stroke="#444" stroke-width="0.6"/>
<line x1="13.4" y1="524.7" x2="14.7" y2="524.7" stroke="#444" stroke-width="0.6"/>
<line x1="13.4" y1="547" x2="14.7" y2="547" stroke="#444" stroke-width="0.6"/>
<text transform="translate(11.7 449.1) rotate(-90)" font-size="3.4" font-weight="bold" fill="#333" text-anchor="middle">10<tspan font-size="2" dy="-1">5</tspan></text>
<text transform="translate(11.7 473.2) rotate(-90)" font-size="3.4" font-weight="bold" fill="#333" text-anchor="middle">10<tspan font-size="2" dy="-1">4</tspan></text>
<text transform="translate(11.7 498.1) rotate(-90)" font-size="3.4" font-weight="bold" fill="#333" text-anchor="middle">10<tspan font-size="2" dy="-1">3</tspan></text>
<text transform="translate(11.7 524.7) rotate(-90)" font-size="3.4" font-weight="bold" fill="#333" text-anchor="middle">10<tspan font-size="2" dy="-1">2</tspan></text>
<text transform="translate(11.7 547) rotate(-90)" font-size="3.4" font-weight="bold" fill="#333" text-anchor="middle">0</text>
<text transform="translate(7.9 559.5) rotate(-90)" font-size="7.8" font-weight="bold" fill="#111" stroke="#111" stroke-width="0.25" textLength="57" lengthAdjust="spacingAndGlyphs">ALCAM (CD166)</text>
<text transform="translate(28.2 569.7) rotate(-47.5)" font-size="7.6" font-weight="bold" fill="#111" stroke="#111" stroke-width="0.28" text-anchor="end">JJN3</text>
<text transform="translate(48.9 568.8) rotate(-47.5)" font-size="7.6" font-weight="bold" fill="#111" stroke="#111" stroke-width="0.28" text-anchor="end">KMS-11</text>
<text transform="translate(70.2 569.9) rotate(-47.5)" font-size="7.6" font-weight="bold" fill="#111" stroke="#111" stroke-width="0.28" text-anchor="end">MM1S</text>
<text transform="translate(90.6 568.6) rotate(-47.5)" font-size="7.6" font-weight="bold" fill="#111" stroke="#111" stroke-width="0.28" text-anchor="end">NCI-H929</text>
<text transform="translate(109.4 570.6) rotate(-47.5)" font-size="7.6" font-weight="bold" fill="#111" stroke="#111" stroke-width="0.28" text-anchor="end">OPM2</text>
<text transform="translate(135.2 569.1) rotate(-47.5)" font-size="7.6" font-weight="bold" fill="#111" stroke="#111" stroke-width="0.28" text-anchor="end">RPMI-8226</text>
<text transform="translate(154.2 571.6) rotate(-47.5)" font-size="7.6" font-weight="bold" fill="#111" stroke="#111" stroke-width="0.28" text-anchor="end">U266</text>
<text transform="translate(177.7 570.2) rotate(-47.5)" font-size="7.6" font-weight="bold" fill="#111" stroke="#111" stroke-width="0.28" text-anchor="end">U266-LR7</text>
<path d="M130.8 560.8L140.8 568.1L110 604.2L100 595.8Z" fill="none" stroke="#555" stroke-width="0.7"/>
<path d="M124 597.3H130.6V616.5H133.8L127.3 623.5L120.6 616.5H124Z" fill="#fff" stroke="#555" stroke-width="0.9"/>
<path d="M224.6 439.8V560.3H341.4" fill="none" stroke="#222" stroke-width="0.8"/>
<line x1="221.6" y1="560.3" x2="224.6" y2="560.3" stroke="#222" stroke-width="0.8"/>
<text x="220.8" y="563" font-size="7.7" font-weight="normal" fill="#111" text-anchor="end"  stroke="#111" stroke-width="0.3">0</text>
<line x1="221.6" y1="537.4" x2="224.6" y2="537.4" stroke="#222" stroke-width="0.8"/>
<text x="220.8" y="540.1" font-size="7.7" font-weight="normal" fill="#111" text-anchor="end"  stroke="#111" stroke-width="0.3">20</text>
<line x1="221.6" y1="514.6" x2="224.6" y2="514.6" stroke="#222" stroke-width="0.8"/>
<text x="220.8" y="517.3" font-size="7.7" font-weight="normal" fill="#111" text-anchor="end"  stroke="#111" stroke-width="0.3">40</text>
<line x1="221.6" y1="491.7" x2="224.6" y2="491.7" stroke="#222" stroke-width="0.8"/>
<text x="220.8" y="494.4" font-size="7.7" font-weight="normal" fill="#111" text-anchor="end"  stroke="#111" stroke-width="0.3">60</text>
<line x1="221.6" y1="468.9" x2="224.6" y2="468.9" stroke="#222" stroke-width="0.8"/>
<text x="220.8" y="471.6" font-size="7.7" font-weight="normal" fill="#111" text-anchor="end"  stroke="#111" stroke-width="0.3">80</text>
<line x1="221.6" y1="446" x2="224.6" y2="446" stroke="#222" stroke-width="0.8"/>
<text x="220.8" y="448.7" font-size="7.7" font-weight="normal" fill="#111" text-anchor="end"  stroke="#111" stroke-width="0.3">100</text>
<text transform="translate(205.4 557) rotate(-90)" font-size="7.7" fill="#111" stroke="#111" stroke-width="0.3" textLength="106" lengthAdjust="spacingAndGlyphs">% within total RPMI-8266  cells</text>
<line x1="241.6" y1="498.6" x2="241.6" y2="483.7" stroke="#555" stroke-width="0.9"/>
<line x1="238.6" y1="483.7" x2="244.6" y2="483.7" stroke="#555" stroke-width="0.9"/>
<rect x="230" y="498.6" width="23.1" height="61.7" fill="#d9d9d9" stroke="#222" stroke-width="0.8" />
<line x1="264.1" y1="507.7" x2="264.1" y2="494" stroke="#555" stroke-width="0.9"/>
<line x1="261.1" y1="494" x2="267.1" y2="494" stroke="#555" stroke-width="0.9"/>
<rect x="253.1" y="507.7" width="22.1" height="52.6" fill="#000" stroke="#222" stroke-width="0.8" />
<line x1="301.4" y1="530" x2="301.4" y2="518" stroke="#555" stroke-width="0.9"/>
<line x1="298.4" y1="518" x2="304.4" y2="518" stroke="#555" stroke-width="0.9"/>
<rect x="290.5" y="530" width="21.9" height="30.3" fill="#d9d9d9" stroke="#222" stroke-width="0.8" />
<line x1="323.9" y1="475.1" x2="323.9" y2="466.6" stroke="#555" stroke-width="0.9"/>
<line x1="320.9" y1="466.6" x2="326.9" y2="466.6" stroke="#555" stroke-width="0.9"/>
<rect x="312.4" y="475.1" width="23.1" height="85.2" fill="#000" stroke="#222" stroke-width="0.8" />
<path d="M241.5 477.3V466.2H301.4V512.5M299.6 512.5H303.2" fill="none" stroke="#888" stroke-width="0.8"/>
<text x="258.3" y="463.1" font-size="7.6" fill="#111" stroke="#111" stroke-width="0.3" textLength="26" lengthAdjust="spacingAndGlyphs"><tspan font-style="italic">P</tspan> =.003</text>
<text x="230" y="574.3" font-size="7.4" font-weight="normal" fill="#111" text-anchor="start" textLength="45.5" lengthAdjust="spacingAndGlyphs"  stroke="#111" stroke-width="0.3">Annexin-V-ve</text>
<text x="290" y="574.3" font-size="7.4" font-weight="normal" fill="#111" text-anchor="start" textLength="47.1" lengthAdjust="spacingAndGlyphs"  stroke="#111" stroke-width="0.3">Annexin-V+ve</text>
<rect x="262.5" y="589.3" width="8" height="7.6" fill="#d9d9d9" stroke="#333" stroke-width="0.7" />
<rect x="262.5" y="603.2" width="8" height="8.4" fill="#000" stroke="none" stroke-width="1" />
<text x="273.7" y="596.5" font-size="7.2" font-weight="normal" fill="#111" text-anchor="start" textLength="35.7" lengthAdjust="spacingAndGlyphs"  stroke="#111" stroke-width="0.3">ALCAM-ve</text>
<text x="273.7" y="610" font-size="7.2" font-weight="normal" fill="#111" text-anchor="start" textLength="37.8" lengthAdjust="spacingAndGlyphs"  stroke="#111" stroke-width="0.3">ALCAM+ve</text>
<path d="M390 440.2V560H520" fill="none" stroke="#222" stroke-width="0.8"/>
<line x1="387" y1="560" x2="390" y2="560" stroke="#222" stroke-width="0.8"/>
<text x="386.9" y="562.3" font-size="8.0" font-weight="bold" fill="#111" text-anchor="end"  stroke="#111" stroke-width="0.25">30</text>
<line x1="387" y1="531.7" x2="390" y2="531.7" stroke="#222" stroke-width="0.8"/>
<text x="386.9" y="534" font-size="8.0" font-weight="bold" fill="#111" text-anchor="end"  stroke="#111" stroke-width="0.25">40</text>
<line x1="387" y1="503.4" x2="390" y2="503.4" stroke="#222" stroke-width="0.8"/>
<text x="386.9" y="505.7" font-size="8.0" font-weight="bold" fill="#111" text-anchor="end"  stroke="#111" stroke-width="0.25">50</text>
<line x1="387" y1="475.1" x2="390" y2="475.1" stroke="#222" stroke-width="0.8"/>
<text x="386.9" y="477.4" font-size="8.0" font-weight="bold" fill="#111" text-anchor="end"  stroke="#111" stroke-width="0.25">60</text>
<line x1="387" y1="446.8" x2="390" y2="446.8" stroke="#222" stroke-width="0.8"/>
<text x="386.9" y="449.1" font-size="8.0" font-weight="bold" fill="#111" text-anchor="end"  stroke="#111" stroke-width="0.25">70</text>
<text transform="translate(363.2 506.8) rotate(-90)" font-size="7.2" font-weight="bold" fill="#111" stroke="#111" stroke-width="0.25" text-anchor="middle" textLength="76.4" lengthAdjust="spacingAndGlyphs">% of ALCAM-ve within</text>
<text transform="translate(373.1 504.9) rotate(-90)" font-size="7.2" font-weight="bold" fill="#111" stroke="#111" stroke-width="0.25" text-anchor="middle" textLength="111" lengthAdjust="spacingAndGlyphs" xml:space="preserve">chemoresistant RPMI-8266  cells</text>
<line x1="410.6" y1="529.7" x2="410.6" y2="525.2" stroke="#555" stroke-width="1.0"/>
<line x1="407.6" y1="525.2" x2="413.6" y2="525.2" stroke="#555" stroke-width="1.0"/>
<rect x="399.3" y="529.7" width="22.6" height="30.3" fill="#efefef" stroke="#222" stroke-width="0.9" />
<line x1="440.1" y1="503.1" x2="440.1" y2="454.4" stroke="#555" stroke-width="1.0"/>
<line x1="437.1" y1="454.4" x2="443.1" y2="454.4" stroke="#555" stroke-width="1.0"/>
<rect x="429.1" y="503.1" width="22.1" height="56.9" fill="#c2c2c2" stroke="#222" stroke-width="0.9" />
<line x1="469.5" y1="482.2" x2="469.5" y2="473.7" stroke="#555" stroke-width="1.0"/>
<line x1="466.5" y1="473.7" x2="472.5" y2="473.7" stroke="#555" stroke-width="1.0"/>
<rect x="458.5" y="482.2" width="22" height="77.8" fill="#707070" stroke="#222" stroke-width="0.9" />
<line x1="499.2" y1="482.2" x2="499.2" y2="454.4" stroke="#555" stroke-width="1.0"/>
<line x1="496.2" y1="454.4" x2="502.2" y2="454.4" stroke="#555" stroke-width="1.0"/>
<rect x="488.3" y="482.2" width="21.8" height="77.8" fill="#000" stroke="#222" stroke-width="0.9" />
<text transform="translate(416.4 568.2) rotate(-48.5)" font-size="7.6" font-weight="bold" fill="#111" stroke="#111" stroke-width="0.28" text-anchor="end">Baseline</text>
<text transform="translate(445.9 568.2) rotate(-48.5)" font-size="7.6" font-weight="bold" fill="#111" stroke="#111" stroke-width="0.28" text-anchor="end">RPMI-8266 + BMSCs</text>
<text transform="translate(476.4 569.5) rotate(-48.5)" font-size="7.6" font-weight="bold" fill="#111" stroke="#111" stroke-width="0.28" text-anchor="end">RPMI-8266 + BMSCs + Chemo (24h)</text>
<text transform="translate(505.5 569.5) rotate(-48.5)" font-size="7.6" font-weight="bold" fill="#111" stroke="#111" stroke-width="0.28" text-anchor="end">RPMI-8266 + BMSCs + Chemo (48h)</text>
<g filter="url(#bl)">
<clipPath id="f1"><rect x="74.9" y="656" width="25.2" height="68"/></clipPath>
<clipPath id="f2"><rect x="102.3" y="644" width="25.5" height="76"/></clipPath>
<clipPath id="f3"><rect x="129.9" y="659" width="24.9" height="59"/></clipPath>
<clipPath id="f4"><rect x="157.6" y="647" width="24.8" height="71"/></clipPath>
<path d="M94 656h1M76 657h1M79 657h1M85 657h1M83 658h1M85 658h1M87 658h1M89 658h1M92 658h1M95 658h2M98 658h1M75 659h1M80 659h4M86 659h1M88 659h2M91 659h5M99 659h1M78 660h1M81 660h1M83 660h3M95 660h1M79 661h1M81 661h1M80 716h1M78 717h1M87 717h1M90 717h1M93 717h3M98 717h2M76 718h4M82 718h1M87 718h2M93 718h1M96 718h1M99 718h1M75 719h1M77 719h1M79 719h1M82 719h2M87 719h2M93 719h1M98 719h1M76 720h1M87 720h2M95 720h1M97 720h1M99 720h1M76 721h1M87 721h1M95 721h1M86 722h1M77 723h1M80 723h1M89 723h1M95 723h2M116 644h1M120 644h1M106 645h1M116 645h1M118 645h1M122 645h1M109 646h1M112 646h1M119 646h2M106 647h1M113 647h1M118 647h1M121 647h1M125 647h1M127 647h1M102 648h1M104 648h1M106 648h1M116 648h1M119 648h1M121 648h1M127 648h1M104 649h1M115 649h1M117 649h1M119 649h1M121 649h1M125 649h1M108 650h1M111 650h4M119 650h1M121 650h1M123 650h1M104 651h3M108 651h2M111 651h1M114 651h1M117 651h1M119 651h1M121 651h1M125 651h1M102 652h1M110 652h1M127 652h1M105 653h2M109 653h2M112 653h1M115 653h1M117 653h1M121 653h1M126 653h1M102 654h2M105 654h2M108 654h1M111 654h1M116 654h1M118 654h1M120 654h1M124 654h4M103 655h2M106 655h2M110 655h3M114 655h2M119 655h1M123 655h1M126 655h2M104 656h1M111 656h1M113 656h4M120 656h4M125 656h2M104 657h1M106 657h1M113 657h2M116 657h3M120 657h3M124 657h1M126 657h1M102 658h3M110 658h1M117 658h2M120 658h1M125 658h2M103 659h1M107 659h1M109 659h1M117 659h1M120 659h2M123 659h1M126 659h1M112 660h2M121 660h2M125 660h1M109 661h1M114 661h1M116 661h1M118 661h1M120 661h1M126 661h1M102 662h2M106 662h1M113 662h1M115 662h1M117 662h2M120 662h1M122 662h2M125 662h1M109 663h1M111 663h1M113 663h2M116 663h1M126 663h2M102 664h1M112 664h1M122 664h1M125 664h1M127 664h1M114 665h1M117 665h1M119 665h1M121 665h1M125 665h2M106 666h1M125 666h1M126 715h1M108 716h2M112 716h1M115 716h1M108 717h2M113 717h5M119 717h1M122 717h1M126 717h1M103 718h1M105 718h3M109 718h1M111 718h1M118 718h1M120 718h1M122 718h2M125 718h2M106 719h1M108 719h2M111 719h1M117 719h2M126 719h1M133 659h1M137 659h1M134 660h2M150 660h1M152 660h1M132 661h1M140 661h1M146 661h2M149 661h1M130 662h2M136 662h1M139 662h1M142 662h1M151 662h1M131 663h1M134 663h1M137 663h1M143 663h2M146 663h1M148 663h1M150 663h2M153 663h2M134 664h1M137 664h1M139 664h1M141 664h1M144 664h1M147 664h1M150 664h1M131 665h2M138 665h1M141 665h1M145 666h1M130 667h1M142 667h1M135 714h1M138 714h1M141 714h2M144 714h1M146 714h2M149 714h2M130 715h1M132 715h3M136 715h1M138 715h1M141 715h1M143 715h3M147 715h1M149 715h2M131 716h1M134 716h1M143 716h2M152 716h3M131 717h1M134 717h1M136 717h1M141 717h2M145 717h1M163 647h1M167 647h1M171 647h1M176 647h1M179 647h1M163 648h1M167 648h1M170 648h1M175 648h1M180 648h1M160 649h1M165 649h1M174 649h1M177 649h2M160 650h1M162 650h1M167 650h1M169 650h1M175 650h1M177 650h1M158 651h5M166 651h1M171 651h1M177 651h5M162 652h2M168 652h1M170 652h1M177 652h1M159 653h2M163 653h1M167 653h1M172 653h1M177 653h1M159 654h1M163 654h1M166 654h1M168 654h1M173 654h1M175 654h1M178 654h1M181 654h1M158 655h3M165 655h4M170 655h1M172 655h2M175 655h1M177 655h4M160 656h1M163 656h2M168 656h1M170 656h2M177 656h1M179 656h1M181 656h1M159 657h2M162 657h1M166 657h1M169 657h1M171 657h1M176 657h1M180 657h1M161 658h1M163 658h1M168 658h2M171 658h2M175 658h1M178 658h1M158 659h3M167 659h2M172 659h1M174 659h1M162 660h1M164 660h1M174 660h1M176 660h2M179 660h2M159 661h4M165 661h1M168 661h3M172 661h1M177 661h2M158 662h2M161 662h1M164 662h2M169 662h1M172 662h1M175 662h4M164 663h3M168 663h2M171 663h2M178 663h1M180 663h1M159 664h1M167 664h2M172 664h3M177 664h1M180 664h2M160 665h2M163 665h1M166 665h2M170 665h1M172 665h2M175 665h1M180 665h1M160 666h1M166 666h1M168 666h3M178 666h1M158 667h1M160 667h1M166 667h1M171 667h1M174 667h1M177 667h1M181 667h1M160 668h2M165 668h1M168 668h1M172 668h2M176 668h1M178 668h1M180 668h1M166 669h3M180 669h1M159 670h1M163 670h1M165 670h1M171 670h1M174 670h1M179 670h1M161 671h1M166 671h1M171 671h2M176 671h2M160 672h1M165 672h2M171 672h1M173 672h2M159 673h1M165 673h1M170 674h1M172 674h1M176 674h3M173 675h2M176 675h3M160 676h4M170 676h1M168 677h1M176 677h1M158 679h1M171 679h1M160 680h1M169 680h1M163 682h1M170 682h1M174 683h1M159 684h3M166 684h1M173 687h1M163 712h1M165 712h1M169 712h1M161 713h1M168 713h1M159 714h1M165 714h1M170 714h1M172 714h1M174 714h1M178 714h1M161 715h1M166 715h2M169 715h1M172 715h1M175 715h2M158 716h1M160 716h1M163 716h1M165 716h4M171 716h1M173 716h1M180 716h1M159 717h2M167 717h2M175 717h1M178 717h1" stroke="#dedef9" stroke-width="1" fill="none" transform="translate(0 0.5)"/>
<path d="M77 659h2M84 659h2M75 660h3M87 660h1M90 660h5M96 660h4M80 661h1M88 661h2M93 661h2M97 661h1M88 716h2M75 717h1M77 717h1M81 717h4M86 717h1M89 717h1M96 717h1M75 718h1M81 718h1M83 718h1M85 718h2M89 718h2M94 718h1M127 645h1M102 650h1M115 650h2M127 650h1M103 652h1M115 652h2M123 653h2M107 654h1M114 654h1M121 654h1M124 655h1M102 656h2M107 656h3M118 656h1M110 657h1M127 657h1M105 658h1M111 658h1M114 658h2M127 658h1M106 659h1M108 659h1M113 659h2M124 659h1M102 660h1M108 660h2M115 660h2M120 660h1M124 660h1M126 660h2M102 661h1M104 661h1M108 661h1M112 661h2M115 661h1M117 661h1M121 661h2M124 661h1M127 661h1M105 662h1M109 662h1M119 662h1M121 662h1M103 663h4M108 663h1M115 663h1M118 663h2M122 663h1M124 663h2M103 664h3M107 664h2M114 664h4M123 664h1M126 664h1M102 665h1M109 665h1M115 665h1M122 665h1M102 666h1M109 666h1M122 666h1M124 666h1M106 714h1M103 715h1M115 715h1M118 715h1M120 715h1M103 716h1M105 716h2M113 716h1M116 716h2M121 716h3M127 716h1M105 717h1M107 717h1M110 717h1M112 717h1M121 717h1M124 717h2M104 718h1M117 718h1M154 661h1M143 662h1M130 663h1M149 663h1M131 664h1M133 664h1M135 664h1M138 664h1M142 664h2M146 664h1M148 664h1M151 664h2M154 664h1M133 665h2M139 665h1M142 665h1M144 665h2M147 665h1M149 665h3M154 665h1M130 666h1M136 666h1M139 666h1M141 666h3M151 666h1M153 666h1M143 667h1M149 668h1M132 713h1M147 713h1M150 713h1M154 713h1M130 714h1M133 714h1M137 714h1M139 714h1M145 714h1M148 714h1M151 714h2M154 714h1M131 715h1M146 715h1M154 715h1M132 716h1M142 716h1M164 652h1M161 654h1M163 655h1M174 655h1M176 655h1M172 657h1M177 657h1M167 658h1M170 658h1M174 658h1M180 658h1M164 659h1M169 659h1M158 660h2M161 660h1M166 660h1M168 660h2M172 660h1M175 660h1M178 660h1M175 661h2M162 662h1M166 662h3M159 663h2M162 663h1M170 663h1M174 663h4M181 663h1M158 664h1M161 664h2M164 664h2M169 664h3M175 664h2M179 664h1M158 665h1M162 665h1M164 665h1M168 665h2M171 665h1M179 665h1M181 665h1M159 666h1M161 666h5M171 666h3M176 666h2M179 666h1M181 666h1M162 667h1M165 667h1M167 667h1M170 667h1M175 667h2M178 667h3M158 668h2M163 668h2M166 668h2M169 668h1M181 668h1M158 669h1M160 669h1M165 669h1M169 669h2M174 669h1M178 669h2M161 670h1M167 670h1M172 670h2M175 670h1M177 670h1M160 671h1M165 671h1M167 671h2M170 671h1M173 671h2M179 671h2M162 672h1M168 672h2M172 672h1M177 672h1M179 672h1M181 672h1M161 673h3M166 673h1M173 673h1M176 673h4M158 674h1M163 674h2M167 674h1M175 674h1M179 674h1M181 674h1M159 675h2M163 675h1M166 675h1M168 675h4M175 675h1M179 675h1M181 675h1M158 676h1M164 676h1M166 676h3M171 676h1M174 676h2M180 676h1M159 677h1M170 677h2M178 677h2M181 677h1M162 678h1M164 678h1M159 679h2M166 679h1M169 679h2M176 679h1M181 679h1M174 680h1M176 680h1M163 681h2M174 681h1M179 681h1M160 682h1M167 682h2M160 683h1M165 683h1M163 684h2M171 684h1M164 685h1M171 685h1M169 686h1M179 686h1M162 687h1M170 687h1M169 688h1M181 689h1M180 693h1M173 711h1M175 712h1M178 712h1M164 713h1M167 713h1M175 713h2M161 714h2M164 714h1M166 714h2M169 714h1M179 714h1M181 714h1M162 715h1M165 715h1M171 715h1M173 715h2M178 715h1M181 715h1M164 716h1M172 716h1M179 716h1M163 717h1M174 717h1" stroke="#bcbcf5" stroke-width="1" fill="none" transform="translate(0 0.5)"/>
<path d="M79 660h2M82 660h1M88 660h1M75 661h2M82 661h2M85 661h1M87 661h1M90 661h1M92 661h1M96 661h1M98 661h1M80 715h1M82 715h1M87 715h1M75 716h1M78 716h1M81 716h1M85 716h1M87 716h1M90 716h1M92 716h1M96 716h1M99 716h1M76 717h1M80 717h1M88 717h1M91 717h2M97 717h1M80 718h1M84 718h1M110 656h1M116 659h1M117 660h1M105 661h3M110 661h2M123 661h1M125 661h1M104 662h1M107 662h2M110 662h3M124 662h1M127 662h1M102 663h1M107 663h1M110 663h1M112 663h1M117 663h1M121 663h1M110 664h2M119 664h1M103 665h1M106 665h2M110 665h1M112 665h1M116 665h1M118 665h1M120 665h1M123 665h2M127 665h1M110 666h1M118 666h3M103 667h1M105 667h1M113 667h1M117 667h1M121 667h1M125 667h3M111 668h1M114 668h1M124 668h1M104 669h1M117 714h1M102 715h1M106 715h1M109 715h1M112 715h1M122 715h3M102 716h1M107 716h1M110 716h1M118 716h2M125 716h2M111 717h1M132 663h1M132 664h1M136 664h1M149 664h1M135 665h3M140 665h1M143 665h1M146 665h1M153 665h1M132 666h1M134 666h1M137 666h2M140 666h1M144 666h1M147 666h2M150 666h1M154 666h1M131 667h1M136 667h2M139 667h2M145 667h1M147 667h2M152 667h3M138 668h1M142 712h1M130 713h2M133 713h4M143 713h1M146 713h1M151 713h2M132 714h1M134 714h1M136 714h1M143 714h1M153 714h1M179 662h1M160 664h1M166 664h1M174 665h1M176 665h2M174 666h1M161 667h1M163 667h1M168 667h2M172 667h1M170 668h2M175 668h1M179 668h1M159 669h1M162 669h1M164 669h1M173 669h1M176 669h2M158 670h1M162 670h1M169 670h2M178 670h1M180 670h2M158 671h1M162 671h2M178 671h1M159 672h1M161 672h1M163 672h2M167 672h1M170 672h1M175 672h2M180 672h1M160 673h1M164 673h1M167 673h2M170 673h1M180 673h2M159 674h1M161 674h2M166 674h1M168 674h1M173 674h2M161 675h1M164 675h1M167 675h1M172 675h1M165 676h1M169 676h1M172 676h1M177 676h2M162 677h1M164 677h1M166 677h2M180 677h1M159 678h1M161 678h1M163 678h1M165 678h2M168 678h2M173 678h2M178 678h4M162 679h1M164 679h1M168 679h1M178 679h3M158 680h2M168 680h1M171 680h1M175 680h1M177 680h2M158 681h1M160 681h2M168 681h1M173 681h1M178 681h1M181 681h1M171 682h1M177 682h3M163 683h1M167 683h2M170 683h1M172 683h1M158 684h1M172 684h1M175 684h1M178 684h1M180 684h1M160 685h1M162 685h2M167 685h1M178 686h1M158 687h2M180 687h1M161 688h2M173 688h1M177 688h2M168 689h1M170 689h2M164 690h1M170 690h1M178 690h1M169 691h1M158 692h1M160 692h1M162 692h1M175 692h1M178 692h1M166 693h1M178 693h1M176 696h1M181 696h1M159 711h1M167 711h2M181 711h1M158 712h1M164 712h1M170 712h1M179 712h1M159 713h2M162 713h1M165 713h1M169 713h2M172 713h2M177 713h4M158 714h1M160 714h1M163 714h1M173 714h1M175 714h3M180 714h1M158 715h3M177 715h1M179 715h2" stroke="#9494f0" stroke-width="1" fill="none" transform="translate(0 0.5)"/>
<path d="M77 661h1M84 661h1M91 661h1M95 661h1M99 661h1M75 715h1M83 715h1M85 715h2M92 715h2M97 715h1M76 716h2M79 716h1M82 716h2M86 716h1M91 716h1M94 716h2M79 717h1M115 659h1M106 664h1M121 664h1M104 665h1M108 665h1M103 666h1M105 666h1M108 666h1M112 666h4M123 666h1M126 666h2M102 667h1M104 667h1M108 667h3M112 667h1M114 667h3M119 667h1M123 667h2M103 668h1M107 668h3M120 668h2M127 668h1M106 669h1M108 669h2M112 669h1M119 669h2M123 669h2M111 670h1M113 670h1M103 707h1M102 714h1M109 714h1M113 714h1M118 714h1M120 714h1M122 714h1M104 715h1M108 715h1M110 715h2M113 715h2M117 715h1M119 715h1M121 715h1M125 715h1M153 664h1M130 665h1M152 665h1M131 666h1M133 666h1M135 666h1M146 666h1M149 666h1M152 666h1M132 667h1M138 667h1M141 667h1M144 667h1M150 667h2M130 668h1M132 668h1M136 668h1M142 668h2M146 668h1M148 668h1M151 668h1M154 668h1M131 712h1M138 712h1M146 712h3M138 713h2M141 713h1M145 713h1M148 713h2M153 713h1M131 714h1M140 714h1M164 667h1M162 668h1M160 670h1M166 670h1M159 671h1M169 671h1M158 673h1M169 673h1M171 673h2M174 673h2M160 674h1M165 674h1M169 674h1M171 674h1M180 674h1M162 675h1M165 675h1M159 676h1M173 676h1M176 676h1M181 676h1M161 677h1M163 677h1M169 677h1M173 677h1M160 678h1M167 678h1M171 678h1M175 678h3M163 679h1M165 679h1M172 679h4M177 679h1M162 680h2M165 680h2M170 680h1M173 680h1M179 680h1M181 680h1M159 681h1M162 681h1M165 681h1M167 681h1M170 681h1M172 681h1M159 682h1M164 682h3M172 682h3M180 682h1M159 683h1M162 683h1M164 683h1M169 683h1M171 683h1M173 683h1M175 683h2M178 683h1M180 683h1M162 684h1M167 684h1M170 684h1M181 684h1M159 685h1M165 685h2M169 685h1M172 685h1M175 685h1M178 685h2M181 685h1M160 686h2M166 686h2M172 686h2M175 686h2M180 686h2M160 687h2M164 687h3M175 687h3M179 687h1M158 688h1M163 688h2M170 688h2M175 688h2M179 688h2M158 689h1M163 689h1M165 689h2M169 689h1M173 689h1M177 689h3M158 690h1M162 690h1M167 690h1M169 690h1M173 690h2M177 690h1M180 690h1M159 691h1M161 691h1M167 691h2M170 691h1M173 691h1M175 691h1M180 691h2M166 692h1M168 692h4M180 692h1M167 693h1M172 693h1M162 694h1M177 694h1M180 694h1M161 696h1M167 696h2M174 699h1M179 702h1M164 704h1M180 704h1M174 705h2M180 706h1M160 708h1M165 708h1M181 709h1M158 711h1M161 711h1M164 711h1M170 711h1M175 711h1M178 711h2M159 712h4M166 712h1M168 712h1M172 712h1M176 712h2M180 712h1M158 713h1M163 713h1M166 713h1M174 713h1M168 714h1M171 714h1" stroke="#6464ec" stroke-width="1" fill="none" transform="translate(0 0.5)"/>
<path d="M78 661h1M86 661h1M77 662h1M79 662h3M84 662h1M89 662h1M93 662h1M95 662h1M97 662h1M78 665h1M88 665h1M91 666h1M94 666h1M98 669h2M87 674h1M93 675h1M96 676h1M78 677h1M96 677h1M79 678h1M90 678h2M93 678h1M77 679h1M90 680h1M80 681h1M94 682h1M81 683h1M92 685h1M82 686h1M85 686h1M90 686h1M90 687h1M96 687h1M76 689h1M89 690h1M75 691h1M81 694h1M98 695h1M99 697h1M85 698h1M91 704h1M93 704h1M97 705h1M75 706h1M87 706h2M90 708h1M87 711h1M89 711h1M93 711h1M85 712h1M82 713h1M75 714h1M86 714h1M79 715h1M81 715h1M89 715h3M94 715h1M96 715h1M98 715h1M84 716h1M113 664h1M124 664h1M111 665h1M113 665h1M104 666h1M107 666h1M111 666h1M117 666h1M121 666h1M106 667h2M111 667h1M118 667h1M120 667h1M122 667h1M102 668h1M105 668h2M110 668h1M118 668h1M122 668h2M125 668h1M102 669h1M105 669h1M107 669h1M110 669h1M117 669h1M121 669h1M125 669h2M103 670h1M112 670h1M116 670h1M121 670h1M119 671h1M111 672h1M113 672h1M123 674h1M102 675h1M106 676h1M106 677h1M115 679h1M126 679h1M118 680h1M102 681h1M108 684h1M110 684h1M123 684h1M107 687h1M124 689h1M121 691h1M103 692h1M119 692h1M127 692h1M120 693h1M124 693h1M127 693h1M109 695h1M115 696h1M116 698h1M116 701h1M107 703h1M110 703h1M105 706h1M105 707h1M121 708h1M119 709h1M102 710h1M113 710h1M105 711h1M111 712h1M103 714h3M107 714h2M115 714h2M119 714h1M124 714h1M126 714h1M105 715h1M107 715h1M127 715h1M133 667h3M146 667h1M149 667h1M131 668h1M133 668h1M135 668h1M139 668h2M147 668h1M152 668h2M132 669h1M143 669h1M146 669h5M144 670h1M148 671h1M152 671h1M154 671h1M132 673h1M134 673h1M147 674h1M151 675h1M135 676h1M146 678h1M137 679h1M140 679h1M148 680h1M143 681h1M146 683h2M133 684h1M151 684h1M131 685h1M133 686h1M154 687h1M141 688h1M139 689h1M153 691h1M133 692h1M136 692h1M152 694h1M136 699h1M133 701h1M142 701h1M136 702h1M133 703h1M141 703h1M140 705h1M136 707h1M142 710h1M144 711h1M146 711h1M132 712h1M134 712h1M137 712h1M139 712h2M144 712h2M150 712h4M137 713h1M140 713h1M142 713h1M144 713h1M175 671h1M158 675h1M179 676h1M158 677h1M160 677h1M172 677h1M174 677h2M177 677h1M158 678h1M170 678h1M161 679h1M161 680h1M164 680h1M167 680h1M172 680h1M166 681h1M169 681h1M175 681h3M180 681h1M161 682h2M169 682h1M176 682h1M158 683h1M166 683h1M177 683h1M179 683h1M165 684h1M168 684h2M173 684h1M176 684h2M179 684h1M158 685h1M168 685h1M170 685h1M174 685h1M176 685h2M180 685h1M163 686h3M168 686h1M170 686h1M177 686h1M163 687h1M167 687h2M171 687h2M174 687h1M178 687h1M181 687h1M159 688h1M166 688h2M172 688h1M181 688h1M159 689h2M162 689h1M167 689h1M172 689h1M176 689h1M159 690h3M163 690h1M166 690h1M171 690h2M175 690h2M179 690h1M162 691h5M171 691h2M174 691h1M176 691h2M161 692h1M163 692h3M167 692h1M174 692h1M176 692h2M181 692h1M158 693h4M165 693h1M168 693h1M171 693h1M173 693h2M177 693h1M179 693h1M181 693h1M165 694h2M168 694h3M172 694h2M175 694h2M178 694h2M163 695h1M165 695h2M169 695h1M172 695h1M174 695h1M176 695h1M179 695h2M162 696h1M164 696h2M172 696h1M174 696h1M177 696h1M179 696h1M161 697h1M170 697h2M176 697h3M159 698h1M163 698h1M171 698h1M173 698h1M178 698h2M158 699h1M160 699h2M169 699h1M171 699h1M176 699h2M181 699h1M159 700h1M162 700h1M165 700h1M170 700h1M172 700h1M174 700h3M178 700h1M181 700h1M159 701h1M162 701h1M173 701h2M176 701h2M181 701h1M160 702h1M168 702h1M180 702h1M162 703h1M167 703h2M172 703h1M181 703h1M161 704h3M165 704h1M170 704h1M175 704h1M167 705h2M170 705h3M180 705h1M162 706h1M165 706h5M172 706h2M175 706h3M181 706h1M159 707h1M162 707h1M164 707h1M168 707h1M171 707h3M175 707h1M178 707h4M158 708h2M163 708h2M167 708h1M173 708h1M176 708h1M181 708h1M158 709h1M164 709h3M169 709h3M173 709h2M177 709h3M161 710h3M166 710h1M169 710h1M171 710h2M174 710h1M176 710h2M179 710h1M181 710h1M160 711h1M162 711h2M165 711h1M172 711h1M174 711h1M176 711h2M180 711h1M167 712h1M171 712h1M173 712h2" stroke="#3a3ae6" stroke-width="1" fill="none" transform="translate(0 0.5)"/>
<path d="M75 662h2M99 662h1M76 663h1M82 663h2M85 663h2M89 663h1M91 663h1M94 663h1M97 663h1M99 663h1M76 664h1M86 664h1M98 664h1M76 665h1M89 665h1M95 665h1M98 665h2M76 666h1M87 666h1M89 666h1M92 666h1M98 666h1M75 667h1M79 667h1M86 667h2M90 667h1M93 667h1M95 667h1M97 667h1M99 667h1M77 668h2M83 668h1M89 668h1M98 668h1M76 669h1M84 669h1M87 669h1M94 669h1M78 670h1M93 670h3M98 670h1M76 671h2M80 671h3M84 671h1M86 671h1M91 671h1M94 671h1M79 672h2M92 672h1M99 672h1M75 673h2M78 673h2M83 673h1M85 673h3M94 673h1M96 673h1M76 674h1M78 674h1M82 674h1M90 674h1M96 674h1M80 675h2M96 675h1M76 676h1M85 676h1M90 676h1M92 676h1M76 677h1M79 677h1M83 677h1M90 677h1M92 677h1M97 677h1M99 677h1M88 678h1M96 678h1M98 678h1M75 679h2M80 679h1M82 679h1M88 679h1M94 679h1M98 679h1M75 680h3M82 680h1M85 680h1M87 680h2M92 680h1M99 680h1M78 681h1M81 681h1M85 681h1M88 681h1M92 681h1M99 681h1M77 682h1M79 682h2M85 682h2M88 682h1M92 682h1M95 682h1M98 682h2M76 683h1M83 683h1M88 683h1M90 683h1M96 683h1M86 684h1M90 684h1M92 684h1M95 684h1M79 685h1M89 685h2M94 685h1M96 685h1M77 686h1M84 686h1M89 686h1M95 686h2M98 686h1M75 687h1M82 687h1M97 687h1M82 688h3M91 688h1M94 688h1M77 689h1M82 689h1M86 689h1M88 689h2M94 689h1M98 689h1M79 690h1M81 690h1M84 690h1M90 690h2M93 690h1M79 691h3M87 691h2M90 691h1M93 691h1M95 691h1M97 691h1M81 692h3M88 692h1M90 692h1M92 692h1M95 692h1M97 692h1M77 693h2M82 693h1M86 693h1M94 693h1M97 693h1M83 694h1M89 694h1M96 694h1M79 695h1M84 695h1M87 695h3M93 695h1M96 695h1M77 696h2M84 696h2M90 696h1M95 696h1M98 696h1M75 697h1M85 697h2M90 697h1M93 697h1M75 698h1M86 698h1M90 698h4M97 698h1M75 699h1M88 699h1M90 699h1M93 699h1M95 699h1M75 700h2M79 700h1M84 700h1M95 700h1M97 700h1M76 701h1M80 701h1M84 701h1M88 701h1M90 701h1M93 701h1M98 701h1M76 702h1M78 702h1M84 702h1M86 702h1M88 702h1M91 702h1M95 702h1M78 703h1M82 703h1M95 703h1M98 703h1M76 704h1M81 704h2M87 704h2M92 704h1M94 704h1M97 704h1M99 704h1M76 705h1M80 705h1M90 705h1M95 705h2M98 705h1M76 706h1M78 706h2M83 706h2M89 706h1M96 706h1M99 706h1M78 707h1M80 707h2M88 707h1M97 707h2M76 708h1M78 708h1M80 708h1M82 708h1M85 708h1M87 708h1M99 708h1M76 709h2M81 709h2M92 709h1M94 709h1M75 710h1M86 710h1M89 710h2M92 710h1M97 710h1M80 711h1M84 711h1M76 712h2M80 712h1M83 712h1M87 712h1M93 712h1M95 712h1M78 713h1M80 713h1M84 713h1M88 713h1M93 713h2M76 714h1M94 714h2M98 714h1M93 716h1M97 716h1M107 670h1M125 670h1M127 670h1M106 671h1M108 671h2M113 671h1M121 671h1M123 671h2M109 672h2M114 672h1M116 672h2M123 672h2M103 673h2M108 673h2M120 673h1M123 673h3M127 673h1M107 674h1M109 674h1M112 674h1M114 674h1M118 674h1M124 674h1M105 675h2M110 675h2M113 675h1M115 675h1M122 675h1M125 675h1M127 675h1M104 676h1M110 676h2M120 676h1M107 677h2M114 677h1M116 677h1M120 677h1M126 677h2M103 678h1M111 678h1M114 678h2M121 678h3M102 679h1M104 679h1M107 679h1M111 679h2M105 680h1M108 680h1M110 680h3M114 680h1M116 680h1M122 680h1M103 681h1M110 681h1M113 681h1M117 681h1M119 681h1M123 681h1M102 682h1M104 682h1M110 682h1M116 682h3M127 682h1M107 683h1M109 683h3M121 683h2M104 684h1M109 684h1M113 684h1M115 684h1M124 684h1M126 684h1M104 685h1M110 685h1M113 685h2M117 685h1M119 685h1M122 685h1M124 685h1M127 685h1M107 686h1M110 686h1M121 686h1M124 686h1M126 686h1M102 687h1M106 687h1M108 687h2M115 687h1M120 687h2M123 687h1M103 688h1M107 688h3M112 688h1M114 688h1M117 688h1M103 689h1M105 689h2M109 689h1M123 689h1M126 689h1M103 690h1M112 690h1M119 690h3M123 690h2M103 691h1M108 691h3M119 691h1M104 692h1M116 692h1M123 692h1M126 692h1M111 693h1M113 693h1M122 693h2M105 694h1M112 694h1M114 694h1M121 694h1M124 694h3M114 695h1M116 695h1M123 695h1M125 695h1M106 696h2M112 696h1M114 696h1M122 696h1M124 696h1M126 696h2M102 697h1M105 697h2M113 697h1M115 697h1M118 697h1M102 698h2M110 698h1M113 698h1M121 698h1M108 699h2M111 699h1M116 699h4M127 699h1M105 700h1M107 700h2M113 700h1M116 700h1M119 700h2M122 700h1M102 701h1M111 701h1M117 701h1M121 701h1M126 701h1M107 702h1M110 702h1M113 702h1M115 702h2M119 702h1M106 703h1M112 703h1M115 703h2M104 704h1M106 704h1M115 704h1M127 704h1M104 705h1M106 705h1M111 705h1M116 705h1M124 705h1M103 706h2M106 706h1M108 706h2M113 706h1M119 706h1M122 706h1M104 707h1M106 707h2M109 707h1M113 707h1M116 707h1M119 707h1M122 707h1M108 708h1M118 708h3M124 708h1M106 709h2M122 709h1M110 710h1M112 710h1M115 710h2M125 710h1M104 711h1M110 711h1M114 711h1M116 711h1M121 711h1M127 711h1M105 712h1M120 712h1M103 713h1M111 713h1M114 713h1M122 713h2M125 714h1M137 669h1M141 669h1M152 669h1M131 670h1M133 670h2M136 670h1M138 670h3M145 670h1M148 670h2M153 670h1M136 671h2M142 671h1M151 671h1M134 672h1M136 672h1M139 672h1M141 672h2M146 672h1M137 673h1M139 673h1M141 673h1M147 673h1M149 673h1M151 673h1M154 673h1M134 674h2M138 674h1M142 674h1M145 674h2M151 674h1M141 675h1M149 675h2M132 676h1M139 676h2M142 676h1M144 676h3M150 676h2M132 677h3M136 677h2M140 677h2M146 677h1M148 677h1M152 677h1M133 678h1M138 678h1M141 678h1M143 678h1M150 678h1M131 679h1M133 679h1M141 679h2M145 679h1M147 679h2M151 679h3M130 680h1M140 680h1M142 680h1M145 680h1M152 680h1M154 680h1M130 681h1M133 681h1M136 681h1M148 681h2M152 681h1M154 681h1M132 682h1M134 682h2M139 682h1M142 682h1M146 682h1M152 682h1M130 683h1M135 683h2M138 683h1M145 683h1M149 683h1M151 683h1M153 683h1M132 684h1M136 684h2M139 684h1M142 684h1M149 684h1M152 684h1M133 685h1M135 685h1M139 685h1M141 685h1M145 685h1M148 685h1M151 685h2M154 685h1M131 686h2M137 686h2M142 686h2M149 686h1M151 686h1M138 687h1M140 687h2M147 687h1M150 687h2M130 688h1M144 688h3M134 689h1M137 689h1M144 689h1M146 689h1M154 689h1M136 690h1M139 690h1M149 690h1M153 690h1M130 691h1M132 691h3M136 691h1M139 691h1M141 691h1M143 691h1M148 691h1M134 692h1M139 692h1M149 692h2M154 692h1M133 693h1M136 693h1M139 693h1M144 693h1M147 693h6M134 694h2M141 694h2M149 694h1M151 694h1M137 695h2M145 695h1M147 695h1M149 695h1M154 695h1M133 696h1M140 696h2M145 696h1M147 696h1M152 696h2M130 697h1M133 697h1M139 697h2M143 697h1M146 697h1M149 697h1M151 697h1M154 697h1M131 698h1M133 698h1M141 698h1M143 698h1M149 698h1M151 698h1M132 699h1M134 699h2M139 699h1M145 699h1M149 699h1M151 699h1M133 700h1M136 700h1M142 700h2M149 700h1M152 700h1M154 700h1M137 701h2M143 701h1M147 701h1M151 701h1M135 702h1M141 702h1M144 702h1M130 703h1M132 703h1M139 703h1M145 703h1M148 703h1M154 703h1M131 704h1M138 704h2M141 704h1M143 704h1M146 704h1M149 704h1M154 704h1M137 705h1M139 705h1M145 705h1M151 705h1M134 706h2M141 706h1M154 706h1M132 707h2M135 707h1M142 707h1M146 707h1M149 707h1M152 707h1M130 708h1M144 708h1M147 708h1M152 708h1M131 709h2M142 709h1M145 709h1M147 709h1M149 709h1M154 709h1M132 710h3M137 710h1M141 710h1M130 711h1M148 711h2M160 688h1M160 691h1M158 694h1M161 694h1M173 695h1M159 696h1M160 697h1M180 697h1M167 698h1M165 699h1M168 699h1M173 699h1M161 700h1M177 700h1M171 701h1M179 701h1M161 703h1M166 703h1M174 703h1M178 703h1M177 704h1M161 706h1M179 706h1M160 707h1M171 711h1" stroke="#0c0cb8" stroke-width="1" fill="none" transform="translate(0 0.5)"/>
<path d="M78 662h1M82 662h2M85 662h4M90 662h3M94 662h1M96 662h1M98 662h1M75 663h1M77 663h5M84 663h1M87 663h2M90 663h1M92 663h2M95 663h2M98 663h1M75 664h1M77 664h9M87 664h11M99 664h1M75 665h1M77 665h1M79 665h9M90 665h5M96 665h2M75 666h1M77 666h10M88 666h1M90 666h1M93 666h1M95 666h3M99 666h1M76 667h3M80 667h6M88 667h2M91 667h2M94 667h1M96 667h1M98 667h1M75 668h2M79 668h4M84 668h5M90 668h8M99 668h1M75 669h1M77 669h7M85 669h2M88 669h6M95 669h3M75 670h3M79 670h14M96 670h2M99 670h1M75 671h1M78 671h2M83 671h1M85 671h1M87 671h4M92 671h2M95 671h5M75 672h4M81 672h11M93 672h6M77 673h1M80 673h3M84 673h1M88 673h6M95 673h1M97 673h3M75 674h1M77 674h1M79 674h3M83 674h4M88 674h2M91 674h5M97 674h3M75 675h5M82 675h11M94 675h2M97 675h3M75 676h1M77 676h8M86 676h4M91 676h1M93 676h3M97 676h3M75 677h1M77 677h1M80 677h3M84 677h6M91 677h1M93 677h3M98 677h1M75 678h4M80 678h8M89 678h1M92 678h1M94 678h2M97 678h1M99 678h1M78 679h2M81 679h1M83 679h5M89 679h5M95 679h3M99 679h1M78 680h4M83 680h2M86 680h1M89 680h1M91 680h1M93 680h6M75 681h3M79 681h1M82 681h3M86 681h2M89 681h3M93 681h6M75 682h2M78 682h1M81 682h4M87 682h1M89 682h3M93 682h1M96 682h2M75 683h1M77 683h4M82 683h1M84 683h4M89 683h1M91 683h5M97 683h3M75 684h11M87 684h3M91 684h1M93 684h2M96 684h4M75 685h4M80 685h9M91 685h1M93 685h1M95 685h1M97 685h3M75 686h2M78 686h4M83 686h1M86 686h3M91 686h4M97 686h1M99 686h1M76 687h6M83 687h7M91 687h5M98 687h2M75 688h7M85 688h6M92 688h2M95 688h5M75 689h1M78 689h4M83 689h3M87 689h1M90 689h4M95 689h3M99 689h1M75 690h4M80 690h1M82 690h2M85 690h4M92 690h1M94 690h6M76 691h3M82 691h5M89 691h1M91 691h2M94 691h1M96 691h1M98 691h2M75 692h6M84 692h4M89 692h1M91 692h1M93 692h2M96 692h1M98 692h2M75 693h2M79 693h3M83 693h3M87 693h7M95 693h2M98 693h2M75 694h6M82 694h1M84 694h5M90 694h6M97 694h3M75 695h4M80 695h4M85 695h2M90 695h3M94 695h2M97 695h1M99 695h1M75 696h2M79 696h5M86 696h4M91 696h4M96 696h2M99 696h1M76 697h9M87 697h3M91 697h2M94 697h5M76 698h9M87 698h3M94 698h3M98 698h2M76 699h12M89 699h1M91 699h2M94 699h1M96 699h4M77 700h2M80 700h4M85 700h10M96 700h1M98 700h2M75 701h1M77 701h3M81 701h3M85 701h3M89 701h1M91 701h2M94 701h4M99 701h1M75 702h1M77 702h1M79 702h5M85 702h1M87 702h1M89 702h2M92 702h3M96 702h4M75 703h3M79 703h3M83 703h12M96 703h2M99 703h1M75 704h1M77 704h4M83 704h4M89 704h2M95 704h2M98 704h1M75 705h1M77 705h3M81 705h9M91 705h4M99 705h1M77 706h1M80 706h3M85 706h2M90 706h6M97 706h2M75 707h3M79 707h1M82 707h6M89 707h8M99 707h1M75 708h1M77 708h1M79 708h1M81 708h1M83 708h2M86 708h1M88 708h2M91 708h8M75 709h1M78 709h3M83 709h9M93 709h1M95 709h5M76 710h10M87 710h2M91 710h1M93 710h4M98 710h2M75 711h5M81 711h3M85 711h2M88 711h1M90 711h3M94 711h6M75 712h1M78 712h2M81 712h2M84 712h1M86 712h1M88 712h5M94 712h1M96 712h4M75 713h3M79 713h1M81 713h1M83 713h1M85 713h3M89 713h4M95 713h5M77 714h9M87 714h7M96 714h2M99 714h1M76 715h3M84 715h1M88 715h1M95 715h1M99 715h1M116 666h1M104 668h1M112 668h2M115 668h3M119 668h1M126 668h1M103 669h1M111 669h1M113 669h4M118 669h1M122 669h1M127 669h1M102 670h1M104 670h3M108 670h3M114 670h2M117 670h4M122 670h3M126 670h1M102 671h4M107 671h1M110 671h3M114 671h5M120 671h1M122 671h1M125 671h3M102 672h7M112 672h1M115 672h1M118 672h5M125 672h3M102 673h1M105 673h3M110 673h10M121 673h2M126 673h1M102 674h5M108 674h1M110 674h2M113 674h1M115 674h3M119 674h4M125 674h3M103 675h2M107 675h3M112 675h1M114 675h1M116 675h6M123 675h2M126 675h1M102 676h2M105 676h1M107 676h3M112 676h8M121 676h7M102 677h4M109 677h5M115 677h1M117 677h3M121 677h5M102 678h1M104 678h7M112 678h2M116 678h5M124 678h4M103 679h1M105 679h2M108 679h3M113 679h2M116 679h10M127 679h1M102 680h3M106 680h2M109 680h1M113 680h1M115 680h1M117 680h1M119 680h3M123 680h5M104 681h6M111 681h2M114 681h3M118 681h1M120 681h3M124 681h4M103 682h1M105 682h5M111 682h5M119 682h8M102 683h5M108 683h1M112 683h9M123 683h5M102 684h2M105 684h3M111 684h2M114 684h1M116 684h7M125 684h1M127 684h1M102 685h2M105 685h5M111 685h2M115 685h2M118 685h1M120 685h2M123 685h1M125 685h2M102 686h5M108 686h2M111 686h10M122 686h2M125 686h1M127 686h1M103 687h3M110 687h5M116 687h4M122 687h1M124 687h4M102 688h1M104 688h3M110 688h2M113 688h1M115 688h2M118 688h10M102 689h1M104 689h1M107 689h2M110 689h13M125 689h1M127 689h1M102 690h1M104 690h8M113 690h6M122 690h1M125 690h3M102 691h1M104 691h4M111 691h8M120 691h1M122 691h6M102 692h1M105 692h11M117 692h2M120 692h3M124 692h2M102 693h9M112 693h1M114 693h6M121 693h1M125 693h2M102 694h3M106 694h6M113 694h1M115 694h6M122 694h2M127 694h1M102 695h7M110 695h4M115 695h1M117 695h6M124 695h1M126 695h2M102 696h4M108 696h4M113 696h1M116 696h6M123 696h1M125 696h1M103 697h2M107 697h6M114 697h1M116 697h2M119 697h9M104 698h6M111 698h2M114 698h2M117 698h4M122 698h6M102 699h6M110 699h1M112 699h4M120 699h7M102 700h3M106 700h1M109 700h4M114 700h2M117 700h2M121 700h1M123 700h5M103 701h8M112 701h4M118 701h3M122 701h4M127 701h1M102 702h5M108 702h2M111 702h2M114 702h1M117 702h2M120 702h8M102 703h4M108 703h2M111 703h1M113 703h2M117 703h11M102 704h2M105 704h1M107 704h8M116 704h11M102 705h2M105 705h1M107 705h4M112 705h4M117 705h7M125 705h3M102 706h1M107 706h1M110 706h3M114 706h5M120 706h2M123 706h5M102 707h1M108 707h1M110 707h3M114 707h2M117 707h2M120 707h2M123 707h5M102 708h6M109 708h9M122 708h2M125 708h3M102 709h4M108 709h11M120 709h2M123 709h5M103 710h7M111 710h1M114 710h1M117 710h8M126 710h2M102 711h2M106 711h4M111 711h3M115 711h1M117 711h4M122 711h5M102 712h3M106 712h5M112 712h8M121 712h7M102 713h1M104 713h7M112 713h2M115 713h7M124 713h4M110 714h3M114 714h1M121 714h1M123 714h1M127 714h1M134 668h1M137 668h1M141 668h1M144 668h2M150 668h1M130 669h2M133 669h4M138 669h3M142 669h1M144 669h2M151 669h1M153 669h2M130 670h1M132 670h1M135 670h1M137 670h1M141 670h3M146 670h2M150 670h3M154 670h1M130 671h6M138 671h4M143 671h5M149 671h2M153 671h1M130 672h4M135 672h1M137 672h2M140 672h1M143 672h3M147 672h8M130 673h2M133 673h1M135 673h2M138 673h1M140 673h1M142 673h5M148 673h1M150 673h1M152 673h2M130 674h4M136 674h2M139 674h3M143 674h2M148 674h3M152 674h3M130 675h11M142 675h7M152 675h3M130 676h2M133 676h2M136 676h3M141 676h1M143 676h1M147 676h3M152 676h3M130 677h2M135 677h1M138 677h2M142 677h4M147 677h1M149 677h3M153 677h2M130 678h3M134 678h4M139 678h2M142 678h1M144 678h2M147 678h3M151 678h4M130 679h1M132 679h1M134 679h3M138 679h2M143 679h2M146 679h1M149 679h2M154 679h1M131 680h9M141 680h1M143 680h2M146 680h2M149 680h3M153 680h1M131 681h2M134 681h2M137 681h6M144 681h4M150 681h2M153 681h1M130 682h2M133 682h1M136 682h3M140 682h2M143 682h3M147 682h5M153 682h2M131 683h4M137 683h1M139 683h6M148 683h1M150 683h1M152 683h1M154 683h1M130 684h2M134 684h2M138 684h1M140 684h2M143 684h6M150 684h1M153 684h2M130 685h1M132 685h1M134 685h1M136 685h3M140 685h1M142 685h3M146 685h2M149 685h2M153 685h1M130 686h1M134 686h3M139 686h3M144 686h5M150 686h1M152 686h3M130 687h8M139 687h1M142 687h5M148 687h2M152 687h2M131 688h10M142 688h2M147 688h8M130 689h4M135 689h2M138 689h1M140 689h4M145 689h1M147 689h7M130 690h6M137 690h2M140 690h9M150 690h3M154 690h1M131 691h1M135 691h1M137 691h2M140 691h1M142 691h1M144 691h4M149 691h4M154 691h1M130 692h3M135 692h1M137 692h2M140 692h9M151 692h3M130 693h3M134 693h2M137 693h2M140 693h4M145 693h2M153 693h2M130 694h4M136 694h5M143 694h6M150 694h1M153 694h2M130 695h7M139 695h6M146 695h1M148 695h1M150 695h4M130 696h3M134 696h6M142 696h3M146 696h1M148 696h4M154 696h1M131 697h2M134 697h5M141 697h2M144 697h2M147 697h2M150 697h1M152 697h2M130 698h1M132 698h1M134 698h7M142 698h1M144 698h5M150 698h1M152 698h3M130 699h2M133 699h1M137 699h2M140 699h5M146 699h3M150 699h1M152 699h3M130 700h3M134 700h2M137 700h5M144 700h5M150 700h2M153 700h1M130 701h3M134 701h3M139 701h3M144 701h3M148 701h3M152 701h3M130 702h5M137 702h4M142 702h2M145 702h10M131 703h1M134 703h5M140 703h1M142 703h3M146 703h2M149 703h5M130 704h1M132 704h6M140 704h1M142 704h1M144 704h2M147 704h2M150 704h4M130 705h7M138 705h1M141 705h4M146 705h5M152 705h3M130 706h4M136 706h5M142 706h12M130 707h2M134 707h1M137 707h5M143 707h3M147 707h2M150 707h2M153 707h2M131 708h13M145 708h2M148 708h4M153 708h2M130 709h1M133 709h9M143 709h2M146 709h1M148 709h1M150 709h4M130 710h2M135 710h2M138 710h3M143 710h12M131 711h13M145 711h1M147 711h1M150 711h5M130 712h1M133 712h1M135 712h2M141 712h1M143 712h1M149 712h1M154 712h1M172 678h1M180 680h1M171 681h1M175 682h1M181 682h1M181 683h1M174 684h1M161 685h1M173 685h1M158 686h2M162 686h1M171 686h1M174 686h1M169 687h1M165 688h1M168 688h1M174 688h1M161 689h1M164 689h1M174 689h2M180 689h1M165 690h1M168 690h1M181 690h1M158 691h1M178 691h2M159 692h1M172 692h2M179 692h1M162 693h3M169 693h2M175 693h2M159 694h2M163 694h2M167 694h1M171 694h1M174 694h1M181 694h1M158 695h5M164 695h1M167 695h2M170 695h2M175 695h1M177 695h2M181 695h1M158 696h1M160 696h1M163 696h1M166 696h1M169 696h3M173 696h1M175 696h1M178 696h1M180 696h1M158 697h2M162 697h8M172 697h4M179 697h1M181 697h1M158 698h1M160 698h3M164 698h3M168 698h3M172 698h1M174 698h4M180 698h2M159 699h1M162 699h3M166 699h2M170 699h1M172 699h1M175 699h1M178 699h3M158 700h1M160 700h1M163 700h2M166 700h4M171 700h1M173 700h1M179 700h2M158 701h1M160 701h2M163 701h8M172 701h1M175 701h1M178 701h1M180 701h1M158 702h2M161 702h7M169 702h10M181 702h1M158 703h3M163 703h3M169 703h3M173 703h1M175 703h3M179 703h2M158 704h3M166 704h4M171 704h4M176 704h1M178 704h2M181 704h1M158 705h9M169 705h1M173 705h1M176 705h4M181 705h1M158 706h3M163 706h2M170 706h2M174 706h1M178 706h1M158 707h1M161 707h1M163 707h1M165 707h3M169 707h2M174 707h1M176 707h2M161 708h2M166 708h1M168 708h5M174 708h2M177 708h4M159 709h5M167 709h2M172 709h1M175 709h2M180 709h1M158 710h3M164 710h2M167 710h2M170 710h1M173 710h1M175 710h1M178 710h1M180 710h1M166 711h1M169 711h1M181 712h1M171 713h1" stroke="#1c1ce8" stroke-width="1" fill="none" transform="translate(0 0.5)"/>
<g clip-path="url(#f1)">
<path d="M77.2 686H99.4V699H77.2Z" fill="#18f0f0"/>
<path d="M80.60 667.70H94.50A5.00 5.00 0 0 1 99.50 672.70V684.00A5.00 5.00 0 0 1 94.50 689.00H80.60A5.00 5.00 0 0 1 75.60 684.00V672.70A5.00 5.00 0 0 1 80.60 667.70Z" fill="#30e830"/>
<path d="M80.50 669.60H94.80A4.00 4.00 0 0 1 98.80 673.60V682.00A4.00 4.00 0 0 1 94.80 686.00H80.50A4.00 4.00 0 0 1 76.50 682.00V673.60A4.00 4.00 0 0 1 80.50 669.60Z" fill="#f4f41c"/>
<path d="M81.90 673.50H93.70A3.00 2.50 0 0 1 96.70 676.00V679.10A3.00 2.50 0 0 1 93.70 681.60H81.90A3.00 2.50 0 0 1 78.90 679.10V676.00A3.00 2.50 0 0 1 81.90 673.50Z" fill="#ff4010"/>
<path d="M80.60 697.00H94.50A5.00 5.00 0 0 1 99.50 702.00V706.30A5.00 5.00 0 0 1 94.50 711.30H80.60A5.00 5.00 0 0 1 75.60 706.30V702.00A5.00 5.00 0 0 1 80.60 697.00Z" fill="#30e830"/>
<path d="M80.90 699.00H94.40A4.50 4.00 0 0 1 98.90 703.00V705.70A4.50 4.00 0 0 1 94.40 709.70H80.90A4.50 4.00 0 0 1 76.40 705.70V703.00A4.50 4.00 0 0 1 80.90 699.00Z" fill="#f4f41c"/>
<path d="M81.30 701.30H94.70A3.50 3.40 0 0 1 98.20 704.70V704.80A3.50 3.40 0 0 1 94.70 708.20H81.30A3.50 3.40 0 0 1 77.80 704.80V704.70A3.50 3.40 0 0 1 81.30 701.30Z" fill="#f81010"/>
</g>
<g clip-path="url(#f2)">
<path d="M106.30 673.30H123.80A4.00 4.00 0 0 1 127.80 677.30V707.60A4.00 4.00 0 0 1 123.80 711.60H106.30A4.00 4.00 0 0 1 102.30 707.60V677.30A4.00 4.00 0 0 1 106.30 673.30Z" fill="#18f0f0"/>
<path d="M106.50 674.70H123.60A4.00 4.00 0 0 1 127.60 678.70V706.90A4.00 4.00 0 0 1 123.60 710.90H106.50A4.00 4.00 0 0 1 102.50 706.90V678.70A4.00 4.00 0 0 1 106.50 674.70Z" fill="#30e830"/>
<path d="M107.10 677.40H123.00A4.00 4.00 0 0 1 127.00 681.40V705.70A4.00 4.00 0 0 1 123.00 709.70H107.10A4.00 4.00 0 0 1 103.10 705.70V681.40A4.00 4.00 0 0 1 107.10 677.40Z" fill="#f4f41c"/>
<path d="M106.9 686.3C106.9 684.3 108 683.9 115.4 683.9C122.8 683.9 123.9 684.3 123.9 686.3L125.1 695.5V696.5H105.8V695.5Z" fill="#ff4010"/>
<path d="M105.8 695.1H125.1L126.6 700V705.3C126.6 707.7 125.5 708.2 115 708.2C104.5 708.2 103.1 707.7 103.1 705.3V700Z" fill="#f81010"/>
</g>
<g clip-path="url(#f3)">
<path d="M131.6 680C131.6 677.4 132.5 676.6 135 676.6H149C151.5 676.6 152.4 677.4 152.4 680V690L153.6 696V706C153.6 708.5 152 709.2 142 709.2C132 709.2 130.7 708.5 130.7 706V696L131.6 690Z" fill="#18f0f0"/>
<path d="M132.8 681C132.8 678.9 133.5 678.3 135.5 678.3H148.8C150.8 678.3 151.5 678.9 151.5 681V690L153 695V706C153 707.8 151.5 708.2 142 708.2C132.5 708.2 131.3 707.8 131.3 706V695L132.8 690Z" fill="#30e830"/>
<path d="M135.40 697.00H148.70A4.50 4.00 0 0 1 153.20 701.00V703.40A4.50 4.00 0 0 1 148.70 707.40H135.40A4.50 4.00 0 0 1 130.90 703.40V701.00A4.50 4.00 0 0 1 135.40 697.00Z" fill="#f4f41c"/>
<path d="M135.40 699.50H148.90A3.00 2.90 0 0 1 151.90 702.40V702.40A3.00 2.90 0 0 1 148.90 705.30H135.40A3.00 2.90 0 0 1 132.40 702.40V702.40A3.00 2.90 0 0 1 135.40 699.50Z" fill="#f8a810"/>
</g>
<g clip-path="url(#f4)">
<path d="M162.20 697.00H175.60A4.20 4.20 0 0 1 179.80 701.20V701.20A4.20 4.20 0 0 1 175.60 705.40H162.20A4.20 4.20 0 0 1 158.00 701.20V701.20A4.20 4.20 0 0 1 162.20 697.00Z" fill="#18f0f0"/>
</g>
</g>
<path d="M74.7 622V739.3H182.5" fill="none" stroke="#444" stroke-width="0.8"/>
<line x1="73.4" y1="628.8" x2="74.7" y2="628.8" stroke="#444" stroke-width="0.6"/>
<text transform="translate(71.6 628.8) rotate(-90)" font-size="3.4" font-weight="bold" fill="#333" text-anchor="middle">10<tspan font-size="2" dy="-1">5</tspan></text>
<line x1="73.4" y1="656" x2="74.7" y2="656" stroke="#444" stroke-width="0.6"/>
<text transform="translate(71.6 656) rotate(-90)" font-size="3.4" font-weight="bold" fill="#333" text-anchor="middle">10<tspan font-size="2" dy="-1">4</tspan></text>
<line x1="73.4" y1="685.8" x2="74.7" y2="685.8" stroke="#444" stroke-width="0.6"/>
<text transform="translate(71.6 685.8) rotate(-90)" font-size="3.4" font-weight="bold" fill="#333" text-anchor="middle">10<tspan font-size="2" dy="-1">3</tspan></text>
<line x1="73.4" y1="709.7" x2="74.7" y2="709.7" stroke="#444" stroke-width="0.6"/>
<text transform="translate(71.6 709.7) rotate(-90)" font-size="3.4" font-weight="bold" fill="#333" text-anchor="middle">0</text>
<line x1="73.4" y1="734" x2="74.7" y2="734" stroke="#444" stroke-width="0.6"/>
<text transform="translate(71.6 734) rotate(-90)" font-size="3.4" font-weight="bold" fill="#333" text-anchor="middle">-10<tspan font-size="1.8" dy="-1">3</tspan></text>
<text transform="translate(68.8 738.9) rotate(-90)" font-size="8" font-weight="bold" fill="#111" stroke="#111" stroke-width="0.25" textLength="54" lengthAdjust="spacingAndGlyphs">ALCAM (CD166)</text>
<text transform="translate(91.6 746.6) rotate(-47.5)" font-size="7.5" font-weight="bold" fill="#111" stroke="#111" stroke-width="0.28" text-anchor="end">Control</text>
<text transform="translate(117.4 748.2) rotate(-47.5)" font-size="7.5" font-weight="bold" fill="#111" stroke="#111" stroke-width="0.28" text-anchor="end">RPMI-8266 + BMSCs</text>
<text transform="translate(146.6 746.2) rotate(-47.5)" font-size="7.5" font-weight="bold" fill="#111" stroke="#111" stroke-width="0.28" text-anchor="end">RPMI-8266 + BMSCs + Chemo (24h)</text>
<text transform="translate(173.8 746.2) rotate(-47.5)" font-size="7.5" font-weight="bold" fill="#111" stroke="#111" stroke-width="0.28" text-anchor="end">RPMI-8266 + BMSCs + Chemo (48h)</text>
</g></svg></body></html>
